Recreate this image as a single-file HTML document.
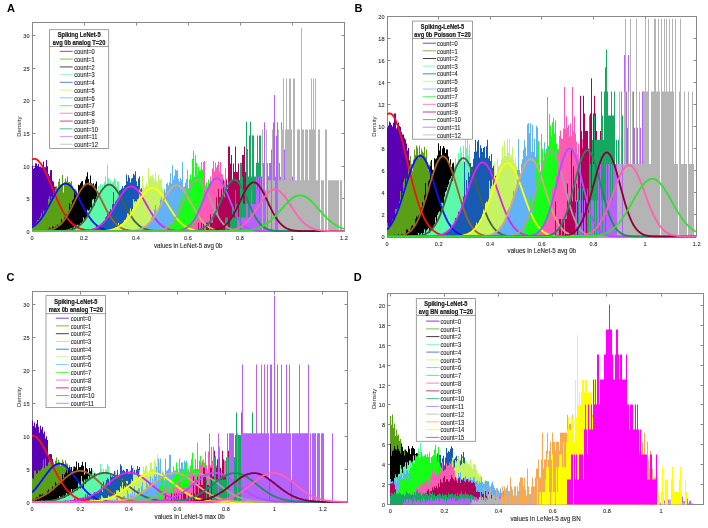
<!DOCTYPE html><html><head><meta charset="utf-8"><style>html,body{margin:0;padding:0;background:#fff;overflow:hidden}svg{display:block}text{font-family:"Liberation Sans",sans-serif}</style></head><body>
<svg width="708" height="528" viewBox="0 0 708 528">
<defs><filter id="bl" x="0" y="0" width="708" height="528" filterUnits="userSpaceOnUse"><feGaussianBlur stdDeviation="0.45"/></filter></defs>
<rect width="708" height="528" fill="#fff"/>
<g filter="url(#bl)">
<rect width="708" height="528" fill="#fff"/>
<rect x="32.5" y="22.5" width="312.0" height="209.0" fill="none" stroke="#888888" stroke-width="1"/>
<path d="M32.5 231.5h3.0M344.5 231.5h-3.0" stroke="#888888" stroke-width="1"/>
<text transform="translate(29.50 233.70) scale(1 1.100)" font-size="5.60" text-anchor="end" stroke="#333" stroke-width="0.10" fill="#333">0</text>
<path d="M32.5 198.5h3.0M344.5 198.5h-3.0" stroke="#888888" stroke-width="1"/>
<text transform="translate(29.50 201.10) scale(1 1.100)" font-size="5.60" text-anchor="end" stroke="#333" stroke-width="0.10" fill="#333">5</text>
<path d="M32.5 166.5h3.0M344.5 166.5h-3.0" stroke="#888888" stroke-width="1"/>
<text transform="translate(29.50 168.50) scale(1 1.100)" font-size="5.60" text-anchor="end" stroke="#333" stroke-width="0.10" fill="#333">10</text>
<path d="M32.5 133.5h3.0M344.5 133.5h-3.0" stroke="#888888" stroke-width="1"/>
<text transform="translate(29.50 135.90) scale(1 1.100)" font-size="5.60" text-anchor="end" stroke="#333" stroke-width="0.10" fill="#333">15</text>
<path d="M32.5 100.5h3.0M344.5 100.5h-3.0" stroke="#888888" stroke-width="1"/>
<text transform="translate(29.50 103.30) scale(1 1.100)" font-size="5.60" text-anchor="end" stroke="#333" stroke-width="0.10" fill="#333">20</text>
<path d="M32.5 68.5h3.0M344.5 68.5h-3.0" stroke="#888888" stroke-width="1"/>
<text transform="translate(29.50 70.70) scale(1 1.100)" font-size="5.60" text-anchor="end" stroke="#333" stroke-width="0.10" fill="#333">25</text>
<path d="M32.5 35.5h3.0M344.5 35.5h-3.0" stroke="#888888" stroke-width="1"/>
<text transform="translate(29.50 38.10) scale(1 1.100)" font-size="5.60" text-anchor="end" stroke="#333" stroke-width="0.10" fill="#333">30</text>
<path d="M32.5 231.5v-3.0M32.5 22.5v3.0" stroke="#888888" stroke-width="1"/>
<text transform="translate(32.00 240.20) scale(1 1.100)" font-size="5.60" text-anchor="middle" stroke="#333" stroke-width="0.10" fill="#333">0</text>
<path d="M84.5 231.5v-3.0M84.5 22.5v3.0" stroke="#888888" stroke-width="1"/>
<text transform="translate(84.00 240.20) scale(1 1.100)" font-size="5.60" text-anchor="middle" stroke="#333" stroke-width="0.10" fill="#333">0.2</text>
<path d="M136.5 231.5v-3.0M136.5 22.5v3.0" stroke="#888888" stroke-width="1"/>
<text transform="translate(136.00 240.20) scale(1 1.100)" font-size="5.60" text-anchor="middle" stroke="#333" stroke-width="0.10" fill="#333">0.4</text>
<path d="M188.5 231.5v-3.0M188.5 22.5v3.0" stroke="#888888" stroke-width="1"/>
<text transform="translate(188.00 240.20) scale(1 1.100)" font-size="5.60" text-anchor="middle" stroke="#333" stroke-width="0.10" fill="#333">0.6</text>
<path d="M240.5 231.5v-3.0M240.5 22.5v3.0" stroke="#888888" stroke-width="1"/>
<text transform="translate(240.00 240.20) scale(1 1.100)" font-size="5.60" text-anchor="middle" stroke="#333" stroke-width="0.10" fill="#333">0.8</text>
<path d="M292.5 231.5v-3.0M292.5 22.5v3.0" stroke="#888888" stroke-width="1"/>
<text transform="translate(292.00 240.20) scale(1 1.100)" font-size="5.60" text-anchor="middle" stroke="#333" stroke-width="0.10" fill="#333">1</text>
<path d="M344.5 231.5v-3.0M344.5 22.5v3.0" stroke="#888888" stroke-width="1"/>
<text transform="translate(344.00 240.20) scale(1 1.100)" font-size="5.60" text-anchor="middle" stroke="#333" stroke-width="0.10" fill="#333">1.2</text>
<text transform="translate(188.20 247.80) scale(1 1.050)" font-size="6.20" text-anchor="middle" stroke="#262626" stroke-width="0.10" fill="#262626">values in LeNet-5 avg 0b</text>
<text transform="translate(18.7 126.7) rotate(-90)" text-anchor="middle" font-size="6.1" fill="#262626" dy="2.1">Density</text>
<text transform="translate(7.00 11.80) scale(1 1.000)" font-size="11.00" font-weight="bold" fill="#000">A</text>
<rect x="387.5" y="16.5" width="309.0" height="220.0" fill="none" stroke="#888888" stroke-width="1"/>
<path d="M387.5 236.5h3.0M696.5 236.5h-3.0" stroke="#888888" stroke-width="1"/>
<text transform="translate(384.50 239.10) scale(1 1.100)" font-size="5.60" text-anchor="end" stroke="#333" stroke-width="0.10" fill="#333">0</text>
<path d="M387.5 214.5h3.0M696.5 214.5h-3.0" stroke="#888888" stroke-width="1"/>
<text transform="translate(384.50 217.10) scale(1 1.100)" font-size="5.60" text-anchor="end" stroke="#333" stroke-width="0.10" fill="#333">2</text>
<path d="M387.5 192.5h3.0M696.5 192.5h-3.0" stroke="#888888" stroke-width="1"/>
<text transform="translate(384.50 195.10) scale(1 1.100)" font-size="5.60" text-anchor="end" stroke="#333" stroke-width="0.10" fill="#333">4</text>
<path d="M387.5 170.5h3.0M696.5 170.5h-3.0" stroke="#888888" stroke-width="1"/>
<text transform="translate(384.50 173.10) scale(1 1.100)" font-size="5.60" text-anchor="end" stroke="#333" stroke-width="0.10" fill="#333">6</text>
<path d="M387.5 148.5h3.0M696.5 148.5h-3.0" stroke="#888888" stroke-width="1"/>
<text transform="translate(384.50 151.10) scale(1 1.100)" font-size="5.60" text-anchor="end" stroke="#333" stroke-width="0.10" fill="#333">8</text>
<path d="M387.5 126.5h3.0M696.5 126.5h-3.0" stroke="#888888" stroke-width="1"/>
<text transform="translate(384.50 129.10) scale(1 1.100)" font-size="5.60" text-anchor="end" stroke="#333" stroke-width="0.10" fill="#333">10</text>
<path d="M387.5 104.5h3.0M696.5 104.5h-3.0" stroke="#888888" stroke-width="1"/>
<text transform="translate(384.50 107.10) scale(1 1.100)" font-size="5.60" text-anchor="end" stroke="#333" stroke-width="0.10" fill="#333">12</text>
<path d="M387.5 82.5h3.0M696.5 82.5h-3.0" stroke="#888888" stroke-width="1"/>
<text transform="translate(384.50 85.10) scale(1 1.100)" font-size="5.60" text-anchor="end" stroke="#333" stroke-width="0.10" fill="#333">14</text>
<path d="M387.5 60.5h3.0M696.5 60.5h-3.0" stroke="#888888" stroke-width="1"/>
<text transform="translate(384.50 63.10) scale(1 1.100)" font-size="5.60" text-anchor="end" stroke="#333" stroke-width="0.10" fill="#333">16</text>
<path d="M387.5 38.5h3.0M696.5 38.5h-3.0" stroke="#888888" stroke-width="1"/>
<text transform="translate(384.50 41.10) scale(1 1.100)" font-size="5.60" text-anchor="end" stroke="#333" stroke-width="0.10" fill="#333">18</text>
<path d="M387.5 16.5h3.0M696.5 16.5h-3.0" stroke="#888888" stroke-width="1"/>
<text transform="translate(384.50 19.10) scale(1 1.100)" font-size="5.60" text-anchor="end" stroke="#333" stroke-width="0.10" fill="#333">20</text>
<path d="M387.5 236.5v-3.0M387.5 16.5v3.0" stroke="#888888" stroke-width="1"/>
<text transform="translate(387.00 245.60) scale(1 1.100)" font-size="5.60" text-anchor="middle" stroke="#333" stroke-width="0.10" fill="#333">0</text>
<path d="M438.5 236.5v-3.0M438.5 16.5v3.0" stroke="#888888" stroke-width="1"/>
<text transform="translate(438.60 245.60) scale(1 1.100)" font-size="5.60" text-anchor="middle" stroke="#333" stroke-width="0.10" fill="#333">0.2</text>
<path d="M490.5 236.5v-3.0M490.5 16.5v3.0" stroke="#888888" stroke-width="1"/>
<text transform="translate(490.20 245.60) scale(1 1.100)" font-size="5.60" text-anchor="middle" stroke="#333" stroke-width="0.10" fill="#333">0.4</text>
<path d="M541.5 236.5v-3.0M541.5 16.5v3.0" stroke="#888888" stroke-width="1"/>
<text transform="translate(541.80 245.60) scale(1 1.100)" font-size="5.60" text-anchor="middle" stroke="#333" stroke-width="0.10" fill="#333">0.6</text>
<path d="M593.5 236.5v-3.0M593.5 16.5v3.0" stroke="#888888" stroke-width="1"/>
<text transform="translate(593.40 245.60) scale(1 1.100)" font-size="5.60" text-anchor="middle" stroke="#333" stroke-width="0.10" fill="#333">0.8</text>
<path d="M645.5 236.5v-3.0M645.5 16.5v3.0" stroke="#888888" stroke-width="1"/>
<text transform="translate(645.00 245.60) scale(1 1.100)" font-size="5.60" text-anchor="middle" stroke="#333" stroke-width="0.10" fill="#333">1</text>
<path d="M696.5 236.5v-3.0M696.5 16.5v3.0" stroke="#888888" stroke-width="1"/>
<text transform="translate(696.60 245.60) scale(1 1.100)" font-size="5.60" text-anchor="middle" stroke="#333" stroke-width="0.10" fill="#333">1.2</text>
<text transform="translate(541.80 253.20) scale(1 1.050)" font-size="6.20" text-anchor="middle" stroke="#262626" stroke-width="0.10" fill="#262626">values in LeNet-5 avg 0b</text>
<text transform="translate(373.7 126.6) rotate(-90)" text-anchor="middle" font-size="6.1" fill="#262626" dy="2.1">Density</text>
<text transform="translate(354.40 11.90) scale(1 1.000)" font-size="11.00" font-weight="bold" fill="#000">B</text>
<rect x="32.5" y="291.5" width="315.0" height="211.0" fill="none" stroke="#888888" stroke-width="1"/>
<path d="M32.5 502.5h3.0M347.5 502.5h-3.0" stroke="#888888" stroke-width="1"/>
<text transform="translate(29.50 504.50) scale(1 1.100)" font-size="5.60" text-anchor="end" stroke="#333" stroke-width="0.10" fill="#333">0</text>
<path d="M32.5 469.5h3.0M347.5 469.5h-3.0" stroke="#888888" stroke-width="1"/>
<text transform="translate(29.50 471.62) scale(1 1.100)" font-size="5.60" text-anchor="end" stroke="#333" stroke-width="0.10" fill="#333">5</text>
<path d="M32.5 436.5h3.0M347.5 436.5h-3.0" stroke="#888888" stroke-width="1"/>
<text transform="translate(29.50 438.75) scale(1 1.100)" font-size="5.60" text-anchor="end" stroke="#333" stroke-width="0.10" fill="#333">10</text>
<path d="M32.5 403.5h3.0M347.5 403.5h-3.0" stroke="#888888" stroke-width="1"/>
<text transform="translate(29.50 405.88) scale(1 1.100)" font-size="5.60" text-anchor="end" stroke="#333" stroke-width="0.10" fill="#333">15</text>
<path d="M32.5 370.5h3.0M347.5 370.5h-3.0" stroke="#888888" stroke-width="1"/>
<text transform="translate(29.50 373.00) scale(1 1.100)" font-size="5.60" text-anchor="end" stroke="#333" stroke-width="0.10" fill="#333">20</text>
<path d="M32.5 337.5h3.0M347.5 337.5h-3.0" stroke="#888888" stroke-width="1"/>
<text transform="translate(29.50 340.12) scale(1 1.100)" font-size="5.60" text-anchor="end" stroke="#333" stroke-width="0.10" fill="#333">25</text>
<path d="M32.5 304.5h3.0M347.5 304.5h-3.0" stroke="#888888" stroke-width="1"/>
<text transform="translate(29.50 307.25) scale(1 1.100)" font-size="5.60" text-anchor="end" stroke="#333" stroke-width="0.10" fill="#333">30</text>
<path d="M32.5 502.5v-3.0M32.5 291.5v3.0" stroke="#888888" stroke-width="1"/>
<text transform="translate(32.00 511.00) scale(1 1.100)" font-size="5.60" text-anchor="middle" stroke="#333" stroke-width="0.10" fill="#333">0</text>
<path d="M80.5 502.5v-3.0M80.5 291.5v3.0" stroke="#888888" stroke-width="1"/>
<text transform="translate(80.48 511.00) scale(1 1.100)" font-size="5.60" text-anchor="middle" stroke="#333" stroke-width="0.10" fill="#333">0.2</text>
<path d="M128.5 502.5v-3.0M128.5 291.5v3.0" stroke="#888888" stroke-width="1"/>
<text transform="translate(128.96 511.00) scale(1 1.100)" font-size="5.60" text-anchor="middle" stroke="#333" stroke-width="0.10" fill="#333">0.4</text>
<path d="M177.5 502.5v-3.0M177.5 291.5v3.0" stroke="#888888" stroke-width="1"/>
<text transform="translate(177.44 511.00) scale(1 1.100)" font-size="5.60" text-anchor="middle" stroke="#333" stroke-width="0.10" fill="#333">0.6</text>
<path d="M225.5 502.5v-3.0M225.5 291.5v3.0" stroke="#888888" stroke-width="1"/>
<text transform="translate(225.92 511.00) scale(1 1.100)" font-size="5.60" text-anchor="middle" stroke="#333" stroke-width="0.10" fill="#333">0.8</text>
<path d="M274.5 502.5v-3.0M274.5 291.5v3.0" stroke="#888888" stroke-width="1"/>
<text transform="translate(274.40 511.00) scale(1 1.100)" font-size="5.60" text-anchor="middle" stroke="#333" stroke-width="0.10" fill="#333">1</text>
<path d="M322.5 502.5v-3.0M322.5 291.5v3.0" stroke="#888888" stroke-width="1"/>
<text transform="translate(322.88 511.00) scale(1 1.100)" font-size="5.60" text-anchor="middle" stroke="#333" stroke-width="0.10" fill="#333">1.2</text>
<text transform="translate(189.65 518.60) scale(1 1.050)" font-size="6.20" text-anchor="middle" stroke="#262626" stroke-width="0.10" fill="#262626">values in LeNet-5 max 0b</text>
<text transform="translate(18.7 396.8) rotate(-90)" text-anchor="middle" font-size="6.1" fill="#262626" dy="2.1">Density</text>
<text transform="translate(6.40 280.60) scale(1 1.000)" font-size="11.00" font-weight="bold" fill="#000">C</text>
<rect x="387.5" y="293.5" width="316.0" height="211.0" fill="none" stroke="#888888" stroke-width="1"/>
<path d="M387.5 504.5h3.0M703.5 504.5h-3.0" stroke="#888888" stroke-width="1"/>
<text transform="translate(385.00 506.90) scale(1 1.100)" font-size="5.60" text-anchor="end" stroke="#333" stroke-width="0.10" fill="#333">0</text>
<path d="M387.5 484.5h3.0M703.5 484.5h-3.0" stroke="#888888" stroke-width="1"/>
<text transform="translate(385.00 487.00) scale(1 1.100)" font-size="5.60" text-anchor="end" stroke="#333" stroke-width="0.10" fill="#333">2</text>
<path d="M387.5 464.5h3.0M703.5 464.5h-3.0" stroke="#888888" stroke-width="1"/>
<text transform="translate(385.00 467.10) scale(1 1.100)" font-size="5.60" text-anchor="end" stroke="#333" stroke-width="0.10" fill="#333">4</text>
<path d="M387.5 444.5h3.0M703.5 444.5h-3.0" stroke="#888888" stroke-width="1"/>
<text transform="translate(385.00 447.20) scale(1 1.100)" font-size="5.60" text-anchor="end" stroke="#333" stroke-width="0.10" fill="#333">6</text>
<path d="M387.5 424.5h3.0M703.5 424.5h-3.0" stroke="#888888" stroke-width="1"/>
<text transform="translate(385.00 427.30) scale(1 1.100)" font-size="5.60" text-anchor="end" stroke="#333" stroke-width="0.10" fill="#333">8</text>
<path d="M387.5 404.5h3.0M703.5 404.5h-3.0" stroke="#888888" stroke-width="1"/>
<text transform="translate(385.00 407.40) scale(1 1.100)" font-size="5.60" text-anchor="end" stroke="#333" stroke-width="0.10" fill="#333">10</text>
<path d="M387.5 385.5h3.0M703.5 385.5h-3.0" stroke="#888888" stroke-width="1"/>
<text transform="translate(385.00 387.50) scale(1 1.100)" font-size="5.60" text-anchor="end" stroke="#333" stroke-width="0.10" fill="#333">12</text>
<path d="M387.5 365.5h3.0M703.5 365.5h-3.0" stroke="#888888" stroke-width="1"/>
<text transform="translate(385.00 367.60) scale(1 1.100)" font-size="5.60" text-anchor="end" stroke="#333" stroke-width="0.10" fill="#333">14</text>
<path d="M387.5 345.5h3.0M703.5 345.5h-3.0" stroke="#888888" stroke-width="1"/>
<text transform="translate(385.00 347.70) scale(1 1.100)" font-size="5.60" text-anchor="end" stroke="#333" stroke-width="0.10" fill="#333">16</text>
<path d="M387.5 325.5h3.0M703.5 325.5h-3.0" stroke="#888888" stroke-width="1"/>
<text transform="translate(385.00 327.80) scale(1 1.100)" font-size="5.60" text-anchor="end" stroke="#333" stroke-width="0.10" fill="#333">18</text>
<path d="M387.5 305.5h3.0M703.5 305.5h-3.0" stroke="#888888" stroke-width="1"/>
<text transform="translate(385.00 307.90) scale(1 1.100)" font-size="5.60" text-anchor="end" stroke="#333" stroke-width="0.10" fill="#333">20</text>
<path d="M390.5 504.5v-3.0M390.5 293.5v3.0" stroke="#888888" stroke-width="1"/>
<text transform="translate(390.20 513.40) scale(1 1.100)" font-size="5.60" text-anchor="middle" stroke="#333" stroke-width="0.10" fill="#333">0</text>
<path d="M444.5 504.5v-3.0M444.5 293.5v3.0" stroke="#888888" stroke-width="1"/>
<text transform="translate(444.38 513.40) scale(1 1.100)" font-size="5.60" text-anchor="middle" stroke="#333" stroke-width="0.10" fill="#333">0.2</text>
<path d="M498.5 504.5v-3.0M498.5 293.5v3.0" stroke="#888888" stroke-width="1"/>
<text transform="translate(498.56 513.40) scale(1 1.100)" font-size="5.60" text-anchor="middle" stroke="#333" stroke-width="0.10" fill="#333">0.4</text>
<path d="M552.5 504.5v-3.0M552.5 293.5v3.0" stroke="#888888" stroke-width="1"/>
<text transform="translate(552.74 513.40) scale(1 1.100)" font-size="5.60" text-anchor="middle" stroke="#333" stroke-width="0.10" fill="#333">0.6</text>
<path d="M606.5 504.5v-3.0M606.5 293.5v3.0" stroke="#888888" stroke-width="1"/>
<text transform="translate(606.92 513.40) scale(1 1.100)" font-size="5.60" text-anchor="middle" stroke="#333" stroke-width="0.10" fill="#333">0.8</text>
<path d="M661.5 504.5v-3.0M661.5 293.5v3.0" stroke="#888888" stroke-width="1"/>
<text transform="translate(661.10 513.40) scale(1 1.100)" font-size="5.60" text-anchor="middle" stroke="#333" stroke-width="0.10" fill="#333">1</text>
<text transform="translate(545.55 521.00) scale(1 1.050)" font-size="6.20" text-anchor="middle" stroke="#262626" stroke-width="0.10" fill="#262626">values in LeNet-5 avg BN</text>
<text transform="translate(374.2 398.9) rotate(-90)" text-anchor="middle" font-size="6.1" fill="#262626" dy="2.1">Density</text>
<text transform="translate(353.80 280.80) scale(1 1.000)" font-size="11.00" font-weight="bold" fill="#000">D</text>
<clipPath id="cA"><rect x="32.0" y="21.2" width="312.4" height="211.0"/></clipPath>
<g clip-path="url(#cA)">
<path d="M32 231.2V165.5H33V168.7H34V167.7H35V163.2H36V163.6H37V165.7H38V163.8H39V166.7H40V166.4H41V167.4H42V166.4H43V161.6H44V167.3H45V167.3H46V160.1H47V166.3H48V173.9H49V176.1H50V170.3H51V170.1H52V180.7H53V181.7H54V186.4H55V186.8H56V188.4H57V195.3H58V199.0H59V201.0H60V204.6H61V208.7H62V211.2H63V214.4H64V217.1H65V216.4H66V221.6H67V223.0H68V224.9H69V226.7H70V227.8H71V228.8H72V229.5H73V230.0H74V230.4H75V230.7H76V230.9H77V231.0H78V231.1H79V231.2" fill="#5a00b4"/>
<path d="M32 231.2V226.5H33V224.9H34V225.7H35V223.4H36V222.2H37V219.9H38V219.9H39V217.9H40V216.3H41V212.8H42V215.9H43V210.5H44V211.6H45V210.1H46V208.5H47V206.6H48V198.7H49V196.0H50V200.3H51V196.4H52V197.6H53V194.0H54V195.2H55V188.2H56V186.2H57V187.8H58V181.5H59V178.4H60V184.6H61V183.9H62V174.9H63V192.5H64V182.3H65V178.4H66V181.5H67V176.4H68V182.3H69V181.9H70V182.7H71V181.1H72V185.8H73V189.0H74V189.3H75V189.3H76V190.5H77V192.5H78V196.0H79V197.9H80V194.8H81V197.9H82V197.2H83V203.8H84V209.3H85V207.3H86V208.1H87V212.8H88V213.6H89V217.5H90V216.3H91V219.9H92V219.5H93V219.1H94V221.8H95V223.4H96V223.4H97V224.2H98V226.5H99V225.3H100V227.3H101V226.9H102V227.7H103V226.5H104V228.9H105V228.1H106V230.0H107V228.9H108V229.6H109V230.0H110V230.0H111V230.4H112V230.0H113V230.0H114V230.8H115V230.8H116V230.8H117V230.8H118V231.2" fill="#5aa014"/>
<path d="M39 231.2V230.7H40V231.2M42 231.2V230.2H43V230.2H44V230.7H45V230.7H46V230.2H47V230.2H48V229.6H49V227.5H50V228.6H51V229.1H52V226.5H53V227.0H54V228.6H55V226.5H56V226.5H57V224.4H58V224.9H59V224.9H60V222.9H61V219.2H62V221.3H63V221.8H64V217.6H65V216.1H66V214.5H67V214.0H68V210.9H69V203.6H70V207.2H71V204.6H72V200.4H73V198.9H74V192.6H75V194.7H76V198.9H77V194.2H78V184.8H79V185.3H80V183.2H81V181.6H82V181.1H83V186.9H84V185.8H85V179.6H86V176.4H87V172.3H88V179.0H89V185.3H90V175.4H91V183.2H92V184.3H93V183.2H94V185.8H95V183.7H96V181.6H97V193.6H98V190.0H99V194.2H100V198.9H101V199.9H102V197.8H103V199.9H104V204.1H105V197.3H106V201.5H107V208.2H108V210.9H109V217.1H110V213.5H111V217.6H112V220.8H113V218.7H114V220.8H115V220.2H116V223.4H117V224.9H118V225.5H119V224.9H120V224.4H121V228.6H122V227.5H123V228.1H124V227.5H125V229.1H126V229.1H127V230.7H128V230.7H129V230.2H130V229.6H131V230.7H132V230.7H133V230.7H134V231.2M136 231.2V230.7H137V230.7H138V231.2" fill="#000000"/>
<path d="M59 231.2V230.5H60V230.5H61V231.2M62 231.2V230.5H63V230.5H64V230.5H65V231.2M66 231.2V229.8H67V229.8H68V229.0H69V229.0H70V228.3H71V228.3H72V229.0H73V227.6H74V226.2H75V228.3H76V225.5H77V224.7H78V225.5H79V225.5H80V223.3H81V224.0H82V221.9H83V217.6H84V219.7H85V218.3H86V217.6H87V209.7H88V210.4H89V209.7H90V207.5H91V208.2H92V199.6H93V198.9H94V205.4H95V198.9H96V196.8H97V191.0H98V186.0H99V193.9H100V183.9H101V190.3H102V184.6H103V188.9H104V181.7H105V176.7H106V183.9H107V164.5H108V178.1H109V183.1H110V180.3H111V186.0H112V182.4H113V181.0H114V178.1H115V179.6H116V186.0H117V181.0H118V181.7H119V193.2H120V193.9H121V187.5H122V200.4H123V204.7H124V197.5H125V201.1H126V208.2H127V206.1H128V202.5H129V208.2H130V216.1H131V215.4H132V216.9H133V214.7H134V221.2H135V220.4H136V220.4H137V223.3H138V224.0H139V224.7H140V226.2H141V226.9H142V227.6H143V226.9H144V227.6H145V226.9H146V226.9H147V227.6H148V229.0H149V230.5H150V229.8H151V231.2M152 231.2V230.5H153V229.8H154V230.5H155V231.2M156 231.2V230.5H157V230.5H158V231.2M159 231.2V229.8H160V231.2" fill="#5afaaa"/>
<path d="M79 231.2V231.0H80V231.0H81V231.0H82V230.9H83V230.9H84V230.7H85V230.7H86V230.4H87V230.4H88V230.1H89V230.1H90V229.8H91V229.5H92V229.1H93V228.5H94V228.4H95V228.1H96V225.8H97V226.5H98V226.4H99V225.2H100V224.5H101V223.6H102V222.5H103V221.0H104V220.5H105V217.5H106V216.2H107V214.3H108V214.7H109V211.4H110V209.0H111V210.1H112V204.3H113V191.9H114V204.0H115V201.5H116V200.2H117V198.6H118V196.7H119V190.6H120V189.7H121V188.9H122V186.2H123V188.3H124V185.9H125V185.1H126V174.4H127V181.2H128V175.2H129V178.0H130V182.4H131V178.6H132V178.0H133V173.7H134V175.2H135V171.2H136V181.2H137V185.9H138V178.6H139V176.4H140V189.2H141V188.2H142V187.5H143V191.7H144V198.3H145V192.8H146V200.0H147V203.5H148V201.9H149V203.2H150V209.7H151V211.0H152V213.0H153V213.5H154V213.7H155V218.1H156V215.6H157V214.6H158V221.5H159V222.8H160V221.4H161V224.4H162V225.2H163V224.3H164V225.9H165V227.6H166V228.1H167V228.4H168V228.4H169V229.3H170V229.5H171V229.8H172V230.0H173V230.0H174V230.4H175V230.6H176V230.7H177V230.8H178V230.8H179V230.8H180V231.0H181V231.0H182V231.0H183V231.1H184V231.2" fill="#145ab4"/>
<path d="M98 231.2V231.1H99V231.0H100V231.0H101V231.0H102V230.9H103V230.8H104V230.7H105V230.6H106V230.5H107V230.3H108V230.2H109V229.9H110V229.8H111V229.6H112V229.4H113V228.9H114V228.7H115V227.2H116V227.6H117V226.8H118V222.9H119V225.6H120V224.3H121V224.3H122V223.5H123V221.7H124V219.9H125V219.4H126V217.6H127V213.3H128V212.1H129V211.4H130V208.4H131V211.5H132V208.9H133V198.9H134V201.8H135V201.0H136V201.4H137V199.2H138V198.6H139V189.6H140V191.2H141V191.9H142V175.4H143V186.3H144V188.2H145V186.3H146V183.3H147V185.6H148V168.6H149V179.1H150V175.4H151V176.6H152V175.1H153V177.6H154V180.7H155V172.2H156V180.8H157V183.0H158V174.4H159V179.5H160V179.7H161V178.7H162V187.9H163V190.4H164V194.6H165V197.5H166V195.5H167V193.5H168V196.6H169V184.5H170V206.8H171V207.3H172V203.7H173V211.5H174V209.5H175V214.4H176V216.1H177V216.5H178V218.7H179V220.3H180V221.6H181V222.0H182V223.5H183V224.1H184V223.9H185V225.7H186V225.5H187V227.4H188V227.5H189V227.8H190V228.5H191V228.8H192V229.3H193V229.4H194V229.0H195V230.1H196V230.2H197V230.5H198V230.6H199V230.4H200V230.7H201V230.8H202V230.8H203V230.9H204V231.0H205V231.0H206V231.1H207V231.2" fill="#c4f464"/>
<path d="M127 231.2V231.1H128V231.0H129V230.9H130V230.9H131V230.8H132V230.5H133V230.5H134V230.5H135V230.3H136V230.1H137V230.0H138V229.4H139V229.4H140V227.9H141V228.3H142V226.5H143V227.7H144V226.9H145V226.1H146V225.5H147V223.8H148V223.4H149V222.8H150V221.5H151V217.6H152V215.5H153V216.8H154V209.3H155V205.0H156V211.0H157V210.5H158V208.4H159V205.5H160V199.8H161V197.0H162V200.6H163V197.2H164V189.1H165V192.4H166V184.0H167V182.7H168V185.4H169V182.6H170V173.1H171V183.6H172V165.3H173V179.4H174V175.5H175V169.3H176V170.8H177V170.1H178V179.1H179V182.1H180V177.9H181V179.9H182V162.1H183V186.9H184V186.5H185V182.7H186V179.1H187V169.9H188V193.8H189V193.5H190V197.3H191V198.3H192V204.0H193V199.7H194V208.4H195V208.1H196V209.8H197V214.0H198V215.0H199V215.4H200V214.4H201V217.9H202V220.9H203V221.0H204V223.2H205V222.8H206V224.1H207V225.5H208V226.8H209V225.7H210V228.2H211V227.9H212V229.0H213V229.1H214V228.9H215V229.0H216V230.1H217V230.3H218V230.4H219V230.5H220V230.7H221V230.8H222V230.9H223V230.9H224V231.0H225V231.1H226V231.0H227V231.2" fill="#62b2f8"/>
<path d="M153 231.2V231.1H154V231.0H155V231.0H156V230.8H157V230.8H158V230.7H159V230.6H160V230.3H161V230.0H162V229.9H163V228.9H164V229.0H165V228.4H166V225.3H167V227.7H168V227.3H169V225.6H170V224.6H171V223.0H172V221.9H173V221.6H174V214.3H175V216.0H176V217.0H177V207.7H178V207.8H179V203.8H180V201.4H181V204.7H182V192.9H183V200.2H184V197.4H185V194.2H186V188.3H187V190.2H188V188.9H189V179.3H190V174.6H191V179.7H192V158.8H193V151.0H194V176.9H195V155.1H196V163.0H197V174.6H198V166.8H199V170.7H200V170.2H201V162.1H202V169.5H203V161.9H204V181.7H205V185.2H206V182.4H207V186.4H208V179.4H209V194.8H210V192.6H211V199.1H212V185.8H213V188.2H214V207.6H215V189.2H216V211.6H217V207.4H218V215.4H219V215.1H220V210.7H221V221.0H222V221.8H223V219.6H224V222.8H225V221.4H226V226.3H227V227.4H228V228.0H229V228.3H230V228.6H231V229.5H232V229.8H233V230.0H234V230.0H235V230.4H236V230.6H237V230.6H238V230.7H239V230.9H240V231.0H241V231.0H242V231.1H243V231.2" fill="#14ff14"/>
<path d="M176 231.2V231.1H177V231.0H178V231.0H179V230.9H180V230.8H181V230.7H182V230.5H183V230.4H184V230.2H185V229.9H186V228.6H187V228.7H188V228.8H189V227.8H190V226.8H191V226.0H192V225.7H193V223.1H194V222.2H195V221.3H196V220.3H197V215.3H198V216.6H199V212.5H200V205.0H201V204.9H202V199.8H203V203.1H204V160.9H205V191.2H206V193.1H207V189.2H208V188.0H209V183.2H210V176.4H211V182.0H212V168.5H213V161.0H214V171.3H215V162.8H216V167.4H217V165.1H218V161.6H219V171.4H220V161.9H221V173.7H222V174.5H223V178.4H224V180.7H225V168.3H226V178.6H227V190.7H228V184.5H229V196.6H230V176.5H231V195.1H232V203.7H233V204.1H234V193.3H235V212.7H236V211.2H237V215.7H238V218.4H239V214.5H240V222.2H241V223.0H242V222.6H243V225.2H244V223.9H245V227.4H246V228.1H247V228.5H248V229.2H249V229.3H250V229.9H251V230.3H252V230.4H253V230.5H254V230.8H255V230.8H256V230.9H257V231.0H258V231.1H259V231.2" fill="#ff5ab4"/>
<path d="M198 231.2V222.7H199V231.2M201 231.2V222.7H202V231.2M203 231.2V222.7H204V231.2M206 231.2V222.7H207V222.7H208V222.7H209V231.2M210 231.2V214.2H211V222.7H212V222.7H213V214.2H214V214.2H215V214.2H216V197.3H217V214.2H218V188.8H219V197.3H220V197.3H221V188.8H222V197.3H223V180.3H224V197.3H225V188.8H226V180.3H227V188.8H228V146.4H229V146.4H230V163.4H231V154.9H232V180.3H233V163.4H234V171.9H235V146.4H236V171.9H237V171.9H238V163.4H239V180.3H240V163.4H241V171.9H242V154.9H243V154.9H244V146.4H245V171.9H246V154.9H247V197.3H248V188.8H249V171.9H250V197.3H251V205.8H252V197.3H253V197.3H254V205.8H255V205.8H256V188.8H257V197.3H258V214.2H259V214.2H260V231.2M261 231.2V214.2H262V214.2H263V222.7H264V222.7H265V231.2M267 231.2V222.7H268V231.2M271 231.2V222.7H272V231.2M273 231.2V222.7H274V231.2" fill="#b00058"/>
<path d="M225 231.2V217.5H226V217.5H227V217.5H228V231.2M230 231.2V217.5H231V217.5H232V203.8H233V217.5H234V217.5H235V190.1H236V203.8H237V203.8H238V217.5H239V203.8H240V162.7H241V162.7H242V176.4H243V203.8H244V203.8H245V190.1H246V121.7H247V149.0H248V176.4H249V135.4H250V121.7H251V176.4H252V135.4H253V135.4H254V176.4H255V176.4H256V162.7H257V135.4H258V162.7H259V135.4H260V135.4H261V176.4H262V149.0H263V190.1H264V149.0H265V203.8H266V176.4H267V203.8H268V176.4H269V190.1H270V203.8H271V203.8H272V203.8H273V217.5H274V217.5H275V190.1H276V190.1H277V231.2M281 231.2V217.5H282V217.5H283V203.8H284V217.5H285V217.5H286V231.2M287 231.2V217.5H288V231.2M292 231.2V217.5H293V217.5H294V231.2" fill="#14a864"/>
<path d="M237 231.2V217.6H238V217.6H239V217.6H240V231.2M241 231.2V217.6H242V217.6H243V217.6H244V217.6H245V217.6H246V203.9H247V203.9H248V217.6H249V217.6H250V203.9H251V190.3H252V203.9H253V203.9H254V203.9H255V203.9H256V176.7H257V190.3H258V176.7H259V203.9H260V176.7H261V190.3H262V190.3H263V163.1H264V122.3H265V190.3H266V163.1H267V163.1H268V176.7H269V163.1H270V163.1H271V149.4H272V163.1H273V122.3H274V94.9H275V176.7H276V135.8H277V122.3H278V176.7H279V163.1H280V176.7H281V122.3H282V190.3H283V149.4H284V149.4H285V163.1H286V176.7H287V135.8H288V163.1H289V163.1H290V163.1H291V176.7H292V176.7H293V176.7H294V163.1H295V190.3H296V190.3H297V203.9H298V190.3H299V176.7H300V217.6H301V203.9H302V176.7H303V176.7H304V203.9H305V217.6H306V203.9H307V231.2M308 231.2V203.9H309V231.2M312 231.2V217.6H313V203.9H314V217.6H315V217.6H316V231.2" fill="#b464ff"/>
<path d="M262 231.2V129.5H263V231.2M266 231.2V129.5H267V231.2M268 231.2V180.3H269V180.3H270V180.3H271V231.2M272 231.2V129.5H273V180.3H274V180.3H275V231.2M278 231.2V129.5H279V180.3H280V180.3H281V129.5H282V129.5H283V78.6H284V180.3H285V129.5H286V78.6H287V129.5H288V129.5H289V78.6H290V78.6H291V129.5H292V180.3H293V78.6H294V78.6H295V180.3H296V180.3H297V129.5H298V129.5H299V129.5H300V180.3H301V27.8H302V129.5H303V129.5H304V180.3H305V129.5H306V129.5H307V129.5H308V180.3H309V129.5H310V129.5H311V78.6H312V129.5H313V78.6H314V129.5H315V78.6H316V180.3H317V180.3H318V129.5H319V129.5H320V231.2M321 231.2V180.3H322V180.3H323V180.3H324V231.2M325 231.2V129.5H326V129.5H327V231.2M328 231.2V180.3H329V180.3H330V180.3H331V180.3H332V180.3H333V180.3H334V180.3H335V180.3H336V180.3H337V180.3H338V180.3H339V231.2M340 231.2V180.3H341V180.3H342V231.2M344 231.2V180.3H345V231.2" fill="#b4b4b4"/>
<path d="M32.0 159.3L33.0 159.0L34.0 158.8L35.0 158.9L36.0 159.2L37.0 159.8L38.0 160.5L39.0 161.5L40.0 162.7L41.0 164.0L42.0 165.5L43.0 167.2L44.0 169.1L45.0 171.1L46.0 173.2L47.0 175.4L48.0 177.6L49.0 180.0L50.0 182.4L51.0 184.8L52.0 187.3L53.0 189.7L54.0 192.1L55.0 194.5L56.0 196.9L57.0 199.2L58.0 201.4L59.0 203.6L60.0 205.7L61.0 207.7L62.0 209.6L63.0 211.5L64.0 213.2L65.0 214.8L66.0 216.3L67.0 217.8L68.0 219.1L69.0 220.3L70.0 221.4L71.0 222.5L72.0 223.4L73.0 224.3L74.0 225.1L75.0 225.8L76.0 226.5L77.0 227.1L78.0 227.6L79.0 228.1L80.0 228.5L81.0 228.8L82.0 229.2L83.0 229.4L84.0 229.7L85.0 229.9L86.0 230.1L87.0 230.3L88.0 230.4L89.0 230.5L90.0 230.6L91.0 230.7L92.0 230.8L93.0 230.9L94.0 230.9L95.0 231.0L96.0 231.0L97.0 231.0L98.0 231.1L99.0 231.1L100.0 231.1L101.0 231.1L102.0 231.1L103.0 231.2L104.0 231.2L105.0 231.2L106.0 231.2L107.0 231.2L108.0 231.2L109.0 231.2L110.0 231.2L111.0 231.2L112.0 231.2L113.0 231.2L114.0 231.2L115.0 231.2L116.0 231.2L117.0 231.2L118.0 231.2L119.0 231.2L120.0 231.2L121.0 231.2L122.0 231.2L123.0 231.2L124.0 231.2L125.0 231.2L126.0 231.2L127.0 231.2L128.0 231.2L129.0 231.2L130.0 231.2L131.0 231.2L132.0 231.2L133.0 231.2L134.0 231.2L135.0 231.2L136.0 231.2L137.0 231.2L138.0 231.2L139.0 231.2L140.0 231.2L141.0 231.2L142.0 231.2L143.0 231.2L144.0 231.2L145.0 231.2L146.0 231.2L147.0 231.2L148.0 231.2L149.0 231.2L150.0 231.2L151.0 231.2L152.0 231.2L153.0 231.2L154.0 231.2L155.0 231.2L156.0 231.2L157.0 231.2L158.0 231.2L159.0 231.2L160.0 231.2L161.0 231.2L162.0 231.2L163.0 231.2L164.0 231.2L165.0 231.2L166.0 231.2L167.0 231.2L168.0 231.2L169.0 231.2L170.0 231.2L171.0 231.2L172.0 231.2L173.0 231.2L174.0 231.2L175.0 231.2L176.0 231.2L177.0 231.2L178.0 231.2L179.0 231.2L180.0 231.2L181.0 231.2L182.0 231.2L183.0 231.2L184.0 231.2L185.0 231.2L186.0 231.2L187.0 231.2L188.0 231.2L189.0 231.2L190.0 231.2L191.0 231.2L192.0 231.2L193.0 231.2L194.0 231.2L195.0 231.2L196.0 231.2L197.0 231.2L198.0 231.2L199.0 231.2L200.0 231.2L201.0 231.2L202.0 231.2L203.0 231.2L204.0 231.2L205.0 231.2L206.0 231.2L207.0 231.2L208.0 231.2L209.0 231.2L210.0 231.2L211.0 231.2L212.0 231.2L213.0 231.2L214.0 231.2L215.0 231.2L216.0 231.2L217.0 231.2L218.0 231.2L219.0 231.2L220.0 231.2L221.0 231.2L222.0 231.2L223.0 231.2L224.0 231.2L225.0 231.2L226.0 231.2L227.0 231.2L228.0 231.2L229.0 231.2L230.0 231.2L231.0 231.2L232.0 231.2L233.0 231.2L234.0 231.2L235.0 231.2L236.0 231.2L237.0 231.2L238.0 231.2L239.0 231.2L240.0 231.2L241.0 231.2L242.0 231.2L243.0 231.2L244.0 231.2L245.0 231.2L246.0 231.2L247.0 231.2L248.0 231.2L249.0 231.2L250.0 231.2L251.0 231.2L252.0 231.2L253.0 231.2L254.0 231.2L255.0 231.2L256.0 231.2L257.0 231.2L258.0 231.2L259.0 231.2L260.0 231.2L261.0 231.2L262.0 231.2L263.0 231.2L264.0 231.2L265.0 231.2L266.0 231.2L267.0 231.2L268.0 231.2L269.0 231.2L270.0 231.2L271.0 231.2L272.0 231.2L273.0 231.2L274.0 231.2L275.0 231.2L276.0 231.2L277.0 231.2L278.0 231.2L279.0 231.2L280.0 231.2L281.0 231.2L282.0 231.2L283.0 231.2L284.0 231.2L285.0 231.2L286.0 231.2L287.0 231.2L288.0 231.2L289.0 231.2L290.0 231.2L291.0 231.2L292.0 231.2L293.0 231.2L294.0 231.2L295.0 231.2L296.0 231.2L297.0 231.2L298.0 231.2L299.0 231.2L300.0 231.2L301.0 231.2L302.0 231.2L303.0 231.2L304.0 231.2L305.0 231.2L306.0 231.2L307.0 231.2L308.0 231.2L309.0 231.2L310.0 231.2L311.0 231.2L312.0 231.2L313.0 231.2L314.0 231.2L315.0 231.2L316.0 231.2L317.0 231.2L318.0 231.2L319.0 231.2L320.0 231.2L321.0 231.2L322.0 231.2L323.0 231.2L324.0 231.2L325.0 231.2L326.0 231.2L327.0 231.2L328.0 231.2L329.0 231.2L330.0 231.2L331.0 231.2L332.0 231.2L333.0 231.2L334.0 231.2L335.0 231.2L336.0 231.2L337.0 231.2L338.0 231.2L339.0 231.2L340.0 231.2L341.0 231.2L342.0 231.2L343.0 231.2L344.0 231.2" fill="none" stroke="#ff1010" stroke-width="1.8"/>
<path d="M32.0 227.3L33.0 226.7L34.0 226.0L35.0 225.3L36.0 224.4L37.0 223.5L38.0 222.5L39.0 221.4L40.0 220.2L41.0 218.9L42.0 217.5L43.0 216.0L44.0 214.5L45.0 212.8L46.0 211.1L47.0 209.3L48.0 207.5L49.0 205.6L50.0 203.7L51.0 201.8L52.0 199.9L53.0 198.0L54.0 196.2L55.0 194.4L56.0 192.7L57.0 191.1L58.0 189.6L59.0 188.2L60.0 187.0L61.0 186.0L62.0 185.1L63.0 184.4L64.0 183.9L65.0 183.7L66.0 183.6L67.0 183.8L68.0 184.1L69.0 184.7L70.0 185.4L71.0 186.4L72.0 187.5L73.0 188.7L74.0 190.1L75.0 191.7L76.0 193.3L77.0 195.1L78.0 196.9L79.0 198.8L80.0 200.6L81.0 202.6L82.0 204.5L83.0 206.4L84.0 208.2L85.0 210.0L86.0 211.8L87.0 213.5L88.0 215.1L89.0 216.6L90.0 218.1L91.0 219.4L92.0 220.7L93.0 221.8L94.0 222.9L95.0 223.9L96.0 224.8L97.0 225.6L98.0 226.3L99.0 227.0L100.0 227.6L101.0 228.1L102.0 228.5L103.0 228.9L104.0 229.3L105.0 229.6L106.0 229.8L107.0 230.1L108.0 230.3L109.0 230.4L110.0 230.6L111.0 230.7L112.0 230.8L113.0 230.8L114.0 230.9L115.0 231.0L116.0 231.0L117.0 231.1L118.0 231.1L119.0 231.1L120.0 231.1L121.0 231.1L122.0 231.2L123.0 231.2L124.0 231.2L125.0 231.2L126.0 231.2L127.0 231.2L128.0 231.2L129.0 231.2L130.0 231.2L131.0 231.2L132.0 231.2L133.0 231.2L134.0 231.2L135.0 231.2L136.0 231.2L137.0 231.2L138.0 231.2L139.0 231.2L140.0 231.2L141.0 231.2L142.0 231.2L143.0 231.2L144.0 231.2L145.0 231.2L146.0 231.2L147.0 231.2L148.0 231.2L149.0 231.2L150.0 231.2L151.0 231.2L152.0 231.2L153.0 231.2L154.0 231.2L155.0 231.2L156.0 231.2L157.0 231.2L158.0 231.2L159.0 231.2L160.0 231.2L161.0 231.2L162.0 231.2L163.0 231.2L164.0 231.2L165.0 231.2L166.0 231.2L167.0 231.2L168.0 231.2L169.0 231.2L170.0 231.2L171.0 231.2L172.0 231.2L173.0 231.2L174.0 231.2L175.0 231.2L176.0 231.2L177.0 231.2L178.0 231.2L179.0 231.2L180.0 231.2L181.0 231.2L182.0 231.2L183.0 231.2L184.0 231.2L185.0 231.2L186.0 231.2L187.0 231.2L188.0 231.2L189.0 231.2L190.0 231.2L191.0 231.2L192.0 231.2L193.0 231.2L194.0 231.2L195.0 231.2L196.0 231.2L197.0 231.2L198.0 231.2L199.0 231.2L200.0 231.2L201.0 231.2L202.0 231.2L203.0 231.2L204.0 231.2L205.0 231.2L206.0 231.2L207.0 231.2L208.0 231.2L209.0 231.2L210.0 231.2L211.0 231.2L212.0 231.2L213.0 231.2L214.0 231.2L215.0 231.2L216.0 231.2L217.0 231.2L218.0 231.2L219.0 231.2L220.0 231.2L221.0 231.2L222.0 231.2L223.0 231.2L224.0 231.2L225.0 231.2L226.0 231.2L227.0 231.2L228.0 231.2L229.0 231.2L230.0 231.2L231.0 231.2L232.0 231.2L233.0 231.2L234.0 231.2L235.0 231.2L236.0 231.2L237.0 231.2L238.0 231.2L239.0 231.2L240.0 231.2L241.0 231.2L242.0 231.2L243.0 231.2L244.0 231.2L245.0 231.2L246.0 231.2L247.0 231.2L248.0 231.2L249.0 231.2L250.0 231.2L251.0 231.2L252.0 231.2L253.0 231.2L254.0 231.2L255.0 231.2L256.0 231.2L257.0 231.2L258.0 231.2L259.0 231.2L260.0 231.2L261.0 231.2L262.0 231.2L263.0 231.2L264.0 231.2L265.0 231.2L266.0 231.2L267.0 231.2L268.0 231.2L269.0 231.2L270.0 231.2L271.0 231.2L272.0 231.2L273.0 231.2L274.0 231.2L275.0 231.2L276.0 231.2L277.0 231.2L278.0 231.2L279.0 231.2L280.0 231.2L281.0 231.2L282.0 231.2L283.0 231.2L284.0 231.2L285.0 231.2L286.0 231.2L287.0 231.2L288.0 231.2L289.0 231.2L290.0 231.2L291.0 231.2L292.0 231.2L293.0 231.2L294.0 231.2L295.0 231.2L296.0 231.2L297.0 231.2L298.0 231.2L299.0 231.2L300.0 231.2L301.0 231.2L302.0 231.2L303.0 231.2L304.0 231.2L305.0 231.2L306.0 231.2L307.0 231.2L308.0 231.2L309.0 231.2L310.0 231.2L311.0 231.2L312.0 231.2L313.0 231.2L314.0 231.2L315.0 231.2L316.0 231.2L317.0 231.2L318.0 231.2L319.0 231.2L320.0 231.2L321.0 231.2L322.0 231.2L323.0 231.2L324.0 231.2L325.0 231.2L326.0 231.2L327.0 231.2L328.0 231.2L329.0 231.2L330.0 231.2L331.0 231.2L332.0 231.2L333.0 231.2L334.0 231.2L335.0 231.2L336.0 231.2L337.0 231.2L338.0 231.2L339.0 231.2L340.0 231.2L341.0 231.2L342.0 231.2L343.0 231.2L344.0 231.2" fill="none" stroke="#1010ff" stroke-width="1.8"/>
<path d="M32.0 231.2L33.0 231.2L34.0 231.2L35.0 231.2L36.0 231.1L37.0 231.1L38.0 231.1L39.0 231.1L40.0 231.1L41.0 231.0L42.0 231.0L43.0 230.9L44.0 230.8L45.0 230.8L46.0 230.7L47.0 230.5L48.0 230.4L49.0 230.2L50.0 230.0L51.0 229.7L52.0 229.4L53.0 229.1L54.0 228.7L55.0 228.2L56.0 227.7L57.0 227.1L58.0 226.4L59.0 225.6L60.0 224.8L61.0 223.8L62.0 222.8L63.0 221.6L64.0 220.4L65.0 219.0L66.0 217.5L67.0 216.0L68.0 214.3L69.0 212.5L70.0 210.7L71.0 208.8L72.0 206.8L73.0 204.8L74.0 202.8L75.0 200.8L76.0 198.7L77.0 196.8L78.0 194.8L79.0 193.0L80.0 191.3L81.0 189.7L82.0 188.2L83.0 186.9L84.0 185.9L85.0 185.0L86.0 184.3L87.0 183.8L88.0 183.6L89.0 183.6L90.0 183.9L91.0 184.4L92.0 185.1L93.0 186.0L94.0 187.1L95.0 188.5L96.0 189.9L97.0 191.5L98.0 193.3L99.0 195.1L100.0 197.1L101.0 199.1L102.0 201.1L103.0 203.1L104.0 205.1L105.0 207.1L106.0 209.1L107.0 211.0L108.0 212.8L109.0 214.6L110.0 216.2L111.0 217.8L112.0 219.2L113.0 220.6L114.0 221.8L115.0 223.0L116.0 224.0L117.0 224.9L118.0 225.8L119.0 226.5L120.0 227.2L121.0 227.8L122.0 228.3L123.0 228.8L124.0 229.1L125.0 229.5L126.0 229.8L127.0 230.0L128.0 230.2L129.0 230.4L130.0 230.5L131.0 230.7L132.0 230.8L133.0 230.9L134.0 230.9L135.0 231.0L136.0 231.0L137.0 231.1L138.0 231.1L139.0 231.1L140.0 231.1L141.0 231.2L142.0 231.2L143.0 231.2L144.0 231.2L145.0 231.2L146.0 231.2L147.0 231.2L148.0 231.2L149.0 231.2L150.0 231.2L151.0 231.2L152.0 231.2L153.0 231.2L154.0 231.2L155.0 231.2L156.0 231.2L157.0 231.2L158.0 231.2L159.0 231.2L160.0 231.2L161.0 231.2L162.0 231.2L163.0 231.2L164.0 231.2L165.0 231.2L166.0 231.2L167.0 231.2L168.0 231.2L169.0 231.2L170.0 231.2L171.0 231.2L172.0 231.2L173.0 231.2L174.0 231.2L175.0 231.2L176.0 231.2L177.0 231.2L178.0 231.2L179.0 231.2L180.0 231.2L181.0 231.2L182.0 231.2L183.0 231.2L184.0 231.2L185.0 231.2L186.0 231.2L187.0 231.2L188.0 231.2L189.0 231.2L190.0 231.2L191.0 231.2L192.0 231.2L193.0 231.2L194.0 231.2L195.0 231.2L196.0 231.2L197.0 231.2L198.0 231.2L199.0 231.2L200.0 231.2L201.0 231.2L202.0 231.2L203.0 231.2L204.0 231.2L205.0 231.2L206.0 231.2L207.0 231.2L208.0 231.2L209.0 231.2L210.0 231.2L211.0 231.2L212.0 231.2L213.0 231.2L214.0 231.2L215.0 231.2L216.0 231.2L217.0 231.2L218.0 231.2L219.0 231.2L220.0 231.2L221.0 231.2L222.0 231.2L223.0 231.2L224.0 231.2L225.0 231.2L226.0 231.2L227.0 231.2L228.0 231.2L229.0 231.2L230.0 231.2L231.0 231.2L232.0 231.2L233.0 231.2L234.0 231.2L235.0 231.2L236.0 231.2L237.0 231.2L238.0 231.2L239.0 231.2L240.0 231.2L241.0 231.2L242.0 231.2L243.0 231.2L244.0 231.2L245.0 231.2L246.0 231.2L247.0 231.2L248.0 231.2L249.0 231.2L250.0 231.2L251.0 231.2L252.0 231.2L253.0 231.2L254.0 231.2L255.0 231.2L256.0 231.2L257.0 231.2L258.0 231.2L259.0 231.2L260.0 231.2L261.0 231.2L262.0 231.2L263.0 231.2L264.0 231.2L265.0 231.2L266.0 231.2L267.0 231.2L268.0 231.2L269.0 231.2L270.0 231.2L271.0 231.2L272.0 231.2L273.0 231.2L274.0 231.2L275.0 231.2L276.0 231.2L277.0 231.2L278.0 231.2L279.0 231.2L280.0 231.2L281.0 231.2L282.0 231.2L283.0 231.2L284.0 231.2L285.0 231.2L286.0 231.2L287.0 231.2L288.0 231.2L289.0 231.2L290.0 231.2L291.0 231.2L292.0 231.2L293.0 231.2L294.0 231.2L295.0 231.2L296.0 231.2L297.0 231.2L298.0 231.2L299.0 231.2L300.0 231.2L301.0 231.2L302.0 231.2L303.0 231.2L304.0 231.2L305.0 231.2L306.0 231.2L307.0 231.2L308.0 231.2L309.0 231.2L310.0 231.2L311.0 231.2L312.0 231.2L313.0 231.2L314.0 231.2L315.0 231.2L316.0 231.2L317.0 231.2L318.0 231.2L319.0 231.2L320.0 231.2L321.0 231.2L322.0 231.2L323.0 231.2L324.0 231.2L325.0 231.2L326.0 231.2L327.0 231.2L328.0 231.2L329.0 231.2L330.0 231.2L331.0 231.2L332.0 231.2L333.0 231.2L334.0 231.2L335.0 231.2L336.0 231.2L337.0 231.2L338.0 231.2L339.0 231.2L340.0 231.2L341.0 231.2L342.0 231.2L343.0 231.2L344.0 231.2" fill="none" stroke="#a8601e" stroke-width="1.8"/>
<path d="M32.0 231.2L33.0 231.2L34.0 231.2L35.0 231.2L36.0 231.2L37.0 231.2L38.0 231.2L39.0 231.2L40.0 231.2L41.0 231.2L42.0 231.2L43.0 231.2L44.0 231.2L45.0 231.2L46.0 231.2L47.0 231.2L48.0 231.2L49.0 231.2L50.0 231.2L51.0 231.2L52.0 231.2L53.0 231.2L54.0 231.2L55.0 231.2L56.0 231.1L57.0 231.1L58.0 231.1L59.0 231.1L60.0 231.1L61.0 231.0L62.0 231.0L63.0 230.9L64.0 230.8L65.0 230.8L66.0 230.6L67.0 230.5L68.0 230.4L69.0 230.2L70.0 230.0L71.0 229.7L72.0 229.5L73.0 229.1L74.0 228.8L75.0 228.3L76.0 227.8L77.0 227.2L78.0 226.6L79.0 225.9L80.0 225.1L81.0 224.2L82.0 223.2L83.0 222.1L84.0 220.9L85.0 219.6L86.0 218.2L87.0 216.8L88.0 215.2L89.0 213.5L90.0 211.8L91.0 210.0L92.0 208.2L93.0 206.2L94.0 204.3L95.0 202.4L96.0 200.4L97.0 198.5L98.0 196.6L99.0 194.8L100.0 193.1L101.0 191.5L102.0 190.0L103.0 188.7L104.0 187.5L105.0 186.5L106.0 185.7L107.0 185.1L108.0 184.7L109.0 184.6L110.0 184.6L111.0 184.9L112.0 185.4L113.0 186.1L114.0 187.0L115.0 188.1L116.0 189.4L117.0 190.8L118.0 192.4L119.0 194.1L120.0 195.8L121.0 197.7L122.0 199.6L123.0 201.5L124.0 203.5L125.0 205.4L126.0 207.3L127.0 209.2L128.0 211.0L129.0 212.8L130.0 214.5L131.0 216.1L132.0 217.6L133.0 219.0L134.0 220.4L135.0 221.6L136.0 222.7L137.0 223.7L138.0 224.7L139.0 225.5L140.0 226.3L141.0 227.0L142.0 227.6L143.0 228.1L144.0 228.6L145.0 229.0L146.0 229.3L147.0 229.6L148.0 229.9L149.0 230.1L150.0 230.3L151.0 230.5L152.0 230.6L153.0 230.7L154.0 230.8L155.0 230.9L156.0 230.9L157.0 231.0L158.0 231.0L159.0 231.1L160.0 231.1L161.0 231.1L162.0 231.1L163.0 231.2L164.0 231.2L165.0 231.2L166.0 231.2L167.0 231.2L168.0 231.2L169.0 231.2L170.0 231.2L171.0 231.2L172.0 231.2L173.0 231.2L174.0 231.2L175.0 231.2L176.0 231.2L177.0 231.2L178.0 231.2L179.0 231.2L180.0 231.2L181.0 231.2L182.0 231.2L183.0 231.2L184.0 231.2L185.0 231.2L186.0 231.2L187.0 231.2L188.0 231.2L189.0 231.2L190.0 231.2L191.0 231.2L192.0 231.2L193.0 231.2L194.0 231.2L195.0 231.2L196.0 231.2L197.0 231.2L198.0 231.2L199.0 231.2L200.0 231.2L201.0 231.2L202.0 231.2L203.0 231.2L204.0 231.2L205.0 231.2L206.0 231.2L207.0 231.2L208.0 231.2L209.0 231.2L210.0 231.2L211.0 231.2L212.0 231.2L213.0 231.2L214.0 231.2L215.0 231.2L216.0 231.2L217.0 231.2L218.0 231.2L219.0 231.2L220.0 231.2L221.0 231.2L222.0 231.2L223.0 231.2L224.0 231.2L225.0 231.2L226.0 231.2L227.0 231.2L228.0 231.2L229.0 231.2L230.0 231.2L231.0 231.2L232.0 231.2L233.0 231.2L234.0 231.2L235.0 231.2L236.0 231.2L237.0 231.2L238.0 231.2L239.0 231.2L240.0 231.2L241.0 231.2L242.0 231.2L243.0 231.2L244.0 231.2L245.0 231.2L246.0 231.2L247.0 231.2L248.0 231.2L249.0 231.2L250.0 231.2L251.0 231.2L252.0 231.2L253.0 231.2L254.0 231.2L255.0 231.2L256.0 231.2L257.0 231.2L258.0 231.2L259.0 231.2L260.0 231.2L261.0 231.2L262.0 231.2L263.0 231.2L264.0 231.2L265.0 231.2L266.0 231.2L267.0 231.2L268.0 231.2L269.0 231.2L270.0 231.2L271.0 231.2L272.0 231.2L273.0 231.2L274.0 231.2L275.0 231.2L276.0 231.2L277.0 231.2L278.0 231.2L279.0 231.2L280.0 231.2L281.0 231.2L282.0 231.2L283.0 231.2L284.0 231.2L285.0 231.2L286.0 231.2L287.0 231.2L288.0 231.2L289.0 231.2L290.0 231.2L291.0 231.2L292.0 231.2L293.0 231.2L294.0 231.2L295.0 231.2L296.0 231.2L297.0 231.2L298.0 231.2L299.0 231.2L300.0 231.2L301.0 231.2L302.0 231.2L303.0 231.2L304.0 231.2L305.0 231.2L306.0 231.2L307.0 231.2L308.0 231.2L309.0 231.2L310.0 231.2L311.0 231.2L312.0 231.2L313.0 231.2L314.0 231.2L315.0 231.2L316.0 231.2L317.0 231.2L318.0 231.2L319.0 231.2L320.0 231.2L321.0 231.2L322.0 231.2L323.0 231.2L324.0 231.2L325.0 231.2L326.0 231.2L327.0 231.2L328.0 231.2L329.0 231.2L330.0 231.2L331.0 231.2L332.0 231.2L333.0 231.2L334.0 231.2L335.0 231.2L336.0 231.2L337.0 231.2L338.0 231.2L339.0 231.2L340.0 231.2L341.0 231.2L342.0 231.2L343.0 231.2L344.0 231.2" fill="none" stroke="#4a6040" stroke-width="1.8"/>
<path d="M32.0 231.2L33.0 231.2L34.0 231.2L35.0 231.2L36.0 231.2L37.0 231.2L38.0 231.2L39.0 231.2L40.0 231.2L41.0 231.2L42.0 231.2L43.0 231.2L44.0 231.2L45.0 231.2L46.0 231.2L47.0 231.2L48.0 231.2L49.0 231.2L50.0 231.2L51.0 231.2L52.0 231.2L53.0 231.2L54.0 231.2L55.0 231.2L56.0 231.2L57.0 231.2L58.0 231.2L59.0 231.2L60.0 231.2L61.0 231.2L62.0 231.2L63.0 231.2L64.0 231.2L65.0 231.2L66.0 231.2L67.0 231.2L68.0 231.2L69.0 231.2L70.0 231.2L71.0 231.2L72.0 231.2L73.0 231.2L74.0 231.2L75.0 231.2L76.0 231.1L77.0 231.1L78.0 231.1L79.0 231.1L80.0 231.0L81.0 231.0L82.0 231.0L83.0 230.9L84.0 230.8L85.0 230.8L86.0 230.7L87.0 230.6L88.0 230.4L89.0 230.3L90.0 230.1L91.0 229.9L92.0 229.6L93.0 229.3L94.0 229.0L95.0 228.6L96.0 228.1L97.0 227.6L98.0 227.1L99.0 226.5L100.0 225.8L101.0 225.0L102.0 224.1L103.0 223.2L104.0 222.2L105.0 221.0L106.0 219.8L107.0 218.6L108.0 217.2L109.0 215.7L110.0 214.2L111.0 212.6L112.0 211.0L113.0 209.3L114.0 207.5L115.0 205.7L116.0 203.9L117.0 202.2L118.0 200.4L119.0 198.6L120.0 197.0L121.0 195.3L122.0 193.8L123.0 192.4L124.0 191.1L125.0 189.9L126.0 188.9L127.0 188.1L128.0 187.4L129.0 186.9L130.0 186.6L131.0 186.5L132.0 186.6L133.0 186.8L134.0 187.3L135.0 188.0L136.0 188.8L137.0 189.8L138.0 190.9L139.0 192.2L140.0 193.6L141.0 195.2L142.0 196.8L143.0 198.4L144.0 200.2L145.0 201.9L146.0 203.7L147.0 205.5L148.0 207.3L149.0 209.1L150.0 210.8L151.0 212.4L152.0 214.0L153.0 215.6L154.0 217.0L155.0 218.4L156.0 219.7L157.0 220.9L158.0 222.0L159.0 223.1L160.0 224.0L161.0 224.9L162.0 225.7L163.0 226.4L164.0 227.0L165.0 227.6L166.0 228.1L167.0 228.5L168.0 228.9L169.0 229.3L170.0 229.6L171.0 229.8L172.0 230.0L173.0 230.2L174.0 230.4L175.0 230.5L176.0 230.7L177.0 230.8L178.0 230.8L179.0 230.9L180.0 231.0L181.0 231.0L182.0 231.0L183.0 231.1L184.0 231.1L185.0 231.1L186.0 231.1L187.0 231.2L188.0 231.2L189.0 231.2L190.0 231.2L191.0 231.2L192.0 231.2L193.0 231.2L194.0 231.2L195.0 231.2L196.0 231.2L197.0 231.2L198.0 231.2L199.0 231.2L200.0 231.2L201.0 231.2L202.0 231.2L203.0 231.2L204.0 231.2L205.0 231.2L206.0 231.2L207.0 231.2L208.0 231.2L209.0 231.2L210.0 231.2L211.0 231.2L212.0 231.2L213.0 231.2L214.0 231.2L215.0 231.2L216.0 231.2L217.0 231.2L218.0 231.2L219.0 231.2L220.0 231.2L221.0 231.2L222.0 231.2L223.0 231.2L224.0 231.2L225.0 231.2L226.0 231.2L227.0 231.2L228.0 231.2L229.0 231.2L230.0 231.2L231.0 231.2L232.0 231.2L233.0 231.2L234.0 231.2L235.0 231.2L236.0 231.2L237.0 231.2L238.0 231.2L239.0 231.2L240.0 231.2L241.0 231.2L242.0 231.2L243.0 231.2L244.0 231.2L245.0 231.2L246.0 231.2L247.0 231.2L248.0 231.2L249.0 231.2L250.0 231.2L251.0 231.2L252.0 231.2L253.0 231.2L254.0 231.2L255.0 231.2L256.0 231.2L257.0 231.2L258.0 231.2L259.0 231.2L260.0 231.2L261.0 231.2L262.0 231.2L263.0 231.2L264.0 231.2L265.0 231.2L266.0 231.2L267.0 231.2L268.0 231.2L269.0 231.2L270.0 231.2L271.0 231.2L272.0 231.2L273.0 231.2L274.0 231.2L275.0 231.2L276.0 231.2L277.0 231.2L278.0 231.2L279.0 231.2L280.0 231.2L281.0 231.2L282.0 231.2L283.0 231.2L284.0 231.2L285.0 231.2L286.0 231.2L287.0 231.2L288.0 231.2L289.0 231.2L290.0 231.2L291.0 231.2L292.0 231.2L293.0 231.2L294.0 231.2L295.0 231.2L296.0 231.2L297.0 231.2L298.0 231.2L299.0 231.2L300.0 231.2L301.0 231.2L302.0 231.2L303.0 231.2L304.0 231.2L305.0 231.2L306.0 231.2L307.0 231.2L308.0 231.2L309.0 231.2L310.0 231.2L311.0 231.2L312.0 231.2L313.0 231.2L314.0 231.2L315.0 231.2L316.0 231.2L317.0 231.2L318.0 231.2L319.0 231.2L320.0 231.2L321.0 231.2L322.0 231.2L323.0 231.2L324.0 231.2L325.0 231.2L326.0 231.2L327.0 231.2L328.0 231.2L329.0 231.2L330.0 231.2L331.0 231.2L332.0 231.2L333.0 231.2L334.0 231.2L335.0 231.2L336.0 231.2L337.0 231.2L338.0 231.2L339.0 231.2L340.0 231.2L341.0 231.2L342.0 231.2L343.0 231.2L344.0 231.2" fill="none" stroke="#e020f0" stroke-width="1.8"/>
<path d="M32.0 231.2L33.0 231.2L34.0 231.2L35.0 231.2L36.0 231.2L37.0 231.2L38.0 231.2L39.0 231.2L40.0 231.2L41.0 231.2L42.0 231.2L43.0 231.2L44.0 231.2L45.0 231.2L46.0 231.2L47.0 231.2L48.0 231.2L49.0 231.2L50.0 231.2L51.0 231.2L52.0 231.2L53.0 231.2L54.0 231.2L55.0 231.2L56.0 231.2L57.0 231.2L58.0 231.2L59.0 231.2L60.0 231.2L61.0 231.2L62.0 231.2L63.0 231.2L64.0 231.2L65.0 231.2L66.0 231.2L67.0 231.2L68.0 231.2L69.0 231.2L70.0 231.2L71.0 231.2L72.0 231.2L73.0 231.2L74.0 231.2L75.0 231.2L76.0 231.2L77.0 231.2L78.0 231.2L79.0 231.2L80.0 231.2L81.0 231.2L82.0 231.2L83.0 231.2L84.0 231.2L85.0 231.2L86.0 231.2L87.0 231.2L88.0 231.2L89.0 231.2L90.0 231.2L91.0 231.2L92.0 231.2L93.0 231.2L94.0 231.2L95.0 231.1L96.0 231.1L97.0 231.1L98.0 231.1L99.0 231.1L100.0 231.0L101.0 231.0L102.0 231.0L103.0 230.9L104.0 230.8L105.0 230.8L106.0 230.7L107.0 230.6L108.0 230.4L109.0 230.3L110.0 230.1L111.0 229.9L112.0 229.7L113.0 229.4L114.0 229.1L115.0 228.7L116.0 228.3L117.0 227.9L118.0 227.4L119.0 226.8L120.0 226.2L121.0 225.5L122.0 224.7L123.0 223.8L124.0 222.9L125.0 221.9L126.0 220.8L127.0 219.7L128.0 218.4L129.0 217.1L130.0 215.7L131.0 214.2L132.0 212.7L133.0 211.2L134.0 209.5L135.0 207.9L136.0 206.2L137.0 204.5L138.0 202.8L139.0 201.2L140.0 199.6L141.0 198.0L142.0 196.5L143.0 195.0L144.0 193.7L145.0 192.4L146.0 191.3L147.0 190.3L148.0 189.5L149.0 188.8L150.0 188.3L151.0 188.0L152.0 187.9L153.0 187.9L154.0 188.1L155.0 188.4L156.0 189.0L157.0 189.7L158.0 190.6L159.0 191.6L160.0 192.7L161.0 194.0L162.0 195.3L163.0 196.8L164.0 198.3L165.0 199.9L166.0 201.6L167.0 203.3L168.0 204.9L169.0 206.6L170.0 208.3L171.0 209.9L172.0 211.5L173.0 213.1L174.0 214.6L175.0 216.0L176.0 217.4L177.0 218.7L178.0 219.9L179.0 221.1L180.0 222.2L181.0 223.1L182.0 224.1L183.0 224.9L184.0 225.6L185.0 226.3L186.0 226.9L187.0 227.5L188.0 228.0L189.0 228.4L190.0 228.8L191.0 229.2L192.0 229.5L193.0 229.7L194.0 230.0L195.0 230.2L196.0 230.3L197.0 230.5L198.0 230.6L199.0 230.7L200.0 230.8L201.0 230.9L202.0 230.9L203.0 231.0L204.0 231.0L205.0 231.1L206.0 231.1L207.0 231.1L208.0 231.1L209.0 231.1L210.0 231.2L211.0 231.2L212.0 231.2L213.0 231.2L214.0 231.2L215.0 231.2L216.0 231.2L217.0 231.2L218.0 231.2L219.0 231.2L220.0 231.2L221.0 231.2L222.0 231.2L223.0 231.2L224.0 231.2L225.0 231.2L226.0 231.2L227.0 231.2L228.0 231.2L229.0 231.2L230.0 231.2L231.0 231.2L232.0 231.2L233.0 231.2L234.0 231.2L235.0 231.2L236.0 231.2L237.0 231.2L238.0 231.2L239.0 231.2L240.0 231.2L241.0 231.2L242.0 231.2L243.0 231.2L244.0 231.2L245.0 231.2L246.0 231.2L247.0 231.2L248.0 231.2L249.0 231.2L250.0 231.2L251.0 231.2L252.0 231.2L253.0 231.2L254.0 231.2L255.0 231.2L256.0 231.2L257.0 231.2L258.0 231.2L259.0 231.2L260.0 231.2L261.0 231.2L262.0 231.2L263.0 231.2L264.0 231.2L265.0 231.2L266.0 231.2L267.0 231.2L268.0 231.2L269.0 231.2L270.0 231.2L271.0 231.2L272.0 231.2L273.0 231.2L274.0 231.2L275.0 231.2L276.0 231.2L277.0 231.2L278.0 231.2L279.0 231.2L280.0 231.2L281.0 231.2L282.0 231.2L283.0 231.2L284.0 231.2L285.0 231.2L286.0 231.2L287.0 231.2L288.0 231.2L289.0 231.2L290.0 231.2L291.0 231.2L292.0 231.2L293.0 231.2L294.0 231.2L295.0 231.2L296.0 231.2L297.0 231.2L298.0 231.2L299.0 231.2L300.0 231.2L301.0 231.2L302.0 231.2L303.0 231.2L304.0 231.2L305.0 231.2L306.0 231.2L307.0 231.2L308.0 231.2L309.0 231.2L310.0 231.2L311.0 231.2L312.0 231.2L313.0 231.2L314.0 231.2L315.0 231.2L316.0 231.2L317.0 231.2L318.0 231.2L319.0 231.2L320.0 231.2L321.0 231.2L322.0 231.2L323.0 231.2L324.0 231.2L325.0 231.2L326.0 231.2L327.0 231.2L328.0 231.2L329.0 231.2L330.0 231.2L331.0 231.2L332.0 231.2L333.0 231.2L334.0 231.2L335.0 231.2L336.0 231.2L337.0 231.2L338.0 231.2L339.0 231.2L340.0 231.2L341.0 231.2L342.0 231.2L343.0 231.2L344.0 231.2" fill="none" stroke="#ffff10" stroke-width="1.8"/>
<path d="M32.0 231.2L33.0 231.2L34.0 231.2L35.0 231.2L36.0 231.2L37.0 231.2L38.0 231.2L39.0 231.2L40.0 231.2L41.0 231.2L42.0 231.2L43.0 231.2L44.0 231.2L45.0 231.2L46.0 231.2L47.0 231.2L48.0 231.2L49.0 231.2L50.0 231.2L51.0 231.2L52.0 231.2L53.0 231.2L54.0 231.2L55.0 231.2L56.0 231.2L57.0 231.2L58.0 231.2L59.0 231.2L60.0 231.2L61.0 231.2L62.0 231.2L63.0 231.2L64.0 231.2L65.0 231.2L66.0 231.2L67.0 231.2L68.0 231.2L69.0 231.2L70.0 231.2L71.0 231.2L72.0 231.2L73.0 231.2L74.0 231.2L75.0 231.2L76.0 231.2L77.0 231.2L78.0 231.2L79.0 231.2L80.0 231.2L81.0 231.2L82.0 231.2L83.0 231.2L84.0 231.2L85.0 231.2L86.0 231.2L87.0 231.2L88.0 231.2L89.0 231.2L90.0 231.2L91.0 231.2L92.0 231.2L93.0 231.2L94.0 231.2L95.0 231.2L96.0 231.2L97.0 231.2L98.0 231.2L99.0 231.2L100.0 231.2L101.0 231.2L102.0 231.2L103.0 231.2L104.0 231.2L105.0 231.2L106.0 231.2L107.0 231.2L108.0 231.2L109.0 231.2L110.0 231.2L111.0 231.2L112.0 231.2L113.0 231.2L114.0 231.2L115.0 231.2L116.0 231.2L117.0 231.2L118.0 231.2L119.0 231.2L120.0 231.2L121.0 231.2L122.0 231.2L123.0 231.1L124.0 231.1L125.0 231.1L126.0 231.1L127.0 231.0L128.0 231.0L129.0 231.0L130.0 230.9L131.0 230.8L132.0 230.7L133.0 230.6L134.0 230.5L135.0 230.3L136.0 230.2L137.0 230.0L138.0 229.7L139.0 229.4L140.0 229.1L141.0 228.7L142.0 228.3L143.0 227.8L144.0 227.2L145.0 226.6L146.0 225.9L147.0 225.1L148.0 224.2L149.0 223.2L150.0 222.2L151.0 221.0L152.0 219.8L153.0 218.4L154.0 217.0L155.0 215.5L156.0 213.9L157.0 212.2L158.0 210.4L159.0 208.6L160.0 206.8L161.0 204.9L162.0 203.0L163.0 201.1L164.0 199.3L165.0 197.4L166.0 195.7L167.0 194.0L168.0 192.4L169.0 190.9L170.0 189.6L171.0 188.4L172.0 187.4L173.0 186.6L174.0 185.9L175.0 185.5L176.0 185.3L177.0 185.3L178.0 185.5L179.0 185.9L180.0 186.5L181.0 187.3L182.0 188.3L183.0 189.4L184.0 190.7L185.0 192.2L186.0 193.8L187.0 195.5L188.0 197.2L189.0 199.0L190.0 200.9L191.0 202.8L192.0 204.7L193.0 206.6L194.0 208.4L195.0 210.2L196.0 212.0L197.0 213.7L198.0 215.3L199.0 216.8L200.0 218.3L201.0 219.6L202.0 220.9L203.0 222.0L204.0 223.1L205.0 224.1L206.0 225.0L207.0 225.8L208.0 226.5L209.0 227.2L210.0 227.7L211.0 228.2L212.0 228.7L213.0 229.1L214.0 229.4L215.0 229.7L216.0 229.9L217.0 230.1L218.0 230.3L219.0 230.5L220.0 230.6L221.0 230.7L222.0 230.8L223.0 230.9L224.0 230.9L225.0 231.0L226.0 231.0L227.0 231.1L228.0 231.1L229.0 231.1L230.0 231.1L231.0 231.2L232.0 231.2L233.0 231.2L234.0 231.2L235.0 231.2L236.0 231.2L237.0 231.2L238.0 231.2L239.0 231.2L240.0 231.2L241.0 231.2L242.0 231.2L243.0 231.2L244.0 231.2L245.0 231.2L246.0 231.2L247.0 231.2L248.0 231.2L249.0 231.2L250.0 231.2L251.0 231.2L252.0 231.2L253.0 231.2L254.0 231.2L255.0 231.2L256.0 231.2L257.0 231.2L258.0 231.2L259.0 231.2L260.0 231.2L261.0 231.2L262.0 231.2L263.0 231.2L264.0 231.2L265.0 231.2L266.0 231.2L267.0 231.2L268.0 231.2L269.0 231.2L270.0 231.2L271.0 231.2L272.0 231.2L273.0 231.2L274.0 231.2L275.0 231.2L276.0 231.2L277.0 231.2L278.0 231.2L279.0 231.2L280.0 231.2L281.0 231.2L282.0 231.2L283.0 231.2L284.0 231.2L285.0 231.2L286.0 231.2L287.0 231.2L288.0 231.2L289.0 231.2L290.0 231.2L291.0 231.2L292.0 231.2L293.0 231.2L294.0 231.2L295.0 231.2L296.0 231.2L297.0 231.2L298.0 231.2L299.0 231.2L300.0 231.2L301.0 231.2L302.0 231.2L303.0 231.2L304.0 231.2L305.0 231.2L306.0 231.2L307.0 231.2L308.0 231.2L309.0 231.2L310.0 231.2L311.0 231.2L312.0 231.2L313.0 231.2L314.0 231.2L315.0 231.2L316.0 231.2L317.0 231.2L318.0 231.2L319.0 231.2L320.0 231.2L321.0 231.2L322.0 231.2L323.0 231.2L324.0 231.2L325.0 231.2L326.0 231.2L327.0 231.2L328.0 231.2L329.0 231.2L330.0 231.2L331.0 231.2L332.0 231.2L333.0 231.2L334.0 231.2L335.0 231.2L336.0 231.2L337.0 231.2L338.0 231.2L339.0 231.2L340.0 231.2L341.0 231.2L342.0 231.2L343.0 231.2L344.0 231.2" fill="none" stroke="#d8a878" stroke-width="1.8"/>
<path d="M32.0 231.2L33.0 231.2L34.0 231.2L35.0 231.2L36.0 231.2L37.0 231.2L38.0 231.2L39.0 231.2L40.0 231.2L41.0 231.2L42.0 231.2L43.0 231.2L44.0 231.2L45.0 231.2L46.0 231.2L47.0 231.2L48.0 231.2L49.0 231.2L50.0 231.2L51.0 231.2L52.0 231.2L53.0 231.2L54.0 231.2L55.0 231.2L56.0 231.2L57.0 231.2L58.0 231.2L59.0 231.2L60.0 231.2L61.0 231.2L62.0 231.2L63.0 231.2L64.0 231.2L65.0 231.2L66.0 231.2L67.0 231.2L68.0 231.2L69.0 231.2L70.0 231.2L71.0 231.2L72.0 231.2L73.0 231.2L74.0 231.2L75.0 231.2L76.0 231.2L77.0 231.2L78.0 231.2L79.0 231.2L80.0 231.2L81.0 231.2L82.0 231.2L83.0 231.2L84.0 231.2L85.0 231.2L86.0 231.2L87.0 231.2L88.0 231.2L89.0 231.2L90.0 231.2L91.0 231.2L92.0 231.2L93.0 231.2L94.0 231.2L95.0 231.2L96.0 231.2L97.0 231.2L98.0 231.2L99.0 231.2L100.0 231.2L101.0 231.2L102.0 231.2L103.0 231.2L104.0 231.2L105.0 231.2L106.0 231.2L107.0 231.2L108.0 231.2L109.0 231.2L110.0 231.2L111.0 231.2L112.0 231.2L113.0 231.2L114.0 231.2L115.0 231.2L116.0 231.2L117.0 231.2L118.0 231.2L119.0 231.2L120.0 231.2L121.0 231.2L122.0 231.2L123.0 231.2L124.0 231.2L125.0 231.2L126.0 231.2L127.0 231.2L128.0 231.2L129.0 231.2L130.0 231.2L131.0 231.2L132.0 231.2L133.0 231.2L134.0 231.2L135.0 231.2L136.0 231.2L137.0 231.2L138.0 231.2L139.0 231.2L140.0 231.2L141.0 231.2L142.0 231.2L143.0 231.2L144.0 231.2L145.0 231.2L146.0 231.2L147.0 231.2L148.0 231.2L149.0 231.1L150.0 231.1L151.0 231.1L152.0 231.1L153.0 231.0L154.0 231.0L155.0 230.9L156.0 230.8L157.0 230.7L158.0 230.6L159.0 230.5L160.0 230.3L161.0 230.1L162.0 229.8L163.0 229.5L164.0 229.1L165.0 228.7L166.0 228.2L167.0 227.6L168.0 226.9L169.0 226.1L170.0 225.2L171.0 224.3L172.0 223.1L173.0 221.9L174.0 220.5L175.0 219.0L176.0 217.4L177.0 215.6L178.0 213.7L179.0 211.7L180.0 209.6L181.0 207.4L182.0 205.2L183.0 202.9L184.0 200.5L185.0 198.1L186.0 195.8L187.0 193.5L188.0 191.3L189.0 189.2L190.0 187.3L191.0 185.5L192.0 184.0L193.0 182.6L194.0 181.5L195.0 180.7L196.0 180.2L197.0 179.9L198.0 179.9L199.0 180.3L200.0 180.9L201.0 181.8L202.0 183.0L203.0 184.4L204.0 186.0L205.0 187.8L206.0 189.8L207.0 191.9L208.0 194.2L209.0 196.5L210.0 198.8L211.0 201.2L212.0 203.5L213.0 205.8L214.0 208.1L215.0 210.2L216.0 212.3L217.0 214.3L218.0 216.1L219.0 217.9L220.0 219.5L221.0 220.9L222.0 222.3L223.0 223.5L224.0 224.5L225.0 225.5L226.0 226.4L227.0 227.1L228.0 227.8L229.0 228.3L230.0 228.8L231.0 229.2L232.0 229.6L233.0 229.9L234.0 230.1L235.0 230.3L236.0 230.5L237.0 230.6L238.0 230.8L239.0 230.9L240.0 230.9L241.0 231.0L242.0 231.0L243.0 231.1L244.0 231.1L245.0 231.1L246.0 231.1L247.0 231.2L248.0 231.2L249.0 231.2L250.0 231.2L251.0 231.2L252.0 231.2L253.0 231.2L254.0 231.2L255.0 231.2L256.0 231.2L257.0 231.2L258.0 231.2L259.0 231.2L260.0 231.2L261.0 231.2L262.0 231.2L263.0 231.2L264.0 231.2L265.0 231.2L266.0 231.2L267.0 231.2L268.0 231.2L269.0 231.2L270.0 231.2L271.0 231.2L272.0 231.2L273.0 231.2L274.0 231.2L275.0 231.2L276.0 231.2L277.0 231.2L278.0 231.2L279.0 231.2L280.0 231.2L281.0 231.2L282.0 231.2L283.0 231.2L284.0 231.2L285.0 231.2L286.0 231.2L287.0 231.2L288.0 231.2L289.0 231.2L290.0 231.2L291.0 231.2L292.0 231.2L293.0 231.2L294.0 231.2L295.0 231.2L296.0 231.2L297.0 231.2L298.0 231.2L299.0 231.2L300.0 231.2L301.0 231.2L302.0 231.2L303.0 231.2L304.0 231.2L305.0 231.2L306.0 231.2L307.0 231.2L308.0 231.2L309.0 231.2L310.0 231.2L311.0 231.2L312.0 231.2L313.0 231.2L314.0 231.2L315.0 231.2L316.0 231.2L317.0 231.2L318.0 231.2L319.0 231.2L320.0 231.2L321.0 231.2L322.0 231.2L323.0 231.2L324.0 231.2L325.0 231.2L326.0 231.2L327.0 231.2L328.0 231.2L329.0 231.2L330.0 231.2L331.0 231.2L332.0 231.2L333.0 231.2L334.0 231.2L335.0 231.2L336.0 231.2L337.0 231.2L338.0 231.2L339.0 231.2L340.0 231.2L341.0 231.2L342.0 231.2L343.0 231.2L344.0 231.2" fill="none" stroke="#a8a0a0" stroke-width="1.8"/>
<path d="M32.0 231.2L33.0 231.2L34.0 231.2L35.0 231.2L36.0 231.2L37.0 231.2L38.0 231.2L39.0 231.2L40.0 231.2L41.0 231.2L42.0 231.2L43.0 231.2L44.0 231.2L45.0 231.2L46.0 231.2L47.0 231.2L48.0 231.2L49.0 231.2L50.0 231.2L51.0 231.2L52.0 231.2L53.0 231.2L54.0 231.2L55.0 231.2L56.0 231.2L57.0 231.2L58.0 231.2L59.0 231.2L60.0 231.2L61.0 231.2L62.0 231.2L63.0 231.2L64.0 231.2L65.0 231.2L66.0 231.2L67.0 231.2L68.0 231.2L69.0 231.2L70.0 231.2L71.0 231.2L72.0 231.2L73.0 231.2L74.0 231.2L75.0 231.2L76.0 231.2L77.0 231.2L78.0 231.2L79.0 231.2L80.0 231.2L81.0 231.2L82.0 231.2L83.0 231.2L84.0 231.2L85.0 231.2L86.0 231.2L87.0 231.2L88.0 231.2L89.0 231.2L90.0 231.2L91.0 231.2L92.0 231.2L93.0 231.2L94.0 231.2L95.0 231.2L96.0 231.2L97.0 231.2L98.0 231.2L99.0 231.2L100.0 231.2L101.0 231.2L102.0 231.2L103.0 231.2L104.0 231.2L105.0 231.2L106.0 231.2L107.0 231.2L108.0 231.2L109.0 231.2L110.0 231.2L111.0 231.2L112.0 231.2L113.0 231.2L114.0 231.2L115.0 231.2L116.0 231.2L117.0 231.2L118.0 231.2L119.0 231.2L120.0 231.2L121.0 231.2L122.0 231.2L123.0 231.2L124.0 231.2L125.0 231.2L126.0 231.2L127.0 231.2L128.0 231.2L129.0 231.2L130.0 231.2L131.0 231.2L132.0 231.2L133.0 231.2L134.0 231.2L135.0 231.2L136.0 231.2L137.0 231.2L138.0 231.2L139.0 231.2L140.0 231.2L141.0 231.2L142.0 231.2L143.0 231.2L144.0 231.2L145.0 231.2L146.0 231.2L147.0 231.2L148.0 231.2L149.0 231.2L150.0 231.2L151.0 231.2L152.0 231.2L153.0 231.2L154.0 231.2L155.0 231.2L156.0 231.2L157.0 231.2L158.0 231.2L159.0 231.2L160.0 231.2L161.0 231.2L162.0 231.2L163.0 231.2L164.0 231.2L165.0 231.2L166.0 231.2L167.0 231.2L168.0 231.2L169.0 231.1L170.0 231.1L171.0 231.1L172.0 231.1L173.0 231.0L174.0 231.0L175.0 230.9L176.0 230.8L177.0 230.8L178.0 230.6L179.0 230.5L180.0 230.3L181.0 230.1L182.0 229.8L183.0 229.5L184.0 229.1L185.0 228.7L186.0 228.1L187.0 227.5L188.0 226.8L189.0 226.0L190.0 225.1L191.0 224.0L192.0 222.8L193.0 221.5L194.0 220.0L195.0 218.4L196.0 216.7L197.0 214.8L198.0 212.8L199.0 210.6L200.0 208.4L201.0 206.0L202.0 203.6L203.0 201.1L204.0 198.6L205.0 196.1L206.0 193.7L207.0 191.3L208.0 189.0L209.0 186.9L210.0 184.9L211.0 183.2L212.0 181.7L213.0 180.4L214.0 179.5L215.0 178.8L216.0 178.4L217.0 178.4L218.0 178.7L219.0 179.3L220.0 180.2L221.0 181.4L222.0 182.9L223.0 184.6L224.0 186.5L225.0 188.6L226.0 190.8L227.0 193.2L228.0 195.6L229.0 198.1L230.0 200.6L231.0 203.1L232.0 205.5L233.0 207.9L234.0 210.2L235.0 212.4L236.0 214.4L237.0 216.3L238.0 218.1L239.0 219.7L240.0 221.2L241.0 222.6L242.0 223.8L243.0 224.9L244.0 225.8L245.0 226.7L246.0 227.4L247.0 228.0L248.0 228.6L249.0 229.0L250.0 229.4L251.0 229.8L252.0 230.0L253.0 230.3L254.0 230.5L255.0 230.6L256.0 230.7L257.0 230.8L258.0 230.9L259.0 231.0L260.0 231.0L261.0 231.1L262.0 231.1L263.0 231.1L264.0 231.1L265.0 231.2L266.0 231.2L267.0 231.2L268.0 231.2L269.0 231.2L270.0 231.2L271.0 231.2L272.0 231.2L273.0 231.2L274.0 231.2L275.0 231.2L276.0 231.2L277.0 231.2L278.0 231.2L279.0 231.2L280.0 231.2L281.0 231.2L282.0 231.2L283.0 231.2L284.0 231.2L285.0 231.2L286.0 231.2L287.0 231.2L288.0 231.2L289.0 231.2L290.0 231.2L291.0 231.2L292.0 231.2L293.0 231.2L294.0 231.2L295.0 231.2L296.0 231.2L297.0 231.2L298.0 231.2L299.0 231.2L300.0 231.2L301.0 231.2L302.0 231.2L303.0 231.2L304.0 231.2L305.0 231.2L306.0 231.2L307.0 231.2L308.0 231.2L309.0 231.2L310.0 231.2L311.0 231.2L312.0 231.2L313.0 231.2L314.0 231.2L315.0 231.2L316.0 231.2L317.0 231.2L318.0 231.2L319.0 231.2L320.0 231.2L321.0 231.2L322.0 231.2L323.0 231.2L324.0 231.2L325.0 231.2L326.0 231.2L327.0 231.2L328.0 231.2L329.0 231.2L330.0 231.2L331.0 231.2L332.0 231.2L333.0 231.2L334.0 231.2L335.0 231.2L336.0 231.2L337.0 231.2L338.0 231.2L339.0 231.2L340.0 231.2L341.0 231.2L342.0 231.2L343.0 231.2L344.0 231.2" fill="none" stroke="#b050ff" stroke-width="1.8"/>
<path d="M32.0 231.2L33.0 231.2L34.0 231.2L35.0 231.2L36.0 231.2L37.0 231.2L38.0 231.2L39.0 231.2L40.0 231.2L41.0 231.2L42.0 231.2L43.0 231.2L44.0 231.2L45.0 231.2L46.0 231.2L47.0 231.2L48.0 231.2L49.0 231.2L50.0 231.2L51.0 231.2L52.0 231.2L53.0 231.2L54.0 231.2L55.0 231.2L56.0 231.2L57.0 231.2L58.0 231.2L59.0 231.2L60.0 231.2L61.0 231.2L62.0 231.2L63.0 231.2L64.0 231.2L65.0 231.2L66.0 231.2L67.0 231.2L68.0 231.2L69.0 231.2L70.0 231.2L71.0 231.2L72.0 231.2L73.0 231.2L74.0 231.2L75.0 231.2L76.0 231.2L77.0 231.2L78.0 231.2L79.0 231.2L80.0 231.2L81.0 231.2L82.0 231.2L83.0 231.2L84.0 231.2L85.0 231.2L86.0 231.2L87.0 231.2L88.0 231.2L89.0 231.2L90.0 231.2L91.0 231.2L92.0 231.2L93.0 231.2L94.0 231.2L95.0 231.2L96.0 231.2L97.0 231.2L98.0 231.2L99.0 231.2L100.0 231.2L101.0 231.2L102.0 231.2L103.0 231.2L104.0 231.2L105.0 231.2L106.0 231.2L107.0 231.2L108.0 231.2L109.0 231.2L110.0 231.2L111.0 231.2L112.0 231.2L113.0 231.2L114.0 231.2L115.0 231.2L116.0 231.2L117.0 231.2L118.0 231.2L119.0 231.2L120.0 231.2L121.0 231.2L122.0 231.2L123.0 231.2L124.0 231.2L125.0 231.2L126.0 231.2L127.0 231.2L128.0 231.2L129.0 231.2L130.0 231.2L131.0 231.2L132.0 231.2L133.0 231.2L134.0 231.2L135.0 231.2L136.0 231.2L137.0 231.2L138.0 231.2L139.0 231.2L140.0 231.2L141.0 231.2L142.0 231.2L143.0 231.2L144.0 231.2L145.0 231.2L146.0 231.2L147.0 231.2L148.0 231.2L149.0 231.2L150.0 231.2L151.0 231.2L152.0 231.2L153.0 231.2L154.0 231.2L155.0 231.2L156.0 231.2L157.0 231.2L158.0 231.2L159.0 231.2L160.0 231.2L161.0 231.2L162.0 231.2L163.0 231.2L164.0 231.2L165.0 231.2L166.0 231.2L167.0 231.2L168.0 231.2L169.0 231.2L170.0 231.2L171.0 231.2L172.0 231.2L173.0 231.2L174.0 231.2L175.0 231.2L176.0 231.2L177.0 231.2L178.0 231.2L179.0 231.2L180.0 231.2L181.0 231.2L182.0 231.2L183.0 231.2L184.0 231.2L185.0 231.2L186.0 231.1L187.0 231.1L188.0 231.1L189.0 231.1L190.0 231.0L191.0 231.0L192.0 230.9L193.0 230.8L194.0 230.7L195.0 230.6L196.0 230.5L197.0 230.3L198.0 230.1L199.0 229.8L200.0 229.5L201.0 229.1L202.0 228.7L203.0 228.2L204.0 227.6L205.0 226.9L206.0 226.1L207.0 225.3L208.0 224.3L209.0 223.1L210.0 221.9L211.0 220.5L212.0 219.0L213.0 217.3L214.0 215.6L215.0 213.7L216.0 211.7L217.0 209.5L218.0 207.3L219.0 205.0L220.0 202.7L221.0 200.3L222.0 197.9L223.0 195.6L224.0 193.3L225.0 191.1L226.0 189.0L227.0 187.0L228.0 185.3L229.0 183.7L230.0 182.4L231.0 181.3L232.0 180.5L233.0 179.9L234.0 179.7L235.0 179.8L236.0 180.1L237.0 180.8L238.0 181.7L239.0 182.9L240.0 184.4L241.0 186.0L242.0 187.9L243.0 189.9L244.0 192.0L245.0 194.3L246.0 196.6L247.0 199.0L248.0 201.4L249.0 203.7L250.0 206.0L251.0 208.3L252.0 210.5L253.0 212.6L254.0 214.5L255.0 216.4L256.0 218.1L257.0 219.7L258.0 221.1L259.0 222.4L260.0 223.6L261.0 224.7L262.0 225.7L263.0 226.5L264.0 227.2L265.0 227.9L266.0 228.4L267.0 228.9L268.0 229.3L269.0 229.6L270.0 229.9L271.0 230.2L272.0 230.4L273.0 230.5L274.0 230.7L275.0 230.8L276.0 230.9L277.0 230.9L278.0 231.0L279.0 231.0L280.0 231.1L281.0 231.1L282.0 231.1L283.0 231.1L284.0 231.2L285.0 231.2L286.0 231.2L287.0 231.2L288.0 231.2L289.0 231.2L290.0 231.2L291.0 231.2L292.0 231.2L293.0 231.2L294.0 231.2L295.0 231.2L296.0 231.2L297.0 231.2L298.0 231.2L299.0 231.2L300.0 231.2L301.0 231.2L302.0 231.2L303.0 231.2L304.0 231.2L305.0 231.2L306.0 231.2L307.0 231.2L308.0 231.2L309.0 231.2L310.0 231.2L311.0 231.2L312.0 231.2L313.0 231.2L314.0 231.2L315.0 231.2L316.0 231.2L317.0 231.2L318.0 231.2L319.0 231.2L320.0 231.2L321.0 231.2L322.0 231.2L323.0 231.2L324.0 231.2L325.0 231.2L326.0 231.2L327.0 231.2L328.0 231.2L329.0 231.2L330.0 231.2L331.0 231.2L332.0 231.2L333.0 231.2L334.0 231.2L335.0 231.2L336.0 231.2L337.0 231.2L338.0 231.2L339.0 231.2L340.0 231.2L341.0 231.2L342.0 231.2L343.0 231.2L344.0 231.2" fill="none" stroke="#208858" stroke-width="1.8"/>
<path d="M32.0 231.2L33.0 231.2L34.0 231.2L35.0 231.2L36.0 231.2L37.0 231.2L38.0 231.2L39.0 231.2L40.0 231.2L41.0 231.2L42.0 231.2L43.0 231.2L44.0 231.2L45.0 231.2L46.0 231.2L47.0 231.2L48.0 231.2L49.0 231.2L50.0 231.2L51.0 231.2L52.0 231.2L53.0 231.2L54.0 231.2L55.0 231.2L56.0 231.2L57.0 231.2L58.0 231.2L59.0 231.2L60.0 231.2L61.0 231.2L62.0 231.2L63.0 231.2L64.0 231.2L65.0 231.2L66.0 231.2L67.0 231.2L68.0 231.2L69.0 231.2L70.0 231.2L71.0 231.2L72.0 231.2L73.0 231.2L74.0 231.2L75.0 231.2L76.0 231.2L77.0 231.2L78.0 231.2L79.0 231.2L80.0 231.2L81.0 231.2L82.0 231.2L83.0 231.2L84.0 231.2L85.0 231.2L86.0 231.2L87.0 231.2L88.0 231.2L89.0 231.2L90.0 231.2L91.0 231.2L92.0 231.2L93.0 231.2L94.0 231.2L95.0 231.2L96.0 231.2L97.0 231.2L98.0 231.2L99.0 231.2L100.0 231.2L101.0 231.2L102.0 231.2L103.0 231.2L104.0 231.2L105.0 231.2L106.0 231.2L107.0 231.2L108.0 231.2L109.0 231.2L110.0 231.2L111.0 231.2L112.0 231.2L113.0 231.2L114.0 231.2L115.0 231.2L116.0 231.2L117.0 231.2L118.0 231.2L119.0 231.2L120.0 231.2L121.0 231.2L122.0 231.2L123.0 231.2L124.0 231.2L125.0 231.2L126.0 231.2L127.0 231.2L128.0 231.2L129.0 231.2L130.0 231.2L131.0 231.2L132.0 231.2L133.0 231.2L134.0 231.2L135.0 231.2L136.0 231.2L137.0 231.2L138.0 231.2L139.0 231.2L140.0 231.2L141.0 231.2L142.0 231.2L143.0 231.2L144.0 231.2L145.0 231.2L146.0 231.2L147.0 231.2L148.0 231.2L149.0 231.2L150.0 231.2L151.0 231.2L152.0 231.2L153.0 231.2L154.0 231.2L155.0 231.2L156.0 231.2L157.0 231.2L158.0 231.2L159.0 231.2L160.0 231.2L161.0 231.2L162.0 231.2L163.0 231.2L164.0 231.2L165.0 231.2L166.0 231.2L167.0 231.2L168.0 231.2L169.0 231.2L170.0 231.2L171.0 231.2L172.0 231.2L173.0 231.2L174.0 231.2L175.0 231.2L176.0 231.2L177.0 231.2L178.0 231.2L179.0 231.2L180.0 231.2L181.0 231.2L182.0 231.2L183.0 231.2L184.0 231.2L185.0 231.2L186.0 231.2L187.0 231.2L188.0 231.2L189.0 231.2L190.0 231.2L191.0 231.2L192.0 231.2L193.0 231.2L194.0 231.2L195.0 231.2L196.0 231.2L197.0 231.2L198.0 231.2L199.0 231.2L200.0 231.2L201.0 231.2L202.0 231.2L203.0 231.1L204.0 231.1L205.0 231.1L206.0 231.1L207.0 231.0L208.0 231.0L209.0 230.9L210.0 230.9L211.0 230.8L212.0 230.7L213.0 230.6L214.0 230.4L215.0 230.2L216.0 230.0L217.0 229.8L218.0 229.5L219.0 229.1L220.0 228.7L221.0 228.3L222.0 227.7L223.0 227.1L224.0 226.4L225.0 225.6L226.0 224.7L227.0 223.7L228.0 222.6L229.0 221.4L230.0 220.0L231.0 218.6L232.0 217.0L233.0 215.4L234.0 213.6L235.0 211.7L236.0 209.8L237.0 207.8L238.0 205.7L239.0 203.6L240.0 201.4L241.0 199.3L242.0 197.2L243.0 195.1L244.0 193.1L245.0 191.2L246.0 189.5L247.0 187.8L248.0 186.4L249.0 185.1L250.0 184.1L251.0 183.3L252.0 182.7L253.0 182.4L254.0 182.3L255.0 182.5L256.0 182.9L257.0 183.6L258.0 184.5L259.0 185.7L260.0 187.0L261.0 188.5L262.0 190.2L263.0 192.0L264.0 194.0L265.0 196.0L266.0 198.1L267.0 200.2L268.0 202.4L269.0 204.5L270.0 206.6L271.0 208.7L272.0 210.7L273.0 212.6L274.0 214.4L275.0 216.1L276.0 217.7L277.0 219.2L278.0 220.6L279.0 221.9L280.0 223.1L281.0 224.1L282.0 225.1L283.0 225.9L284.0 226.7L285.0 227.4L286.0 228.0L287.0 228.5L288.0 228.9L289.0 229.3L290.0 229.6L291.0 229.9L292.0 230.1L293.0 230.3L294.0 230.5L295.0 230.6L296.0 230.7L297.0 230.8L298.0 230.9L299.0 231.0L300.0 231.0L301.0 231.1L302.0 231.1L303.0 231.1L304.0 231.1L305.0 231.1L306.0 231.2L307.0 231.2L308.0 231.2L309.0 231.2L310.0 231.2L311.0 231.2L312.0 231.2L313.0 231.2L314.0 231.2L315.0 231.2L316.0 231.2L317.0 231.2L318.0 231.2L319.0 231.2L320.0 231.2L321.0 231.2L322.0 231.2L323.0 231.2L324.0 231.2L325.0 231.2L326.0 231.2L327.0 231.2L328.0 231.2L329.0 231.2L330.0 231.2L331.0 231.2L332.0 231.2L333.0 231.2L334.0 231.2L335.0 231.2L336.0 231.2L337.0 231.2L338.0 231.2L339.0 231.2L340.0 231.2L341.0 231.2L342.0 231.2L343.0 231.2L344.0 231.2" fill="none" stroke="#880038" stroke-width="1.8"/>
<path d="M32.0 231.2L33.0 231.2L34.0 231.2L35.0 231.2L36.0 231.2L37.0 231.2L38.0 231.2L39.0 231.2L40.0 231.2L41.0 231.2L42.0 231.2L43.0 231.2L44.0 231.2L45.0 231.2L46.0 231.2L47.0 231.2L48.0 231.2L49.0 231.2L50.0 231.2L51.0 231.2L52.0 231.2L53.0 231.2L54.0 231.2L55.0 231.2L56.0 231.2L57.0 231.2L58.0 231.2L59.0 231.2L60.0 231.2L61.0 231.2L62.0 231.2L63.0 231.2L64.0 231.2L65.0 231.2L66.0 231.2L67.0 231.2L68.0 231.2L69.0 231.2L70.0 231.2L71.0 231.2L72.0 231.2L73.0 231.2L74.0 231.2L75.0 231.2L76.0 231.2L77.0 231.2L78.0 231.2L79.0 231.2L80.0 231.2L81.0 231.2L82.0 231.2L83.0 231.2L84.0 231.2L85.0 231.2L86.0 231.2L87.0 231.2L88.0 231.2L89.0 231.2L90.0 231.2L91.0 231.2L92.0 231.2L93.0 231.2L94.0 231.2L95.0 231.2L96.0 231.2L97.0 231.2L98.0 231.2L99.0 231.2L100.0 231.2L101.0 231.2L102.0 231.2L103.0 231.2L104.0 231.2L105.0 231.2L106.0 231.2L107.0 231.2L108.0 231.2L109.0 231.2L110.0 231.2L111.0 231.2L112.0 231.2L113.0 231.2L114.0 231.2L115.0 231.2L116.0 231.2L117.0 231.2L118.0 231.2L119.0 231.2L120.0 231.2L121.0 231.2L122.0 231.2L123.0 231.2L124.0 231.2L125.0 231.2L126.0 231.2L127.0 231.2L128.0 231.2L129.0 231.2L130.0 231.2L131.0 231.2L132.0 231.2L133.0 231.2L134.0 231.2L135.0 231.2L136.0 231.2L137.0 231.2L138.0 231.2L139.0 231.2L140.0 231.2L141.0 231.2L142.0 231.2L143.0 231.2L144.0 231.2L145.0 231.2L146.0 231.2L147.0 231.2L148.0 231.2L149.0 231.2L150.0 231.2L151.0 231.2L152.0 231.2L153.0 231.2L154.0 231.2L155.0 231.2L156.0 231.2L157.0 231.2L158.0 231.2L159.0 231.2L160.0 231.2L161.0 231.2L162.0 231.2L163.0 231.2L164.0 231.2L165.0 231.2L166.0 231.2L167.0 231.2L168.0 231.2L169.0 231.2L170.0 231.2L171.0 231.2L172.0 231.2L173.0 231.2L174.0 231.2L175.0 231.2L176.0 231.2L177.0 231.2L178.0 231.2L179.0 231.2L180.0 231.2L181.0 231.2L182.0 231.2L183.0 231.2L184.0 231.2L185.0 231.2L186.0 231.2L187.0 231.2L188.0 231.2L189.0 231.2L190.0 231.2L191.0 231.2L192.0 231.2L193.0 231.2L194.0 231.2L195.0 231.2L196.0 231.2L197.0 231.2L198.0 231.2L199.0 231.2L200.0 231.2L201.0 231.2L202.0 231.2L203.0 231.2L204.0 231.2L205.0 231.2L206.0 231.2L207.0 231.2L208.0 231.2L209.0 231.2L210.0 231.2L211.0 231.2L212.0 231.2L213.0 231.2L214.0 231.2L215.0 231.2L216.0 231.1L217.0 231.1L218.0 231.1L219.0 231.1L220.0 231.1L221.0 231.0L222.0 231.0L223.0 231.0L224.0 230.9L225.0 230.8L226.0 230.8L227.0 230.7L228.0 230.6L229.0 230.4L230.0 230.3L231.0 230.1L232.0 229.9L233.0 229.7L234.0 229.5L235.0 229.2L236.0 228.8L237.0 228.5L238.0 228.1L239.0 227.6L240.0 227.1L241.0 226.5L242.0 225.9L243.0 225.2L244.0 224.4L245.0 223.6L246.0 222.6L247.0 221.7L248.0 220.6L249.0 219.5L250.0 218.3L251.0 217.1L252.0 215.8L253.0 214.4L254.0 213.0L255.0 211.5L256.0 210.0L257.0 208.4L258.0 206.9L259.0 205.3L260.0 203.8L261.0 202.2L262.0 200.7L263.0 199.3L264.0 197.8L265.0 196.5L266.0 195.2L267.0 194.1L268.0 193.0L269.0 192.1L270.0 191.3L271.0 190.6L272.0 190.1L273.0 189.7L274.0 189.5L275.0 189.5L276.0 189.6L277.0 189.8L278.0 190.3L279.0 190.8L280.0 191.5L281.0 192.4L282.0 193.4L283.0 194.4L284.0 195.6L285.0 196.9L286.0 198.3L287.0 199.7L288.0 201.2L289.0 202.7L290.0 204.3L291.0 205.8L292.0 207.4L293.0 208.9L294.0 210.5L295.0 212.0L296.0 213.4L297.0 214.8L298.0 216.2L299.0 217.5L300.0 218.7L301.0 219.9L302.0 221.0L303.0 222.0L304.0 222.9L305.0 223.8L306.0 224.6L307.0 225.4L308.0 226.1L309.0 226.7L310.0 227.2L311.0 227.7L312.0 228.2L313.0 228.6L314.0 229.0L315.0 229.3L316.0 229.5L317.0 229.8L318.0 230.0L319.0 230.2L320.0 230.3L321.0 230.5L322.0 230.6L323.0 230.7L324.0 230.8L325.0 230.9L326.0 230.9L327.0 231.0L328.0 231.0L329.0 231.0L330.0 231.1L331.0 231.1L332.0 231.1L333.0 231.1L334.0 231.1L335.0 231.2L336.0 231.2L337.0 231.2L338.0 231.2L339.0 231.2L340.0 231.2L341.0 231.2L342.0 231.2L343.0 231.2L344.0 231.2" fill="none" stroke="#ff60b0" stroke-width="1.8"/>
<path d="M32.0 231.2L33.0 231.2L34.0 231.2L35.0 231.2L36.0 231.2L37.0 231.2L38.0 231.2L39.0 231.2L40.0 231.2L41.0 231.2L42.0 231.2L43.0 231.2L44.0 231.2L45.0 231.2L46.0 231.2L47.0 231.2L48.0 231.2L49.0 231.2L50.0 231.2L51.0 231.2L52.0 231.2L53.0 231.2L54.0 231.2L55.0 231.2L56.0 231.2L57.0 231.2L58.0 231.2L59.0 231.2L60.0 231.2L61.0 231.2L62.0 231.2L63.0 231.2L64.0 231.2L65.0 231.2L66.0 231.2L67.0 231.2L68.0 231.2L69.0 231.2L70.0 231.2L71.0 231.2L72.0 231.2L73.0 231.2L74.0 231.2L75.0 231.2L76.0 231.2L77.0 231.2L78.0 231.2L79.0 231.2L80.0 231.2L81.0 231.2L82.0 231.2L83.0 231.2L84.0 231.2L85.0 231.2L86.0 231.2L87.0 231.2L88.0 231.2L89.0 231.2L90.0 231.2L91.0 231.2L92.0 231.2L93.0 231.2L94.0 231.2L95.0 231.2L96.0 231.2L97.0 231.2L98.0 231.2L99.0 231.2L100.0 231.2L101.0 231.2L102.0 231.2L103.0 231.2L104.0 231.2L105.0 231.2L106.0 231.2L107.0 231.2L108.0 231.2L109.0 231.2L110.0 231.2L111.0 231.2L112.0 231.2L113.0 231.2L114.0 231.2L115.0 231.2L116.0 231.2L117.0 231.2L118.0 231.2L119.0 231.2L120.0 231.2L121.0 231.2L122.0 231.2L123.0 231.2L124.0 231.2L125.0 231.2L126.0 231.2L127.0 231.2L128.0 231.2L129.0 231.2L130.0 231.2L131.0 231.2L132.0 231.2L133.0 231.2L134.0 231.2L135.0 231.2L136.0 231.2L137.0 231.2L138.0 231.2L139.0 231.2L140.0 231.2L141.0 231.2L142.0 231.2L143.0 231.2L144.0 231.2L145.0 231.2L146.0 231.2L147.0 231.2L148.0 231.2L149.0 231.2L150.0 231.2L151.0 231.2L152.0 231.2L153.0 231.2L154.0 231.2L155.0 231.2L156.0 231.2L157.0 231.2L158.0 231.2L159.0 231.2L160.0 231.2L161.0 231.2L162.0 231.2L163.0 231.2L164.0 231.2L165.0 231.2L166.0 231.2L167.0 231.2L168.0 231.2L169.0 231.2L170.0 231.2L171.0 231.2L172.0 231.2L173.0 231.2L174.0 231.2L175.0 231.2L176.0 231.2L177.0 231.2L178.0 231.2L179.0 231.2L180.0 231.2L181.0 231.2L182.0 231.2L183.0 231.2L184.0 231.2L185.0 231.2L186.0 231.2L187.0 231.2L188.0 231.2L189.0 231.2L190.0 231.2L191.0 231.2L192.0 231.2L193.0 231.2L194.0 231.2L195.0 231.2L196.0 231.2L197.0 231.2L198.0 231.2L199.0 231.2L200.0 231.2L201.0 231.2L202.0 231.2L203.0 231.2L204.0 231.2L205.0 231.2L206.0 231.2L207.0 231.2L208.0 231.2L209.0 231.2L210.0 231.2L211.0 231.2L212.0 231.2L213.0 231.2L214.0 231.2L215.0 231.2L216.0 231.2L217.0 231.2L218.0 231.2L219.0 231.2L220.0 231.2L221.0 231.2L222.0 231.2L223.0 231.2L224.0 231.2L225.0 231.2L226.0 231.2L227.0 231.2L228.0 231.2L229.0 231.2L230.0 231.2L231.0 231.2L232.0 231.1L233.0 231.1L234.0 231.1L235.0 231.1L236.0 231.1L237.0 231.1L238.0 231.0L239.0 231.0L240.0 231.0L241.0 230.9L242.0 230.9L243.0 230.8L244.0 230.8L245.0 230.7L246.0 230.6L247.0 230.5L248.0 230.4L249.0 230.3L250.0 230.1L251.0 230.0L252.0 229.8L253.0 229.6L254.0 229.4L255.0 229.1L256.0 228.9L257.0 228.6L258.0 228.2L259.0 227.9L260.0 227.5L261.0 227.0L262.0 226.5L263.0 226.0L264.0 225.4L265.0 224.8L266.0 224.2L267.0 223.5L268.0 222.8L269.0 222.0L270.0 221.1L271.0 220.3L272.0 219.4L273.0 218.4L274.0 217.4L275.0 216.4L276.0 215.3L277.0 214.2L278.0 213.1L279.0 212.0L280.0 210.8L281.0 209.7L282.0 208.5L283.0 207.4L284.0 206.3L285.0 205.1L286.0 204.0L287.0 203.0L288.0 202.0L289.0 201.0L290.0 200.1L291.0 199.3L292.0 198.5L293.0 197.8L294.0 197.1L295.0 196.6L296.0 196.2L297.0 195.8L298.0 195.6L299.0 195.4L300.0 195.3L301.0 195.4L302.0 195.5L303.0 195.8L304.0 196.1L305.0 196.6L306.0 197.1L307.0 197.7L308.0 198.4L309.0 199.2L310.0 200.0L311.0 200.9L312.0 201.9L313.0 202.9L314.0 203.9L315.0 205.0L316.0 206.1L317.0 207.3L318.0 208.4L319.0 209.6L320.0 210.7L321.0 211.9L322.0 213.0L323.0 214.1L324.0 215.2L325.0 216.3L326.0 217.3L327.0 218.3L328.0 219.2L329.0 220.2L330.0 221.0L331.0 221.9L332.0 222.7L333.0 223.4L334.0 224.1L335.0 224.8L336.0 225.4L337.0 225.9L338.0 226.5L339.0 227.0L340.0 227.4L341.0 227.8L342.0 228.2L343.0 228.5L344.0 228.8" fill="none" stroke="#30e030" stroke-width="1.8"/>
</g>
<clipPath id="cB"><rect x="387.0" y="15.6" width="309.6" height="222.0"/></clipPath>
<g clip-path="url(#cB)">
<path d="M387 236.6V127.5H388V125.4H389V121.6H390V122.7H391V125.1H392V126.4H393V122.7H394V113.4H395V113.6H396V128.6H397V126.7H398V122.6H399V126.0H400V127.1H401V132.1H402V134.6H403V134.6H404V138.0H405V139.5H406V143.6H407V150.5H408V147.9H409V160.2H410V164.7H411V170.6H412V174.1H413V174.5H414V183.1H415V189.8H416V197.8H417V203.8H418V205.0H419V213.0H420V216.4H421V220.9H422V221.4H423V227.1H424V228.8H425V230.8H426V232.9H427V233.8H428V234.8H429V235.4H430V235.7H431V236.1H432V236.3H433V236.4H434V236.6" fill="#5a00b4"/>
<path d="M387 236.6V222.7H388V226.0H389V226.0H390V224.7H391V222.1H392V219.4H393V219.4H394V218.1H395V208.9H396V208.9H397V207.6H398V209.5H399V201.0H400V191.1H401V200.3H402V193.0H403V181.8H404V178.5H405V185.8H406V178.5H407V181.2H408V168.6H409V166.6H410V156.1H411V164.0H412V170.6H413V159.4H414V149.5H415V154.8H416V145.5H417V147.5H418V158.1H419V145.5H420V154.1H421V148.8H422V151.5H423V152.8H424V146.8H425V156.7H426V149.5H427V162.0H428V170.6H429V164.7H430V161.4H431V168.0H432V170.6H433V173.2H434V178.5H435V183.1H436V185.1H437V187.8H438V187.8H439V198.3H440V195.0H441V202.9H442V195.7H443V210.2H444V216.1H445V215.5H446V214.2H447V218.8H448V219.4H449V218.1H450V220.8H451V225.4H452V227.4H453V226.0H454V225.4H455V230.0H456V232.0H457V231.3H458V234.0H459V234.0H460V232.6H461V235.3H462V234.0H463V234.6H464V235.9H465V235.3H466V233.3H467V235.3H468V235.9H469V235.3H470V235.9H471V236.6" fill="#5aa014"/>
<path d="M394 236.6V234.8H395V235.7H396V236.6M397 236.6V235.7H398V234.0H399V235.7H400V235.7H401V234.0H402V234.0H403V234.0H404V234.8H405V233.1H406V229.6H407V229.6H408V231.3H409V231.3H410V228.7H411V226.0H412V225.2H413V226.9H414V226.9H415V219.0H416V216.4H417V217.2H418V215.5H419V214.6H420V209.3H421V207.6H422V202.3H423V204.0H424V195.2H425V182.9H426V198.8H427V191.7H428V181.2H429V179.4H430V166.2H431V160.0H432V169.7H433V173.2H434V158.3H435V159.2H436V158.3H437V155.6H438V143.3H439V150.4H440V146.0H441V155.6H442V148.6H443V146.0H444V147.7H445V153.0H446V149.5H447V149.5H448V156.5H449V163.6H450V159.2H451V167.1H452V163.6H453V162.7H454V178.5H455V183.8H456V180.3H457V178.5H458V184.7H459V185.6H460V192.6H461V194.4H462V205.8H463V204.0H464V202.3H465V204.0H466V217.2H467V216.4H468V217.2H469V219.9H470V221.6H471V226.0H472V225.2H473V227.8H474V226.9H475V231.3H476V230.4H477V231.3H478V231.3H479V233.1H480V234.0H481V234.8H482V234.8H483V234.8H484V236.6M485 236.6V232.2H486V234.8H487V234.8H488V236.6M490 236.6V235.7H491V236.6" fill="#000000"/>
<path d="M414 236.6V235.4H415V236.6M417 236.6V235.4H418V233.0H419V236.6M420 236.6V234.2H421V233.0H422V235.4H423V233.0H424V229.3H425V234.2H426V230.5H427V229.3H428V228.1H429V233.0H430V230.5H431V230.5H432V229.3H433V225.7H434V224.5H435V217.2H436V222.1H437V214.8H438V212.4H439V211.2H440V212.4H441V202.7H442V202.7H443V206.3H444V196.7H445V191.8H446V190.6H447V187.0H448V184.6H449V179.7H450V178.5H451V176.1H452V180.9H453V176.1H454V166.4H455V157.9H456V168.8H457V166.4H458V153.1H459V159.2H460V147.1H461V153.1H462V161.6H463V145.8H464V161.6H465V130.1H466V148.3H467V138.6H468V155.5H469V144.6H470V168.8H471V172.5H472V176.1H473V157.9H474V161.6H475V171.3H476V178.5H477V183.4H478V189.4H479V191.8H480V193.0H481V191.8H482V190.6H483V202.7H484V197.9H485V210.0H486V207.6H487V210.0H488V220.9H489V216.0H490V220.9H491V216.0H492V225.7H493V222.1H494V224.5H495V228.1H496V225.7H497V229.3H498V229.3H499V230.5H500V233.0H501V231.8H502V231.8H503V234.2H504V233.0H505V236.6M506 236.6V235.4H507V234.2H508V235.4H509V235.4H510V236.6M511 236.6V234.2H512V235.4H513V236.6" fill="#5afaaa"/>
<path d="M432 236.6V236.3H433V236.3H434V236.2H435V236.1H436V235.9H437V235.8H438V235.5H439V235.4H440V235.2H441V235.0H442V234.2H443V234.2H444V233.3H445V233.0H446V232.4H447V232.0H448V231.0H449V230.2H450V228.8H451V227.9H452V225.7H453V224.7H454V221.4H455V218.0H456V219.3H457V217.3H458V211.8H459V213.0H460V210.7H461V206.8H462V202.2H463V196.5H464V161.8H465V196.1H466V179.9H467V188.6H468V172.4H469V176.4H470V163.1H471V167.1H472V166.5H473V159.3H474V152.1H475V139.8H476V151.5H477V141.5H478V139.8H479V157.5H480V145.2H481V148.3H482V151.9H483V147.9H484V146.7H485V157.8H486V146.3H487V139.8H488V158.2H489V156.0H490V160.9H491V154.1H492V167.7H493V165.8H494V165.5H495V175.8H496V174.2H497V185.1H498V181.6H499V192.6H500V195.8H501V198.5H502V199.2H503V205.5H504V203.1H505V211.9H506V212.7H507V214.8H508V219.1H509V219.6H510V220.1H511V223.0H512V226.3H513V227.1H514V228.8H515V229.9H516V230.5H517V230.9H518V232.2H519V233.0H520V233.2H521V233.9H522V233.7H523V234.8H524V234.9H525V235.3H526V235.6H527V235.7H528V235.9H529V236.0H530V235.9H531V236.1H532V236.3H533V236.3H534V236.6" fill="#145ab4"/>
<path d="M455 236.6V236.4H456V236.3H457V236.3H458V236.2H459V236.1H460V235.7H461V235.7H462V235.7H463V235.3H464V235.0H465V235.0H466V234.3H467V233.9H468V233.9H469V233.0H470V232.5H471V231.6H472V229.7H473V230.5H474V229.4H475V225.4H476V222.5H477V225.8H478V223.8H479V220.6H480V219.8H481V218.8H482V214.1H483V208.1H484V210.5H485V203.2H486V201.5H487V202.2H488V200.9H489V180.7H490V188.5H491V186.0H492V179.3H493V184.7H494V162.3H495V177.2H496V174.1H497V158.4H498V166.9H499V165.2H500V164.2H501V159.6H502V145.9H503V157.6H504V141.0H505V155.6H506V156.1H507V138.7H508V152.7H509V138.7H510V157.0H511V154.7H512V147.1H513V160.0H514V162.9H515V157.9H516V166.2H517V170.4H518V173.9H519V170.9H520V174.8H521V180.0H522V176.5H523V188.0H524V194.0H525V187.9H526V199.2H527V202.6H528V197.1H529V203.2H530V210.0H531V213.4H532V216.4H533V218.4H534V220.5H535V220.5H536V222.3H537V225.3H538V226.8H539V228.1H540V228.2H541V229.7H542V231.0H543V231.6H544V232.8H545V233.3H546V233.9H547V234.3H548V234.6H549V235.0H550V235.3H551V235.5H552V235.4H553V235.9H554V236.0H555V236.1H556V236.2H557V236.3H558V236.3H559V236.4H560V236.6" fill="#c4f464"/>
<path d="M481 236.6V236.4H482V235.9H483V236.2H484V236.1H485V236.0H486V235.9H487V235.5H488V235.4H489V235.4H490V234.7H491V234.8H492V234.2H493V233.5H494V232.3H495V231.5H496V232.1H497V230.6H498V230.0H499V229.1H500V227.9H501V225.0H502V225.1H503V223.4H504V219.5H505V217.3H506V213.6H507V210.6H508V209.1H509V207.8H510V204.4H511V201.6H512V201.0H513V190.4H514V192.7H515V189.5H516V185.4H517V169.6H518V138.9H519V170.0H520V174.2H521V163.4H522V159.3H523V149.7H524V140.2H525V147.3H526V156.1H527V124.2H528V123.3H529V133.6H530V123.3H531V152.0H532V125.1H533V152.1H534V138.5H535V156.7H536V125.7H537V127.7H538V155.5H539V164.7H540V172.2H541V133.9H542V179.8H543V171.0H544V142.2H545V184.8H546V189.6H547V192.0H548V198.3H549V194.6H550V205.4H551V207.9H552V194.8H553V213.8H554V214.9H555V217.4H556V199.3H557V221.4H558V224.7H559V224.1H560V227.5H561V228.5H562V227.3H563V230.8H564V230.2H565V232.5H566V233.0H567V233.1H568V234.2H569V234.3H570V234.8H571V235.1H572V235.0H573V235.7H574V235.9H575V236.0H576V236.1H577V236.2H578V236.3H579V236.4H580V236.6" fill="#62b2f8"/>
<path d="M510 236.6V236.4H511V236.3H512V236.2H513V236.0H514V235.6H515V235.6H516V235.4H517V235.2H518V234.7H519V234.1H520V232.5H521V233.2H522V232.4H523V230.8H524V229.0H525V226.7H526V223.5H527V225.4H528V220.7H529V219.3H530V196.7H531V211.5H532V211.2H533V204.9H534V200.6H535V192.2H536V159.3H537V183.2H538V141.0H539V170.4H540V173.6H541V170.2H542V148.8H543V160.2H544V152.8H545V153.6H546V148.7H547V97.1H548V146.1H549V113.9H550V125.6H551V135.4H552V122.3H553V117.7H554V133.3H555V120.5H556V143.4H557V149.8H558V149.1H559V135.9H560V148.8H561V166.9H562V172.0H563V175.8H564V177.5H565V182.6H566V186.1H567V170.4H568V194.1H569V202.6H570V198.6H571V207.2H572V211.0H573V216.4H574V220.7H575V222.9H576V223.4H577V225.9H578V227.7H579V227.8H580V231.2H581V231.4H582V232.5H583V233.5H584V233.0H585V234.5H586V234.6H587V235.5H588V235.6H589V235.9H590V235.9H591V236.1H592V236.1H593V236.3H594V236.6" fill="#14ff14"/>
<path d="M529 236.6V236.3H530V236.3H531V236.0H532V236.0H533V235.7H534V235.6H535V235.4H536V235.0H537V233.7H538V234.0H539V233.2H540V232.7H541V227.0H542V229.5H543V227.0H544V221.7H545V223.2H546V222.7H547V220.7H548V219.5H549V216.5H550V213.3H551V204.9H552V187.5H553V197.0H554V190.4H555V183.6H556V176.0H557V181.4H558V152.3H559V171.8H560V130.5H561V138.2H562V138.8H563V128.4H564V87.0H565V129.0H566V116.5H567V128.0H568V125.1H569V136.3H570V123.5H571V136.1H572V87.0H573V131.4H574V116.5H575V133.5H576V141.5H577V154.0H578V143.6H579V158.3H580V129.5H581V162.8H582V139.0H583V180.8H584V171.0H585V190.1H586V192.0H587V177.5H588V187.1H589V198.5H590V209.9H591V211.2H592V212.2H593V220.0H594V222.6H595V221.3H596V225.9H597V228.3H598V228.6H599V230.3H600V230.6H601V230.9H602V232.9H603V233.9H604V234.6H605V235.1H606V235.2H607V235.7H608V235.7H609V235.9H610V236.1H611V236.2H612V236.4H613V236.6" fill="#ff5ab4"/>
<path d="M555 236.6V201.4H556V236.6M559 236.6V219.0H560V219.0H561V236.6M562 236.6V219.0H563V219.0H564V236.6M565 236.6V219.0H566V219.0H567V183.8H568V201.4H569V201.4H570V201.4H571V148.6H572V201.4H573V166.2H574V183.8H575V201.4H576V183.8H577V201.4H578V166.2H579V166.2H580V95.8H581V131.0H582V148.6H583V95.8H584V113.4H585V131.0H586V131.0H587V131.0H588V148.6H589V166.2H590V113.4H591V78.2H592V148.6H593V113.4H594V95.8H595V113.4H596V131.0H597V166.2H598V166.2H599V166.2H600V131.0H601V131.0H602V201.4H603V201.4H604V148.6H605V201.4H606V183.8H607V183.8H608V219.0H609V183.8H610V201.4H611V219.0H612V201.4H613V219.0H614V219.0H615V183.8H616V236.6M617 236.6V219.0H618V236.6M619 236.6V219.0H620V236.6" fill="#b00058"/>
<path d="M575 236.6V212.4H576V236.6M578 236.6V188.2H579V236.6M580 236.6V212.4H581V212.4H582V188.2H583V236.6M584 236.6V212.4H585V212.4H586V236.6M587 236.6V188.2H588V212.4H589V115.6H590V164.0H591V188.2H592V139.8H593V164.0H594V115.6H595V139.8H596V139.8H597V139.8H598V139.8H599V139.8H600V139.8H601V91.4H602V115.6H603V139.8H604V91.4H605V67.2H606V49.6H607V91.4H608V115.6H609V115.6H610V115.6H611V91.4H612V115.6H613V115.6H614V91.4H615V164.0H616V139.8H617V164.0H618V139.8H619V115.6H620V164.0H621V164.0H622V115.6H623V164.0H624V139.8H625V188.2H626V188.2H627V164.0H628V164.0H629V188.2H630V212.4H631V188.2H632V212.4H633V188.2H634V188.2H635V212.4H636V212.4H637V212.4H638V236.6M639 236.6V212.4H640V212.4H641V212.4H642V236.6M646 236.6V212.4H647V236.6" fill="#14a864"/>
<path d="M576 236.6V200.3H577V236.6M579 236.6V200.3H580V164.0H581V236.6M582 236.6V200.3H583V236.6M584 236.6V200.3H585V236.6M589 236.6V200.3H590V236.6M591 236.6V200.3H592V200.3H593V200.3H594V236.6M595 236.6V200.3H596V236.6M597 236.6V200.3H598V164.0H599V236.6M600 236.6V164.0H601V200.3H602V236.6M603 236.6V200.3H604V200.3H605V236.6M606 236.6V164.0H607V200.3H608V164.0H609V164.0H610V200.3H611V164.0H612V200.3H613V164.0H614V164.0H615V164.0H616V164.0H617V200.3H618V200.3H619V127.7H620V164.0H621V91.4H622V164.0H623V164.0H624V55.1H625V164.0H626V91.4H627V127.7H628V55.1H629V200.3H630V164.0H631V164.0H632V164.0H633V91.4H634V127.7H635V200.3H636V127.7H637V127.7H638V164.0H639V164.0H640V127.7H641V164.0H642V91.4H643V91.4H644V127.7H645V236.6M646 236.6V164.0H647V200.3H648V200.3H649V200.3H650V164.0H651V200.3H652V200.3H653V164.0H654V200.3H655V200.3H656V200.3H657V236.6M658 236.6V200.3H659V200.3H660V236.6M662 236.6V200.3H663V236.6" fill="#b464ff"/>
<path d="M617 236.6V164.0H618V164.0H619V91.4H620V164.0H621V164.0H622V236.6M623 236.6V164.0H624V91.4H625V18.8H626V164.0H627V164.0H628V91.4H629V164.0H630V18.8H631V164.0H632V91.4H633V164.0H634V164.0H635V164.0H636V18.8H637V164.0H638V164.0H639V91.4H640V164.0H641V164.0H642V164.0H643V91.4H644V91.4H645V18.8H646V91.4H647V91.4H648V18.8H649V164.0H650V164.0H651V91.4H652V91.4H653V91.4H654V18.8H655V18.8H656V91.4H657V91.4H658V18.8H659V91.4H660V236.6M661 236.6V18.8H662V91.4H663V91.4H664V18.8H665V91.4H666V18.8H667V91.4H668V91.4H669V18.8H670V91.4H671V91.4H672V18.8H673V91.4H674V164.0H675V18.8H676V164.0H677V164.0H678V236.6M679 236.6V91.4H680V18.8H681V164.0H682V164.0H683V164.0H684V91.4H685V164.0H686V164.0H687V236.6M688 236.6V91.4H689V164.0H690V164.0H691V164.0H692V91.4H693V164.0H694V236.6" fill="#b4b4b4"/>
<path d="M387.0 114.7L388.0 113.9L389.0 113.5L390.0 113.4L391.0 113.8L392.0 114.5L393.0 115.7L394.0 117.1L395.0 119.0L396.0 121.2L397.0 123.7L398.0 126.4L399.0 129.5L400.0 132.8L401.0 136.3L402.0 140.0L403.0 143.9L404.0 147.9L405.0 151.9L406.0 156.1L407.0 160.3L408.0 164.5L409.0 168.6L410.0 172.8L411.0 176.9L412.0 180.9L413.0 184.7L414.0 188.5L415.0 192.2L416.0 195.6L417.0 199.0L418.0 202.2L419.0 205.2L420.0 208.0L421.0 210.6L422.0 213.1L423.0 215.4L424.0 217.6L425.0 219.6L426.0 221.4L427.0 223.1L428.0 224.6L429.0 226.0L430.0 227.2L431.0 228.4L432.0 229.4L433.0 230.3L434.0 231.1L435.0 231.8L436.0 232.5L437.0 233.1L438.0 233.6L439.0 234.0L440.0 234.4L441.0 234.7L442.0 235.0L443.0 235.2L444.0 235.4L445.0 235.6L446.0 235.8L447.0 235.9L448.0 236.0L449.0 236.1L450.0 236.2L451.0 236.3L452.0 236.3L453.0 236.4L454.0 236.4L455.0 236.5L456.0 236.5L457.0 236.5L458.0 236.5L459.0 236.5L460.0 236.6L461.0 236.6L462.0 236.6L463.0 236.6L464.0 236.6L465.0 236.6L466.0 236.6L467.0 236.6L468.0 236.6L469.0 236.6L470.0 236.6L471.0 236.6L472.0 236.6L473.0 236.6L474.0 236.6L475.0 236.6L476.0 236.6L477.0 236.6L478.0 236.6L479.0 236.6L480.0 236.6L481.0 236.6L482.0 236.6L483.0 236.6L484.0 236.6L485.0 236.6L486.0 236.6L487.0 236.6L488.0 236.6L489.0 236.6L490.0 236.6L491.0 236.6L492.0 236.6L493.0 236.6L494.0 236.6L495.0 236.6L496.0 236.6L497.0 236.6L498.0 236.6L499.0 236.6L500.0 236.6L501.0 236.6L502.0 236.6L503.0 236.6L504.0 236.6L505.0 236.6L506.0 236.6L507.0 236.6L508.0 236.6L509.0 236.6L510.0 236.6L511.0 236.6L512.0 236.6L513.0 236.6L514.0 236.6L515.0 236.6L516.0 236.6L517.0 236.6L518.0 236.6L519.0 236.6L520.0 236.6L521.0 236.6L522.0 236.6L523.0 236.6L524.0 236.6L525.0 236.6L526.0 236.6L527.0 236.6L528.0 236.6L529.0 236.6L530.0 236.6L531.0 236.6L532.0 236.6L533.0 236.6L534.0 236.6L535.0 236.6L536.0 236.6L537.0 236.6L538.0 236.6L539.0 236.6L540.0 236.6L541.0 236.6L542.0 236.6L543.0 236.6L544.0 236.6L545.0 236.6L546.0 236.6L547.0 236.6L548.0 236.6L549.0 236.6L550.0 236.6L551.0 236.6L552.0 236.6L553.0 236.6L554.0 236.6L555.0 236.6L556.0 236.6L557.0 236.6L558.0 236.6L559.0 236.6L560.0 236.6L561.0 236.6L562.0 236.6L563.0 236.6L564.0 236.6L565.0 236.6L566.0 236.6L567.0 236.6L568.0 236.6L569.0 236.6L570.0 236.6L571.0 236.6L572.0 236.6L573.0 236.6L574.0 236.6L575.0 236.6L576.0 236.6L577.0 236.6L578.0 236.6L579.0 236.6L580.0 236.6L581.0 236.6L582.0 236.6L583.0 236.6L584.0 236.6L585.0 236.6L586.0 236.6L587.0 236.6L588.0 236.6L589.0 236.6L590.0 236.6L591.0 236.6L592.0 236.6L593.0 236.6L594.0 236.6L595.0 236.6L596.0 236.6L597.0 236.6L598.0 236.6L599.0 236.6L600.0 236.6L601.0 236.6L602.0 236.6L603.0 236.6L604.0 236.6L605.0 236.6L606.0 236.6L607.0 236.6L608.0 236.6L609.0 236.6L610.0 236.6L611.0 236.6L612.0 236.6L613.0 236.6L614.0 236.6L615.0 236.6L616.0 236.6L617.0 236.6L618.0 236.6L619.0 236.6L620.0 236.6L621.0 236.6L622.0 236.6L623.0 236.6L624.0 236.6L625.0 236.6L626.0 236.6L627.0 236.6L628.0 236.6L629.0 236.6L630.0 236.6L631.0 236.6L632.0 236.6L633.0 236.6L634.0 236.6L635.0 236.6L636.0 236.6L637.0 236.6L638.0 236.6L639.0 236.6L640.0 236.6L641.0 236.6L642.0 236.6L643.0 236.6L644.0 236.6L645.0 236.6L646.0 236.6L647.0 236.6L648.0 236.6L649.0 236.6L650.0 236.6L651.0 236.6L652.0 236.6L653.0 236.6L654.0 236.6L655.0 236.6L656.0 236.6L657.0 236.6L658.0 236.6L659.0 236.6L660.0 236.6L661.0 236.6L662.0 236.6L663.0 236.6L664.0 236.6L665.0 236.6L666.0 236.6L667.0 236.6L668.0 236.6L669.0 236.6L670.0 236.6L671.0 236.6L672.0 236.6L673.0 236.6L674.0 236.6L675.0 236.6L676.0 236.6L677.0 236.6L678.0 236.6L679.0 236.6L680.0 236.6L681.0 236.6L682.0 236.6L683.0 236.6L684.0 236.6L685.0 236.6L686.0 236.6L687.0 236.6L688.0 236.6L689.0 236.6L690.0 236.6L691.0 236.6L692.0 236.6L693.0 236.6L694.0 236.6L695.0 236.6L696.0 236.6" fill="none" stroke="#ff1010" stroke-width="1.8"/>
<path d="M387.0 229.8L388.0 228.7L389.0 227.5L390.0 226.2L391.0 224.7L392.0 223.0L393.0 221.3L394.0 219.3L395.0 217.2L396.0 214.9L397.0 212.5L398.0 209.9L399.0 207.2L400.0 204.3L401.0 201.4L402.0 198.3L403.0 195.1L404.0 191.9L405.0 188.6L406.0 185.3L407.0 182.1L408.0 178.9L409.0 175.8L410.0 172.8L411.0 169.9L412.0 167.2L413.0 164.8L414.0 162.6L415.0 160.6L416.0 159.0L417.0 157.7L418.0 156.7L419.0 156.0L420.0 155.8L421.0 155.8L422.0 156.3L423.0 157.1L424.0 158.2L425.0 159.7L426.0 161.4L427.0 163.5L428.0 165.8L429.0 168.4L430.0 171.1L431.0 174.0L432.0 177.1L433.0 180.3L434.0 183.5L435.0 186.8L436.0 190.0L437.0 193.3L438.0 196.5L439.0 199.6L440.0 202.7L441.0 205.6L442.0 208.4L443.0 211.1L444.0 213.6L445.0 215.9L446.0 218.1L447.0 220.2L448.0 222.1L449.0 223.8L450.0 225.3L451.0 226.8L452.0 228.0L453.0 229.2L454.0 230.2L455.0 231.1L456.0 231.9L457.0 232.6L458.0 233.2L459.0 233.8L460.0 234.2L461.0 234.6L462.0 234.9L463.0 235.2L464.0 235.5L465.0 235.7L466.0 235.8L467.0 236.0L468.0 236.1L469.0 236.2L470.0 236.3L471.0 236.3L472.0 236.4L473.0 236.4L474.0 236.5L475.0 236.5L476.0 236.5L477.0 236.5L478.0 236.6L479.0 236.6L480.0 236.6L481.0 236.6L482.0 236.6L483.0 236.6L484.0 236.6L485.0 236.6L486.0 236.6L487.0 236.6L488.0 236.6L489.0 236.6L490.0 236.6L491.0 236.6L492.0 236.6L493.0 236.6L494.0 236.6L495.0 236.6L496.0 236.6L497.0 236.6L498.0 236.6L499.0 236.6L500.0 236.6L501.0 236.6L502.0 236.6L503.0 236.6L504.0 236.6L505.0 236.6L506.0 236.6L507.0 236.6L508.0 236.6L509.0 236.6L510.0 236.6L511.0 236.6L512.0 236.6L513.0 236.6L514.0 236.6L515.0 236.6L516.0 236.6L517.0 236.6L518.0 236.6L519.0 236.6L520.0 236.6L521.0 236.6L522.0 236.6L523.0 236.6L524.0 236.6L525.0 236.6L526.0 236.6L527.0 236.6L528.0 236.6L529.0 236.6L530.0 236.6L531.0 236.6L532.0 236.6L533.0 236.6L534.0 236.6L535.0 236.6L536.0 236.6L537.0 236.6L538.0 236.6L539.0 236.6L540.0 236.6L541.0 236.6L542.0 236.6L543.0 236.6L544.0 236.6L545.0 236.6L546.0 236.6L547.0 236.6L548.0 236.6L549.0 236.6L550.0 236.6L551.0 236.6L552.0 236.6L553.0 236.6L554.0 236.6L555.0 236.6L556.0 236.6L557.0 236.6L558.0 236.6L559.0 236.6L560.0 236.6L561.0 236.6L562.0 236.6L563.0 236.6L564.0 236.6L565.0 236.6L566.0 236.6L567.0 236.6L568.0 236.6L569.0 236.6L570.0 236.6L571.0 236.6L572.0 236.6L573.0 236.6L574.0 236.6L575.0 236.6L576.0 236.6L577.0 236.6L578.0 236.6L579.0 236.6L580.0 236.6L581.0 236.6L582.0 236.6L583.0 236.6L584.0 236.6L585.0 236.6L586.0 236.6L587.0 236.6L588.0 236.6L589.0 236.6L590.0 236.6L591.0 236.6L592.0 236.6L593.0 236.6L594.0 236.6L595.0 236.6L596.0 236.6L597.0 236.6L598.0 236.6L599.0 236.6L600.0 236.6L601.0 236.6L602.0 236.6L603.0 236.6L604.0 236.6L605.0 236.6L606.0 236.6L607.0 236.6L608.0 236.6L609.0 236.6L610.0 236.6L611.0 236.6L612.0 236.6L613.0 236.6L614.0 236.6L615.0 236.6L616.0 236.6L617.0 236.6L618.0 236.6L619.0 236.6L620.0 236.6L621.0 236.6L622.0 236.6L623.0 236.6L624.0 236.6L625.0 236.6L626.0 236.6L627.0 236.6L628.0 236.6L629.0 236.6L630.0 236.6L631.0 236.6L632.0 236.6L633.0 236.6L634.0 236.6L635.0 236.6L636.0 236.6L637.0 236.6L638.0 236.6L639.0 236.6L640.0 236.6L641.0 236.6L642.0 236.6L643.0 236.6L644.0 236.6L645.0 236.6L646.0 236.6L647.0 236.6L648.0 236.6L649.0 236.6L650.0 236.6L651.0 236.6L652.0 236.6L653.0 236.6L654.0 236.6L655.0 236.6L656.0 236.6L657.0 236.6L658.0 236.6L659.0 236.6L660.0 236.6L661.0 236.6L662.0 236.6L663.0 236.6L664.0 236.6L665.0 236.6L666.0 236.6L667.0 236.6L668.0 236.6L669.0 236.6L670.0 236.6L671.0 236.6L672.0 236.6L673.0 236.6L674.0 236.6L675.0 236.6L676.0 236.6L677.0 236.6L678.0 236.6L679.0 236.6L680.0 236.6L681.0 236.6L682.0 236.6L683.0 236.6L684.0 236.6L685.0 236.6L686.0 236.6L687.0 236.6L688.0 236.6L689.0 236.6L690.0 236.6L691.0 236.6L692.0 236.6L693.0 236.6L694.0 236.6L695.0 236.6L696.0 236.6" fill="none" stroke="#1010ff" stroke-width="1.8"/>
<path d="M387.0 236.6L388.0 236.6L389.0 236.5L390.0 236.5L391.0 236.5L392.0 236.5L393.0 236.4L394.0 236.4L395.0 236.4L396.0 236.3L397.0 236.2L398.0 236.1L399.0 236.0L400.0 235.8L401.0 235.6L402.0 235.4L403.0 235.2L404.0 234.8L405.0 234.5L406.0 234.0L407.0 233.5L408.0 232.9L409.0 232.2L410.0 231.4L411.0 230.5L412.0 229.4L413.0 228.2L414.0 226.9L415.0 225.4L416.0 223.7L417.0 221.9L418.0 219.9L419.0 217.7L420.0 215.3L421.0 212.8L422.0 210.1L423.0 207.2L424.0 204.2L425.0 201.0L426.0 197.7L427.0 194.4L428.0 191.0L429.0 187.5L430.0 184.1L431.0 180.7L432.0 177.4L433.0 174.2L434.0 171.1L435.0 168.3L436.0 165.7L437.0 163.3L438.0 161.3L439.0 159.5L440.0 158.2L441.0 157.2L442.0 156.6L443.0 156.4L444.0 156.6L445.0 157.2L446.0 158.2L447.0 159.6L448.0 161.3L449.0 163.4L450.0 165.7L451.0 168.4L452.0 171.2L453.0 174.3L454.0 177.5L455.0 180.8L456.0 184.2L457.0 187.6L458.0 191.1L459.0 194.5L460.0 197.8L461.0 201.1L462.0 204.2L463.0 207.3L464.0 210.1L465.0 212.8L466.0 215.4L467.0 217.7L468.0 219.9L469.0 221.9L470.0 223.8L471.0 225.4L472.0 226.9L473.0 228.2L474.0 229.4L475.0 230.5L476.0 231.4L477.0 232.2L478.0 232.9L479.0 233.5L480.0 234.0L481.0 234.5L482.0 234.8L483.0 235.2L484.0 235.4L485.0 235.6L486.0 235.8L487.0 236.0L488.0 236.1L489.0 236.2L490.0 236.3L491.0 236.4L492.0 236.4L493.0 236.4L494.0 236.5L495.0 236.5L496.0 236.5L497.0 236.5L498.0 236.6L499.0 236.6L500.0 236.6L501.0 236.6L502.0 236.6L503.0 236.6L504.0 236.6L505.0 236.6L506.0 236.6L507.0 236.6L508.0 236.6L509.0 236.6L510.0 236.6L511.0 236.6L512.0 236.6L513.0 236.6L514.0 236.6L515.0 236.6L516.0 236.6L517.0 236.6L518.0 236.6L519.0 236.6L520.0 236.6L521.0 236.6L522.0 236.6L523.0 236.6L524.0 236.6L525.0 236.6L526.0 236.6L527.0 236.6L528.0 236.6L529.0 236.6L530.0 236.6L531.0 236.6L532.0 236.6L533.0 236.6L534.0 236.6L535.0 236.6L536.0 236.6L537.0 236.6L538.0 236.6L539.0 236.6L540.0 236.6L541.0 236.6L542.0 236.6L543.0 236.6L544.0 236.6L545.0 236.6L546.0 236.6L547.0 236.6L548.0 236.6L549.0 236.6L550.0 236.6L551.0 236.6L552.0 236.6L553.0 236.6L554.0 236.6L555.0 236.6L556.0 236.6L557.0 236.6L558.0 236.6L559.0 236.6L560.0 236.6L561.0 236.6L562.0 236.6L563.0 236.6L564.0 236.6L565.0 236.6L566.0 236.6L567.0 236.6L568.0 236.6L569.0 236.6L570.0 236.6L571.0 236.6L572.0 236.6L573.0 236.6L574.0 236.6L575.0 236.6L576.0 236.6L577.0 236.6L578.0 236.6L579.0 236.6L580.0 236.6L581.0 236.6L582.0 236.6L583.0 236.6L584.0 236.6L585.0 236.6L586.0 236.6L587.0 236.6L588.0 236.6L589.0 236.6L590.0 236.6L591.0 236.6L592.0 236.6L593.0 236.6L594.0 236.6L595.0 236.6L596.0 236.6L597.0 236.6L598.0 236.6L599.0 236.6L600.0 236.6L601.0 236.6L602.0 236.6L603.0 236.6L604.0 236.6L605.0 236.6L606.0 236.6L607.0 236.6L608.0 236.6L609.0 236.6L610.0 236.6L611.0 236.6L612.0 236.6L613.0 236.6L614.0 236.6L615.0 236.6L616.0 236.6L617.0 236.6L618.0 236.6L619.0 236.6L620.0 236.6L621.0 236.6L622.0 236.6L623.0 236.6L624.0 236.6L625.0 236.6L626.0 236.6L627.0 236.6L628.0 236.6L629.0 236.6L630.0 236.6L631.0 236.6L632.0 236.6L633.0 236.6L634.0 236.6L635.0 236.6L636.0 236.6L637.0 236.6L638.0 236.6L639.0 236.6L640.0 236.6L641.0 236.6L642.0 236.6L643.0 236.6L644.0 236.6L645.0 236.6L646.0 236.6L647.0 236.6L648.0 236.6L649.0 236.6L650.0 236.6L651.0 236.6L652.0 236.6L653.0 236.6L654.0 236.6L655.0 236.6L656.0 236.6L657.0 236.6L658.0 236.6L659.0 236.6L660.0 236.6L661.0 236.6L662.0 236.6L663.0 236.6L664.0 236.6L665.0 236.6L666.0 236.6L667.0 236.6L668.0 236.6L669.0 236.6L670.0 236.6L671.0 236.6L672.0 236.6L673.0 236.6L674.0 236.6L675.0 236.6L676.0 236.6L677.0 236.6L678.0 236.6L679.0 236.6L680.0 236.6L681.0 236.6L682.0 236.6L683.0 236.6L684.0 236.6L685.0 236.6L686.0 236.6L687.0 236.6L688.0 236.6L689.0 236.6L690.0 236.6L691.0 236.6L692.0 236.6L693.0 236.6L694.0 236.6L695.0 236.6L696.0 236.6" fill="none" stroke="#a8601e" stroke-width="1.8"/>
<path d="M387.0 236.6L388.0 236.6L389.0 236.6L390.0 236.6L391.0 236.6L392.0 236.6L393.0 236.6L394.0 236.6L395.0 236.6L396.0 236.6L397.0 236.6L398.0 236.6L399.0 236.6L400.0 236.6L401.0 236.6L402.0 236.6L403.0 236.6L404.0 236.6L405.0 236.6L406.0 236.6L407.0 236.6L408.0 236.5L409.0 236.5L410.0 236.5L411.0 236.5L412.0 236.5L413.0 236.4L414.0 236.4L415.0 236.3L416.0 236.2L417.0 236.1L418.0 236.0L419.0 235.9L420.0 235.7L421.0 235.5L422.0 235.3L423.0 235.0L424.0 234.7L425.0 234.3L426.0 233.8L427.0 233.3L428.0 232.7L429.0 232.0L430.0 231.2L431.0 230.2L432.0 229.2L433.0 228.0L434.0 226.7L435.0 225.2L436.0 223.6L437.0 221.8L438.0 219.8L439.0 217.7L440.0 215.4L441.0 212.9L442.0 210.3L443.0 207.6L444.0 204.7L445.0 201.6L446.0 198.5L447.0 195.3L448.0 192.1L449.0 188.8L450.0 185.5L451.0 182.2L452.0 179.0L453.0 176.0L454.0 173.0L455.0 170.3L456.0 167.7L457.0 165.4L458.0 163.4L459.0 161.7L460.0 160.3L461.0 159.2L462.0 158.5L463.0 158.2L464.0 158.2L465.0 158.7L466.0 159.5L467.0 160.6L468.0 162.1L469.0 163.9L470.0 166.0L471.0 168.4L472.0 171.0L473.0 173.8L474.0 176.8L475.0 179.9L476.0 183.1L477.0 186.3L478.0 189.6L479.0 192.9L480.0 196.2L481.0 199.4L482.0 202.5L483.0 205.4L484.0 208.3L485.0 211.0L486.0 213.6L487.0 216.0L488.0 218.3L489.0 220.3L490.0 222.3L491.0 224.0L492.0 225.6L493.0 227.0L494.0 228.3L495.0 229.5L496.0 230.5L497.0 231.4L498.0 232.2L499.0 232.9L500.0 233.4L501.0 234.0L502.0 234.4L503.0 234.8L504.0 235.1L505.0 235.4L506.0 235.6L507.0 235.8L508.0 235.9L509.0 236.1L510.0 236.2L511.0 236.3L512.0 236.3L513.0 236.4L514.0 236.4L515.0 236.5L516.0 236.5L517.0 236.5L518.0 236.5L519.0 236.6L520.0 236.6L521.0 236.6L522.0 236.6L523.0 236.6L524.0 236.6L525.0 236.6L526.0 236.6L527.0 236.6L528.0 236.6L529.0 236.6L530.0 236.6L531.0 236.6L532.0 236.6L533.0 236.6L534.0 236.6L535.0 236.6L536.0 236.6L537.0 236.6L538.0 236.6L539.0 236.6L540.0 236.6L541.0 236.6L542.0 236.6L543.0 236.6L544.0 236.6L545.0 236.6L546.0 236.6L547.0 236.6L548.0 236.6L549.0 236.6L550.0 236.6L551.0 236.6L552.0 236.6L553.0 236.6L554.0 236.6L555.0 236.6L556.0 236.6L557.0 236.6L558.0 236.6L559.0 236.6L560.0 236.6L561.0 236.6L562.0 236.6L563.0 236.6L564.0 236.6L565.0 236.6L566.0 236.6L567.0 236.6L568.0 236.6L569.0 236.6L570.0 236.6L571.0 236.6L572.0 236.6L573.0 236.6L574.0 236.6L575.0 236.6L576.0 236.6L577.0 236.6L578.0 236.6L579.0 236.6L580.0 236.6L581.0 236.6L582.0 236.6L583.0 236.6L584.0 236.6L585.0 236.6L586.0 236.6L587.0 236.6L588.0 236.6L589.0 236.6L590.0 236.6L591.0 236.6L592.0 236.6L593.0 236.6L594.0 236.6L595.0 236.6L596.0 236.6L597.0 236.6L598.0 236.6L599.0 236.6L600.0 236.6L601.0 236.6L602.0 236.6L603.0 236.6L604.0 236.6L605.0 236.6L606.0 236.6L607.0 236.6L608.0 236.6L609.0 236.6L610.0 236.6L611.0 236.6L612.0 236.6L613.0 236.6L614.0 236.6L615.0 236.6L616.0 236.6L617.0 236.6L618.0 236.6L619.0 236.6L620.0 236.6L621.0 236.6L622.0 236.6L623.0 236.6L624.0 236.6L625.0 236.6L626.0 236.6L627.0 236.6L628.0 236.6L629.0 236.6L630.0 236.6L631.0 236.6L632.0 236.6L633.0 236.6L634.0 236.6L635.0 236.6L636.0 236.6L637.0 236.6L638.0 236.6L639.0 236.6L640.0 236.6L641.0 236.6L642.0 236.6L643.0 236.6L644.0 236.6L645.0 236.6L646.0 236.6L647.0 236.6L648.0 236.6L649.0 236.6L650.0 236.6L651.0 236.6L652.0 236.6L653.0 236.6L654.0 236.6L655.0 236.6L656.0 236.6L657.0 236.6L658.0 236.6L659.0 236.6L660.0 236.6L661.0 236.6L662.0 236.6L663.0 236.6L664.0 236.6L665.0 236.6L666.0 236.6L667.0 236.6L668.0 236.6L669.0 236.6L670.0 236.6L671.0 236.6L672.0 236.6L673.0 236.6L674.0 236.6L675.0 236.6L676.0 236.6L677.0 236.6L678.0 236.6L679.0 236.6L680.0 236.6L681.0 236.6L682.0 236.6L683.0 236.6L684.0 236.6L685.0 236.6L686.0 236.6L687.0 236.6L688.0 236.6L689.0 236.6L690.0 236.6L691.0 236.6L692.0 236.6L693.0 236.6L694.0 236.6L695.0 236.6L696.0 236.6" fill="none" stroke="#4a6040" stroke-width="1.8"/>
<path d="M387.0 236.6L388.0 236.6L389.0 236.6L390.0 236.6L391.0 236.6L392.0 236.6L393.0 236.6L394.0 236.6L395.0 236.6L396.0 236.6L397.0 236.6L398.0 236.6L399.0 236.6L400.0 236.6L401.0 236.6L402.0 236.6L403.0 236.6L404.0 236.6L405.0 236.6L406.0 236.6L407.0 236.6L408.0 236.6L409.0 236.6L410.0 236.6L411.0 236.6L412.0 236.6L413.0 236.6L414.0 236.6L415.0 236.6L416.0 236.6L417.0 236.6L418.0 236.6L419.0 236.6L420.0 236.6L421.0 236.6L422.0 236.6L423.0 236.6L424.0 236.6L425.0 236.5L426.0 236.5L427.0 236.5L428.0 236.5L429.0 236.4L430.0 236.4L431.0 236.4L432.0 236.3L433.0 236.2L434.0 236.1L435.0 236.0L436.0 235.9L437.0 235.8L438.0 235.6L439.0 235.4L440.0 235.1L441.0 234.8L442.0 234.5L443.0 234.1L444.0 233.6L445.0 233.1L446.0 232.5L447.0 231.8L448.0 231.0L449.0 230.1L450.0 229.1L451.0 228.0L452.0 226.8L453.0 225.4L454.0 223.9L455.0 222.3L456.0 220.5L457.0 218.6L458.0 216.6L459.0 214.4L460.0 212.1L461.0 209.6L462.0 207.1L463.0 204.4L464.0 201.6L465.0 198.8L466.0 195.9L467.0 192.9L468.0 190.0L469.0 187.1L470.0 184.2L471.0 181.4L472.0 178.6L473.0 176.0L474.0 173.6L475.0 171.3L476.0 169.3L477.0 167.5L478.0 165.9L479.0 164.6L480.0 163.6L481.0 162.9L482.0 162.5L483.0 162.5L484.0 162.7L485.0 163.3L486.0 164.2L487.0 165.3L488.0 166.8L489.0 168.5L490.0 170.4L491.0 172.6L492.0 175.0L493.0 177.5L494.0 180.2L495.0 182.9L496.0 185.8L497.0 188.7L498.0 191.7L499.0 194.6L500.0 197.5L501.0 200.4L502.0 203.2L503.0 205.9L504.0 208.5L505.0 211.0L506.0 213.4L507.0 215.6L508.0 217.8L509.0 219.7L510.0 221.6L511.0 223.2L512.0 224.8L513.0 226.2L514.0 227.5L515.0 228.7L516.0 229.7L517.0 230.6L518.0 231.5L519.0 232.2L520.0 232.8L521.0 233.4L522.0 233.9L523.0 234.3L524.0 234.7L525.0 235.0L526.0 235.3L527.0 235.5L528.0 235.7L529.0 235.8L530.0 236.0L531.0 236.1L532.0 236.2L533.0 236.3L534.0 236.3L535.0 236.4L536.0 236.4L537.0 236.5L538.0 236.5L539.0 236.5L540.0 236.5L541.0 236.5L542.0 236.6L543.0 236.6L544.0 236.6L545.0 236.6L546.0 236.6L547.0 236.6L548.0 236.6L549.0 236.6L550.0 236.6L551.0 236.6L552.0 236.6L553.0 236.6L554.0 236.6L555.0 236.6L556.0 236.6L557.0 236.6L558.0 236.6L559.0 236.6L560.0 236.6L561.0 236.6L562.0 236.6L563.0 236.6L564.0 236.6L565.0 236.6L566.0 236.6L567.0 236.6L568.0 236.6L569.0 236.6L570.0 236.6L571.0 236.6L572.0 236.6L573.0 236.6L574.0 236.6L575.0 236.6L576.0 236.6L577.0 236.6L578.0 236.6L579.0 236.6L580.0 236.6L581.0 236.6L582.0 236.6L583.0 236.6L584.0 236.6L585.0 236.6L586.0 236.6L587.0 236.6L588.0 236.6L589.0 236.6L590.0 236.6L591.0 236.6L592.0 236.6L593.0 236.6L594.0 236.6L595.0 236.6L596.0 236.6L597.0 236.6L598.0 236.6L599.0 236.6L600.0 236.6L601.0 236.6L602.0 236.6L603.0 236.6L604.0 236.6L605.0 236.6L606.0 236.6L607.0 236.6L608.0 236.6L609.0 236.6L610.0 236.6L611.0 236.6L612.0 236.6L613.0 236.6L614.0 236.6L615.0 236.6L616.0 236.6L617.0 236.6L618.0 236.6L619.0 236.6L620.0 236.6L621.0 236.6L622.0 236.6L623.0 236.6L624.0 236.6L625.0 236.6L626.0 236.6L627.0 236.6L628.0 236.6L629.0 236.6L630.0 236.6L631.0 236.6L632.0 236.6L633.0 236.6L634.0 236.6L635.0 236.6L636.0 236.6L637.0 236.6L638.0 236.6L639.0 236.6L640.0 236.6L641.0 236.6L642.0 236.6L643.0 236.6L644.0 236.6L645.0 236.6L646.0 236.6L647.0 236.6L648.0 236.6L649.0 236.6L650.0 236.6L651.0 236.6L652.0 236.6L653.0 236.6L654.0 236.6L655.0 236.6L656.0 236.6L657.0 236.6L658.0 236.6L659.0 236.6L660.0 236.6L661.0 236.6L662.0 236.6L663.0 236.6L664.0 236.6L665.0 236.6L666.0 236.6L667.0 236.6L668.0 236.6L669.0 236.6L670.0 236.6L671.0 236.6L672.0 236.6L673.0 236.6L674.0 236.6L675.0 236.6L676.0 236.6L677.0 236.6L678.0 236.6L679.0 236.6L680.0 236.6L681.0 236.6L682.0 236.6L683.0 236.6L684.0 236.6L685.0 236.6L686.0 236.6L687.0 236.6L688.0 236.6L689.0 236.6L690.0 236.6L691.0 236.6L692.0 236.6L693.0 236.6L694.0 236.6L695.0 236.6L696.0 236.6" fill="none" stroke="#e020f0" stroke-width="1.8"/>
<path d="M387.0 236.6L388.0 236.6L389.0 236.6L390.0 236.6L391.0 236.6L392.0 236.6L393.0 236.6L394.0 236.6L395.0 236.6L396.0 236.6L397.0 236.6L398.0 236.6L399.0 236.6L400.0 236.6L401.0 236.6L402.0 236.6L403.0 236.6L404.0 236.6L405.0 236.6L406.0 236.6L407.0 236.6L408.0 236.6L409.0 236.6L410.0 236.6L411.0 236.6L412.0 236.6L413.0 236.6L414.0 236.6L415.0 236.6L416.0 236.6L417.0 236.6L418.0 236.6L419.0 236.6L420.0 236.6L421.0 236.6L422.0 236.6L423.0 236.6L424.0 236.6L425.0 236.6L426.0 236.6L427.0 236.6L428.0 236.6L429.0 236.6L430.0 236.6L431.0 236.6L432.0 236.6L433.0 236.6L434.0 236.6L435.0 236.6L436.0 236.6L437.0 236.6L438.0 236.6L439.0 236.6L440.0 236.6L441.0 236.6L442.0 236.6L443.0 236.6L444.0 236.6L445.0 236.6L446.0 236.6L447.0 236.6L448.0 236.6L449.0 236.5L450.0 236.5L451.0 236.5L452.0 236.5L453.0 236.5L454.0 236.4L455.0 236.4L456.0 236.3L457.0 236.3L458.0 236.2L459.0 236.1L460.0 236.0L461.0 235.8L462.0 235.7L463.0 235.5L464.0 235.2L465.0 235.0L466.0 234.6L467.0 234.3L468.0 233.9L469.0 233.4L470.0 232.8L471.0 232.2L472.0 231.4L473.0 230.6L474.0 229.7L475.0 228.7L476.0 227.5L477.0 226.2L478.0 224.8L479.0 223.3L480.0 221.6L481.0 219.8L482.0 217.9L483.0 215.8L484.0 213.6L485.0 211.3L486.0 208.8L487.0 206.3L488.0 203.6L489.0 200.8L490.0 198.0L491.0 195.2L492.0 192.3L493.0 189.4L494.0 186.5L495.0 183.7L496.0 181.0L497.0 178.3L498.0 175.8L499.0 173.5L500.0 171.3L501.0 169.4L502.0 167.6L503.0 166.2L504.0 165.0L505.0 164.1L506.0 163.5L507.0 163.2L508.0 163.2L509.0 163.5L510.0 164.1L511.0 165.0L512.0 166.2L513.0 167.7L514.0 169.4L515.0 171.4L516.0 173.5L517.0 175.9L518.0 178.4L519.0 181.0L520.0 183.8L521.0 186.6L522.0 189.5L523.0 192.4L524.0 195.2L525.0 198.1L526.0 200.9L527.0 203.7L528.0 206.3L529.0 208.9L530.0 211.4L531.0 213.7L532.0 215.9L533.0 218.0L534.0 219.9L535.0 221.7L536.0 223.4L537.0 224.9L538.0 226.3L539.0 227.5L540.0 228.7L541.0 229.7L542.0 230.6L543.0 231.5L544.0 232.2L545.0 232.8L546.0 233.4L547.0 233.9L548.0 234.3L549.0 234.7L550.0 235.0L551.0 235.2L552.0 235.5L553.0 235.7L554.0 235.8L555.0 236.0L556.0 236.1L557.0 236.2L558.0 236.3L559.0 236.3L560.0 236.4L561.0 236.4L562.0 236.5L563.0 236.5L564.0 236.5L565.0 236.5L566.0 236.5L567.0 236.6L568.0 236.6L569.0 236.6L570.0 236.6L571.0 236.6L572.0 236.6L573.0 236.6L574.0 236.6L575.0 236.6L576.0 236.6L577.0 236.6L578.0 236.6L579.0 236.6L580.0 236.6L581.0 236.6L582.0 236.6L583.0 236.6L584.0 236.6L585.0 236.6L586.0 236.6L587.0 236.6L588.0 236.6L589.0 236.6L590.0 236.6L591.0 236.6L592.0 236.6L593.0 236.6L594.0 236.6L595.0 236.6L596.0 236.6L597.0 236.6L598.0 236.6L599.0 236.6L600.0 236.6L601.0 236.6L602.0 236.6L603.0 236.6L604.0 236.6L605.0 236.6L606.0 236.6L607.0 236.6L608.0 236.6L609.0 236.6L610.0 236.6L611.0 236.6L612.0 236.6L613.0 236.6L614.0 236.6L615.0 236.6L616.0 236.6L617.0 236.6L618.0 236.6L619.0 236.6L620.0 236.6L621.0 236.6L622.0 236.6L623.0 236.6L624.0 236.6L625.0 236.6L626.0 236.6L627.0 236.6L628.0 236.6L629.0 236.6L630.0 236.6L631.0 236.6L632.0 236.6L633.0 236.6L634.0 236.6L635.0 236.6L636.0 236.6L637.0 236.6L638.0 236.6L639.0 236.6L640.0 236.6L641.0 236.6L642.0 236.6L643.0 236.6L644.0 236.6L645.0 236.6L646.0 236.6L647.0 236.6L648.0 236.6L649.0 236.6L650.0 236.6L651.0 236.6L652.0 236.6L653.0 236.6L654.0 236.6L655.0 236.6L656.0 236.6L657.0 236.6L658.0 236.6L659.0 236.6L660.0 236.6L661.0 236.6L662.0 236.6L663.0 236.6L664.0 236.6L665.0 236.6L666.0 236.6L667.0 236.6L668.0 236.6L669.0 236.6L670.0 236.6L671.0 236.6L672.0 236.6L673.0 236.6L674.0 236.6L675.0 236.6L676.0 236.6L677.0 236.6L678.0 236.6L679.0 236.6L680.0 236.6L681.0 236.6L682.0 236.6L683.0 236.6L684.0 236.6L685.0 236.6L686.0 236.6L687.0 236.6L688.0 236.6L689.0 236.6L690.0 236.6L691.0 236.6L692.0 236.6L693.0 236.6L694.0 236.6L695.0 236.6L696.0 236.6" fill="none" stroke="#ffff10" stroke-width="1.8"/>
<path d="M387.0 236.6L388.0 236.6L389.0 236.6L390.0 236.6L391.0 236.6L392.0 236.6L393.0 236.6L394.0 236.6L395.0 236.6L396.0 236.6L397.0 236.6L398.0 236.6L399.0 236.6L400.0 236.6L401.0 236.6L402.0 236.6L403.0 236.6L404.0 236.6L405.0 236.6L406.0 236.6L407.0 236.6L408.0 236.6L409.0 236.6L410.0 236.6L411.0 236.6L412.0 236.6L413.0 236.6L414.0 236.6L415.0 236.6L416.0 236.6L417.0 236.6L418.0 236.6L419.0 236.6L420.0 236.6L421.0 236.6L422.0 236.6L423.0 236.6L424.0 236.6L425.0 236.6L426.0 236.6L427.0 236.6L428.0 236.6L429.0 236.6L430.0 236.6L431.0 236.6L432.0 236.6L433.0 236.6L434.0 236.6L435.0 236.6L436.0 236.6L437.0 236.6L438.0 236.6L439.0 236.6L440.0 236.6L441.0 236.6L442.0 236.6L443.0 236.6L444.0 236.6L445.0 236.6L446.0 236.6L447.0 236.6L448.0 236.6L449.0 236.6L450.0 236.6L451.0 236.6L452.0 236.6L453.0 236.6L454.0 236.6L455.0 236.6L456.0 236.6L457.0 236.6L458.0 236.6L459.0 236.6L460.0 236.6L461.0 236.6L462.0 236.6L463.0 236.6L464.0 236.6L465.0 236.6L466.0 236.6L467.0 236.6L468.0 236.6L469.0 236.6L470.0 236.6L471.0 236.6L472.0 236.6L473.0 236.6L474.0 236.6L475.0 236.5L476.0 236.5L477.0 236.5L478.0 236.5L479.0 236.5L480.0 236.4L481.0 236.4L482.0 236.3L483.0 236.2L484.0 236.1L485.0 236.0L486.0 235.9L487.0 235.7L488.0 235.5L489.0 235.3L490.0 235.0L491.0 234.7L492.0 234.3L493.0 233.8L494.0 233.3L495.0 232.7L496.0 232.0L497.0 231.2L498.0 230.3L499.0 229.3L500.0 228.1L501.0 226.8L502.0 225.4L503.0 223.8L504.0 222.0L505.0 220.1L506.0 218.1L507.0 215.8L508.0 213.4L509.0 210.9L510.0 208.2L511.0 205.4L512.0 202.5L513.0 199.4L514.0 196.3L515.0 193.1L516.0 189.9L517.0 186.7L518.0 183.5L519.0 180.4L520.0 177.3L521.0 174.4L522.0 171.7L523.0 169.1L524.0 166.8L525.0 164.7L526.0 163.0L527.0 161.5L528.0 160.4L529.0 159.6L530.0 159.1L531.0 159.1L532.0 159.4L533.0 160.0L534.0 161.0L535.0 162.3L536.0 164.0L537.0 165.9L538.0 168.1L539.0 170.6L540.0 173.3L541.0 176.1L542.0 179.1L543.0 182.2L544.0 185.4L545.0 188.6L546.0 191.8L547.0 195.0L548.0 198.1L549.0 201.2L550.0 204.2L551.0 207.1L552.0 209.8L553.0 212.4L554.0 214.9L555.0 217.2L556.0 219.3L557.0 221.3L558.0 223.1L559.0 224.7L560.0 226.2L561.0 227.6L562.0 228.8L563.0 229.9L564.0 230.8L565.0 231.7L566.0 232.4L567.0 233.1L568.0 233.6L569.0 234.1L570.0 234.5L571.0 234.9L572.0 235.2L573.0 235.4L574.0 235.6L575.0 235.8L576.0 236.0L577.0 236.1L578.0 236.2L579.0 236.3L580.0 236.3L581.0 236.4L582.0 236.4L583.0 236.5L584.0 236.5L585.0 236.5L586.0 236.5L587.0 236.6L588.0 236.6L589.0 236.6L590.0 236.6L591.0 236.6L592.0 236.6L593.0 236.6L594.0 236.6L595.0 236.6L596.0 236.6L597.0 236.6L598.0 236.6L599.0 236.6L600.0 236.6L601.0 236.6L602.0 236.6L603.0 236.6L604.0 236.6L605.0 236.6L606.0 236.6L607.0 236.6L608.0 236.6L609.0 236.6L610.0 236.6L611.0 236.6L612.0 236.6L613.0 236.6L614.0 236.6L615.0 236.6L616.0 236.6L617.0 236.6L618.0 236.6L619.0 236.6L620.0 236.6L621.0 236.6L622.0 236.6L623.0 236.6L624.0 236.6L625.0 236.6L626.0 236.6L627.0 236.6L628.0 236.6L629.0 236.6L630.0 236.6L631.0 236.6L632.0 236.6L633.0 236.6L634.0 236.6L635.0 236.6L636.0 236.6L637.0 236.6L638.0 236.6L639.0 236.6L640.0 236.6L641.0 236.6L642.0 236.6L643.0 236.6L644.0 236.6L645.0 236.6L646.0 236.6L647.0 236.6L648.0 236.6L649.0 236.6L650.0 236.6L651.0 236.6L652.0 236.6L653.0 236.6L654.0 236.6L655.0 236.6L656.0 236.6L657.0 236.6L658.0 236.6L659.0 236.6L660.0 236.6L661.0 236.6L662.0 236.6L663.0 236.6L664.0 236.6L665.0 236.6L666.0 236.6L667.0 236.6L668.0 236.6L669.0 236.6L670.0 236.6L671.0 236.6L672.0 236.6L673.0 236.6L674.0 236.6L675.0 236.6L676.0 236.6L677.0 236.6L678.0 236.6L679.0 236.6L680.0 236.6L681.0 236.6L682.0 236.6L683.0 236.6L684.0 236.6L685.0 236.6L686.0 236.6L687.0 236.6L688.0 236.6L689.0 236.6L690.0 236.6L691.0 236.6L692.0 236.6L693.0 236.6L694.0 236.6L695.0 236.6L696.0 236.6" fill="none" stroke="#d8a878" stroke-width="1.8"/>
<path d="M387.0 236.6L388.0 236.6L389.0 236.6L390.0 236.6L391.0 236.6L392.0 236.6L393.0 236.6L394.0 236.6L395.0 236.6L396.0 236.6L397.0 236.6L398.0 236.6L399.0 236.6L400.0 236.6L401.0 236.6L402.0 236.6L403.0 236.6L404.0 236.6L405.0 236.6L406.0 236.6L407.0 236.6L408.0 236.6L409.0 236.6L410.0 236.6L411.0 236.6L412.0 236.6L413.0 236.6L414.0 236.6L415.0 236.6L416.0 236.6L417.0 236.6L418.0 236.6L419.0 236.6L420.0 236.6L421.0 236.6L422.0 236.6L423.0 236.6L424.0 236.6L425.0 236.6L426.0 236.6L427.0 236.6L428.0 236.6L429.0 236.6L430.0 236.6L431.0 236.6L432.0 236.6L433.0 236.6L434.0 236.6L435.0 236.6L436.0 236.6L437.0 236.6L438.0 236.6L439.0 236.6L440.0 236.6L441.0 236.6L442.0 236.6L443.0 236.6L444.0 236.6L445.0 236.6L446.0 236.6L447.0 236.6L448.0 236.6L449.0 236.6L450.0 236.6L451.0 236.6L452.0 236.6L453.0 236.6L454.0 236.6L455.0 236.6L456.0 236.6L457.0 236.6L458.0 236.6L459.0 236.6L460.0 236.6L461.0 236.6L462.0 236.6L463.0 236.6L464.0 236.6L465.0 236.6L466.0 236.6L467.0 236.6L468.0 236.6L469.0 236.6L470.0 236.6L471.0 236.6L472.0 236.6L473.0 236.6L474.0 236.6L475.0 236.6L476.0 236.6L477.0 236.6L478.0 236.6L479.0 236.6L480.0 236.6L481.0 236.6L482.0 236.6L483.0 236.6L484.0 236.6L485.0 236.6L486.0 236.6L487.0 236.6L488.0 236.6L489.0 236.6L490.0 236.6L491.0 236.6L492.0 236.6L493.0 236.6L494.0 236.6L495.0 236.6L496.0 236.6L497.0 236.6L498.0 236.6L499.0 236.6L500.0 236.6L501.0 236.5L502.0 236.5L503.0 236.5L504.0 236.5L505.0 236.4L506.0 236.4L507.0 236.3L508.0 236.2L509.0 236.1L510.0 236.0L511.0 235.8L512.0 235.6L513.0 235.3L514.0 235.0L515.0 234.7L516.0 234.2L517.0 233.7L518.0 233.0L519.0 232.3L520.0 231.4L521.0 230.4L522.0 229.2L523.0 227.9L524.0 226.4L525.0 224.7L526.0 222.8L527.0 220.6L528.0 218.3L529.0 215.7L530.0 212.9L531.0 209.9L532.0 206.7L533.0 203.3L534.0 199.7L535.0 195.9L536.0 192.1L537.0 188.1L538.0 184.2L539.0 180.2L540.0 176.2L541.0 172.4L542.0 168.7L543.0 165.2L544.0 162.0L545.0 159.1L546.0 156.5L547.0 154.3L548.0 152.6L549.0 151.3L550.0 150.5L551.0 150.3L552.0 150.5L553.0 151.2L554.0 152.4L555.0 154.0L556.0 156.1L557.0 158.6L558.0 161.5L559.0 164.6L560.0 168.1L561.0 171.7L562.0 175.5L563.0 179.5L564.0 183.4L565.0 187.4L566.0 191.4L567.0 195.3L568.0 199.0L569.0 202.7L570.0 206.1L571.0 209.4L572.0 212.4L573.0 215.3L574.0 217.9L575.0 220.3L576.0 222.4L577.0 224.4L578.0 226.1L579.0 227.7L580.0 229.0L581.0 230.2L582.0 231.3L583.0 232.1L584.0 232.9L585.0 233.6L586.0 234.1L587.0 234.6L588.0 235.0L589.0 235.3L590.0 235.5L591.0 235.8L592.0 235.9L593.0 236.1L594.0 236.2L595.0 236.3L596.0 236.4L597.0 236.4L598.0 236.5L599.0 236.5L600.0 236.5L601.0 236.5L602.0 236.6L603.0 236.6L604.0 236.6L605.0 236.6L606.0 236.6L607.0 236.6L608.0 236.6L609.0 236.6L610.0 236.6L611.0 236.6L612.0 236.6L613.0 236.6L614.0 236.6L615.0 236.6L616.0 236.6L617.0 236.6L618.0 236.6L619.0 236.6L620.0 236.6L621.0 236.6L622.0 236.6L623.0 236.6L624.0 236.6L625.0 236.6L626.0 236.6L627.0 236.6L628.0 236.6L629.0 236.6L630.0 236.6L631.0 236.6L632.0 236.6L633.0 236.6L634.0 236.6L635.0 236.6L636.0 236.6L637.0 236.6L638.0 236.6L639.0 236.6L640.0 236.6L641.0 236.6L642.0 236.6L643.0 236.6L644.0 236.6L645.0 236.6L646.0 236.6L647.0 236.6L648.0 236.6L649.0 236.6L650.0 236.6L651.0 236.6L652.0 236.6L653.0 236.6L654.0 236.6L655.0 236.6L656.0 236.6L657.0 236.6L658.0 236.6L659.0 236.6L660.0 236.6L661.0 236.6L662.0 236.6L663.0 236.6L664.0 236.6L665.0 236.6L666.0 236.6L667.0 236.6L668.0 236.6L669.0 236.6L670.0 236.6L671.0 236.6L672.0 236.6L673.0 236.6L674.0 236.6L675.0 236.6L676.0 236.6L677.0 236.6L678.0 236.6L679.0 236.6L680.0 236.6L681.0 236.6L682.0 236.6L683.0 236.6L684.0 236.6L685.0 236.6L686.0 236.6L687.0 236.6L688.0 236.6L689.0 236.6L690.0 236.6L691.0 236.6L692.0 236.6L693.0 236.6L694.0 236.6L695.0 236.6L696.0 236.6" fill="none" stroke="#a8a0a0" stroke-width="1.8"/>
<path d="M387.0 236.6L388.0 236.6L389.0 236.6L390.0 236.6L391.0 236.6L392.0 236.6L393.0 236.6L394.0 236.6L395.0 236.6L396.0 236.6L397.0 236.6L398.0 236.6L399.0 236.6L400.0 236.6L401.0 236.6L402.0 236.6L403.0 236.6L404.0 236.6L405.0 236.6L406.0 236.6L407.0 236.6L408.0 236.6L409.0 236.6L410.0 236.6L411.0 236.6L412.0 236.6L413.0 236.6L414.0 236.6L415.0 236.6L416.0 236.6L417.0 236.6L418.0 236.6L419.0 236.6L420.0 236.6L421.0 236.6L422.0 236.6L423.0 236.6L424.0 236.6L425.0 236.6L426.0 236.6L427.0 236.6L428.0 236.6L429.0 236.6L430.0 236.6L431.0 236.6L432.0 236.6L433.0 236.6L434.0 236.6L435.0 236.6L436.0 236.6L437.0 236.6L438.0 236.6L439.0 236.6L440.0 236.6L441.0 236.6L442.0 236.6L443.0 236.6L444.0 236.6L445.0 236.6L446.0 236.6L447.0 236.6L448.0 236.6L449.0 236.6L450.0 236.6L451.0 236.6L452.0 236.6L453.0 236.6L454.0 236.6L455.0 236.6L456.0 236.6L457.0 236.6L458.0 236.6L459.0 236.6L460.0 236.6L461.0 236.6L462.0 236.6L463.0 236.6L464.0 236.6L465.0 236.6L466.0 236.6L467.0 236.6L468.0 236.6L469.0 236.6L470.0 236.6L471.0 236.6L472.0 236.6L473.0 236.6L474.0 236.6L475.0 236.6L476.0 236.6L477.0 236.6L478.0 236.6L479.0 236.6L480.0 236.6L481.0 236.6L482.0 236.6L483.0 236.6L484.0 236.6L485.0 236.6L486.0 236.6L487.0 236.6L488.0 236.6L489.0 236.6L490.0 236.6L491.0 236.6L492.0 236.6L493.0 236.6L494.0 236.6L495.0 236.6L496.0 236.6L497.0 236.6L498.0 236.6L499.0 236.6L500.0 236.6L501.0 236.6L502.0 236.6L503.0 236.6L504.0 236.6L505.0 236.6L506.0 236.6L507.0 236.6L508.0 236.6L509.0 236.6L510.0 236.6L511.0 236.6L512.0 236.6L513.0 236.6L514.0 236.6L515.0 236.6L516.0 236.6L517.0 236.6L518.0 236.6L519.0 236.6L520.0 236.6L521.0 236.5L522.0 236.5L523.0 236.5L524.0 236.4L525.0 236.4L526.0 236.3L527.0 236.3L528.0 236.1L529.0 236.0L530.0 235.9L531.0 235.7L532.0 235.4L533.0 235.1L534.0 234.8L535.0 234.3L536.0 233.8L537.0 233.2L538.0 232.4L539.0 231.5L540.0 230.5L541.0 229.3L542.0 228.0L543.0 226.4L544.0 224.7L545.0 222.7L546.0 220.5L547.0 218.1L548.0 215.4L549.0 212.5L550.0 209.3L551.0 206.0L552.0 202.4L553.0 198.6L554.0 194.7L555.0 190.7L556.0 186.5L557.0 182.4L558.0 178.2L559.0 174.1L560.0 170.1L561.0 166.3L562.0 162.7L563.0 159.4L564.0 156.5L565.0 153.9L566.0 151.8L567.0 150.2L568.0 149.0L569.0 148.4L570.0 148.3L571.0 148.7L572.0 149.7L573.0 151.2L574.0 153.2L575.0 155.6L576.0 158.4L577.0 161.6L578.0 165.1L579.0 168.8L580.0 172.8L581.0 176.8L582.0 181.0L583.0 185.2L584.0 189.3L585.0 193.4L586.0 197.4L587.0 201.2L588.0 204.8L589.0 208.3L590.0 211.5L591.0 214.5L592.0 217.2L593.0 219.7L594.0 222.0L595.0 224.1L596.0 225.9L597.0 227.5L598.0 228.9L599.0 230.2L600.0 231.2L601.0 232.1L602.0 232.9L603.0 233.6L604.0 234.2L605.0 234.6L606.0 235.0L607.0 235.3L608.0 235.6L609.0 235.8L610.0 236.0L611.0 236.1L612.0 236.2L613.0 236.3L614.0 236.4L615.0 236.4L616.0 236.5L617.0 236.5L618.0 236.5L619.0 236.5L620.0 236.6L621.0 236.6L622.0 236.6L623.0 236.6L624.0 236.6L625.0 236.6L626.0 236.6L627.0 236.6L628.0 236.6L629.0 236.6L630.0 236.6L631.0 236.6L632.0 236.6L633.0 236.6L634.0 236.6L635.0 236.6L636.0 236.6L637.0 236.6L638.0 236.6L639.0 236.6L640.0 236.6L641.0 236.6L642.0 236.6L643.0 236.6L644.0 236.6L645.0 236.6L646.0 236.6L647.0 236.6L648.0 236.6L649.0 236.6L650.0 236.6L651.0 236.6L652.0 236.6L653.0 236.6L654.0 236.6L655.0 236.6L656.0 236.6L657.0 236.6L658.0 236.6L659.0 236.6L660.0 236.6L661.0 236.6L662.0 236.6L663.0 236.6L664.0 236.6L665.0 236.6L666.0 236.6L667.0 236.6L668.0 236.6L669.0 236.6L670.0 236.6L671.0 236.6L672.0 236.6L673.0 236.6L674.0 236.6L675.0 236.6L676.0 236.6L677.0 236.6L678.0 236.6L679.0 236.6L680.0 236.6L681.0 236.6L682.0 236.6L683.0 236.6L684.0 236.6L685.0 236.6L686.0 236.6L687.0 236.6L688.0 236.6L689.0 236.6L690.0 236.6L691.0 236.6L692.0 236.6L693.0 236.6L694.0 236.6L695.0 236.6L696.0 236.6" fill="none" stroke="#b050ff" stroke-width="1.8"/>
<path d="M387.0 236.6L388.0 236.6L389.0 236.6L390.0 236.6L391.0 236.6L392.0 236.6L393.0 236.6L394.0 236.6L395.0 236.6L396.0 236.6L397.0 236.6L398.0 236.6L399.0 236.6L400.0 236.6L401.0 236.6L402.0 236.6L403.0 236.6L404.0 236.6L405.0 236.6L406.0 236.6L407.0 236.6L408.0 236.6L409.0 236.6L410.0 236.6L411.0 236.6L412.0 236.6L413.0 236.6L414.0 236.6L415.0 236.6L416.0 236.6L417.0 236.6L418.0 236.6L419.0 236.6L420.0 236.6L421.0 236.6L422.0 236.6L423.0 236.6L424.0 236.6L425.0 236.6L426.0 236.6L427.0 236.6L428.0 236.6L429.0 236.6L430.0 236.6L431.0 236.6L432.0 236.6L433.0 236.6L434.0 236.6L435.0 236.6L436.0 236.6L437.0 236.6L438.0 236.6L439.0 236.6L440.0 236.6L441.0 236.6L442.0 236.6L443.0 236.6L444.0 236.6L445.0 236.6L446.0 236.6L447.0 236.6L448.0 236.6L449.0 236.6L450.0 236.6L451.0 236.6L452.0 236.6L453.0 236.6L454.0 236.6L455.0 236.6L456.0 236.6L457.0 236.6L458.0 236.6L459.0 236.6L460.0 236.6L461.0 236.6L462.0 236.6L463.0 236.6L464.0 236.6L465.0 236.6L466.0 236.6L467.0 236.6L468.0 236.6L469.0 236.6L470.0 236.6L471.0 236.6L472.0 236.6L473.0 236.6L474.0 236.6L475.0 236.6L476.0 236.6L477.0 236.6L478.0 236.6L479.0 236.6L480.0 236.6L481.0 236.6L482.0 236.6L483.0 236.6L484.0 236.6L485.0 236.6L486.0 236.6L487.0 236.6L488.0 236.6L489.0 236.6L490.0 236.6L491.0 236.6L492.0 236.6L493.0 236.6L494.0 236.6L495.0 236.6L496.0 236.6L497.0 236.6L498.0 236.6L499.0 236.6L500.0 236.6L501.0 236.6L502.0 236.6L503.0 236.6L504.0 236.6L505.0 236.6L506.0 236.6L507.0 236.6L508.0 236.6L509.0 236.6L510.0 236.6L511.0 236.6L512.0 236.6L513.0 236.6L514.0 236.6L515.0 236.6L516.0 236.6L517.0 236.6L518.0 236.6L519.0 236.6L520.0 236.6L521.0 236.6L522.0 236.6L523.0 236.6L524.0 236.6L525.0 236.6L526.0 236.6L527.0 236.6L528.0 236.6L529.0 236.6L530.0 236.6L531.0 236.6L532.0 236.6L533.0 236.6L534.0 236.6L535.0 236.6L536.0 236.6L537.0 236.5L538.0 236.5L539.0 236.5L540.0 236.5L541.0 236.4L542.0 236.4L543.0 236.3L544.0 236.2L545.0 236.1L546.0 236.0L547.0 235.9L548.0 235.7L549.0 235.4L550.0 235.1L551.0 234.8L552.0 234.4L553.0 233.9L554.0 233.3L555.0 232.6L556.0 231.8L557.0 230.8L558.0 229.7L559.0 228.4L560.0 227.0L561.0 225.4L562.0 223.5L563.0 221.5L564.0 219.2L565.0 216.7L566.0 214.0L567.0 211.1L568.0 207.9L569.0 204.6L570.0 201.1L571.0 197.4L572.0 193.6L573.0 189.6L574.0 185.7L575.0 181.7L576.0 177.7L577.0 173.8L578.0 170.1L579.0 166.5L580.0 163.2L581.0 160.1L582.0 157.4L583.0 155.1L584.0 153.2L585.0 151.8L586.0 150.8L587.0 150.3L588.0 150.3L589.0 150.8L590.0 151.8L591.0 153.3L592.0 155.3L593.0 157.6L594.0 160.3L595.0 163.4L596.0 166.7L597.0 170.3L598.0 174.1L599.0 178.0L600.0 181.9L601.0 185.9L602.0 189.9L603.0 193.8L604.0 197.6L605.0 201.3L606.0 204.8L607.0 208.2L608.0 211.3L609.0 214.2L610.0 216.9L611.0 219.4L612.0 221.6L613.0 223.7L614.0 225.5L615.0 227.1L616.0 228.5L617.0 229.8L618.0 230.9L619.0 231.8L620.0 232.6L621.0 233.3L622.0 233.9L623.0 234.4L624.0 234.8L625.0 235.2L626.0 235.5L627.0 235.7L628.0 235.9L629.0 236.0L630.0 236.2L631.0 236.3L632.0 236.3L633.0 236.4L634.0 236.4L635.0 236.5L636.0 236.5L637.0 236.5L638.0 236.5L639.0 236.6L640.0 236.6L641.0 236.6L642.0 236.6L643.0 236.6L644.0 236.6L645.0 236.6L646.0 236.6L647.0 236.6L648.0 236.6L649.0 236.6L650.0 236.6L651.0 236.6L652.0 236.6L653.0 236.6L654.0 236.6L655.0 236.6L656.0 236.6L657.0 236.6L658.0 236.6L659.0 236.6L660.0 236.6L661.0 236.6L662.0 236.6L663.0 236.6L664.0 236.6L665.0 236.6L666.0 236.6L667.0 236.6L668.0 236.6L669.0 236.6L670.0 236.6L671.0 236.6L672.0 236.6L673.0 236.6L674.0 236.6L675.0 236.6L676.0 236.6L677.0 236.6L678.0 236.6L679.0 236.6L680.0 236.6L681.0 236.6L682.0 236.6L683.0 236.6L684.0 236.6L685.0 236.6L686.0 236.6L687.0 236.6L688.0 236.6L689.0 236.6L690.0 236.6L691.0 236.6L692.0 236.6L693.0 236.6L694.0 236.6L695.0 236.6L696.0 236.6" fill="none" stroke="#208858" stroke-width="1.8"/>
<path d="M387.0 236.6L388.0 236.6L389.0 236.6L390.0 236.6L391.0 236.6L392.0 236.6L393.0 236.6L394.0 236.6L395.0 236.6L396.0 236.6L397.0 236.6L398.0 236.6L399.0 236.6L400.0 236.6L401.0 236.6L402.0 236.6L403.0 236.6L404.0 236.6L405.0 236.6L406.0 236.6L407.0 236.6L408.0 236.6L409.0 236.6L410.0 236.6L411.0 236.6L412.0 236.6L413.0 236.6L414.0 236.6L415.0 236.6L416.0 236.6L417.0 236.6L418.0 236.6L419.0 236.6L420.0 236.6L421.0 236.6L422.0 236.6L423.0 236.6L424.0 236.6L425.0 236.6L426.0 236.6L427.0 236.6L428.0 236.6L429.0 236.6L430.0 236.6L431.0 236.6L432.0 236.6L433.0 236.6L434.0 236.6L435.0 236.6L436.0 236.6L437.0 236.6L438.0 236.6L439.0 236.6L440.0 236.6L441.0 236.6L442.0 236.6L443.0 236.6L444.0 236.6L445.0 236.6L446.0 236.6L447.0 236.6L448.0 236.6L449.0 236.6L450.0 236.6L451.0 236.6L452.0 236.6L453.0 236.6L454.0 236.6L455.0 236.6L456.0 236.6L457.0 236.6L458.0 236.6L459.0 236.6L460.0 236.6L461.0 236.6L462.0 236.6L463.0 236.6L464.0 236.6L465.0 236.6L466.0 236.6L467.0 236.6L468.0 236.6L469.0 236.6L470.0 236.6L471.0 236.6L472.0 236.6L473.0 236.6L474.0 236.6L475.0 236.6L476.0 236.6L477.0 236.6L478.0 236.6L479.0 236.6L480.0 236.6L481.0 236.6L482.0 236.6L483.0 236.6L484.0 236.6L485.0 236.6L486.0 236.6L487.0 236.6L488.0 236.6L489.0 236.6L490.0 236.6L491.0 236.6L492.0 236.6L493.0 236.6L494.0 236.6L495.0 236.6L496.0 236.6L497.0 236.6L498.0 236.6L499.0 236.6L500.0 236.6L501.0 236.6L502.0 236.6L503.0 236.6L504.0 236.6L505.0 236.6L506.0 236.6L507.0 236.6L508.0 236.6L509.0 236.6L510.0 236.6L511.0 236.6L512.0 236.6L513.0 236.6L514.0 236.6L515.0 236.6L516.0 236.6L517.0 236.6L518.0 236.6L519.0 236.6L520.0 236.6L521.0 236.6L522.0 236.6L523.0 236.6L524.0 236.6L525.0 236.6L526.0 236.6L527.0 236.6L528.0 236.6L529.0 236.6L530.0 236.6L531.0 236.6L532.0 236.6L533.0 236.6L534.0 236.6L535.0 236.6L536.0 236.6L537.0 236.6L538.0 236.6L539.0 236.6L540.0 236.6L541.0 236.6L542.0 236.6L543.0 236.6L544.0 236.6L545.0 236.6L546.0 236.6L547.0 236.6L548.0 236.6L549.0 236.6L550.0 236.6L551.0 236.6L552.0 236.6L553.0 236.6L554.0 236.6L555.0 236.6L556.0 236.5L557.0 236.5L558.0 236.5L559.0 236.4L560.0 236.4L561.0 236.3L562.0 236.3L563.0 236.2L564.0 236.1L565.0 235.9L566.0 235.8L567.0 235.6L568.0 235.3L569.0 235.0L570.0 234.6L571.0 234.2L572.0 233.7L573.0 233.0L574.0 232.3L575.0 231.5L576.0 230.5L577.0 229.4L578.0 228.1L579.0 226.7L580.0 225.1L581.0 223.3L582.0 221.3L583.0 219.1L584.0 216.7L585.0 214.1L586.0 211.2L587.0 208.2L588.0 205.0L589.0 201.6L590.0 198.1L591.0 194.5L592.0 190.8L593.0 187.0L594.0 183.2L595.0 179.4L596.0 175.7L597.0 172.1L598.0 168.7L599.0 165.5L600.0 162.6L601.0 160.0L602.0 157.7L603.0 155.8L604.0 154.3L605.0 153.2L606.0 152.6L607.0 152.5L608.0 152.8L609.0 153.6L610.0 154.8L611.0 156.4L612.0 158.5L613.0 160.9L614.0 163.6L615.0 166.7L616.0 170.0L617.0 173.4L618.0 177.1L619.0 180.8L620.0 184.6L621.0 188.4L622.0 192.1L623.0 195.8L624.0 199.4L625.0 202.9L626.0 206.2L627.0 209.3L628.0 212.3L629.0 215.0L630.0 217.6L631.0 219.9L632.0 222.1L633.0 224.0L634.0 225.7L635.0 227.3L636.0 228.6L637.0 229.8L638.0 230.9L639.0 231.8L640.0 232.6L641.0 233.3L642.0 233.9L643.0 234.4L644.0 234.8L645.0 235.1L646.0 235.4L647.0 235.6L648.0 235.8L649.0 236.0L650.0 236.1L651.0 236.2L652.0 236.3L653.0 236.4L654.0 236.4L655.0 236.5L656.0 236.5L657.0 236.5L658.0 236.5L659.0 236.6L660.0 236.6L661.0 236.6L662.0 236.6L663.0 236.6L664.0 236.6L665.0 236.6L666.0 236.6L667.0 236.6L668.0 236.6L669.0 236.6L670.0 236.6L671.0 236.6L672.0 236.6L673.0 236.6L674.0 236.6L675.0 236.6L676.0 236.6L677.0 236.6L678.0 236.6L679.0 236.6L680.0 236.6L681.0 236.6L682.0 236.6L683.0 236.6L684.0 236.6L685.0 236.6L686.0 236.6L687.0 236.6L688.0 236.6L689.0 236.6L690.0 236.6L691.0 236.6L692.0 236.6L693.0 236.6L694.0 236.6L695.0 236.6L696.0 236.6" fill="none" stroke="#880038" stroke-width="1.8"/>
<path d="M387.0 236.6L388.0 236.6L389.0 236.6L390.0 236.6L391.0 236.6L392.0 236.6L393.0 236.6L394.0 236.6L395.0 236.6L396.0 236.6L397.0 236.6L398.0 236.6L399.0 236.6L400.0 236.6L401.0 236.6L402.0 236.6L403.0 236.6L404.0 236.6L405.0 236.6L406.0 236.6L407.0 236.6L408.0 236.6L409.0 236.6L410.0 236.6L411.0 236.6L412.0 236.6L413.0 236.6L414.0 236.6L415.0 236.6L416.0 236.6L417.0 236.6L418.0 236.6L419.0 236.6L420.0 236.6L421.0 236.6L422.0 236.6L423.0 236.6L424.0 236.6L425.0 236.6L426.0 236.6L427.0 236.6L428.0 236.6L429.0 236.6L430.0 236.6L431.0 236.6L432.0 236.6L433.0 236.6L434.0 236.6L435.0 236.6L436.0 236.6L437.0 236.6L438.0 236.6L439.0 236.6L440.0 236.6L441.0 236.6L442.0 236.6L443.0 236.6L444.0 236.6L445.0 236.6L446.0 236.6L447.0 236.6L448.0 236.6L449.0 236.6L450.0 236.6L451.0 236.6L452.0 236.6L453.0 236.6L454.0 236.6L455.0 236.6L456.0 236.6L457.0 236.6L458.0 236.6L459.0 236.6L460.0 236.6L461.0 236.6L462.0 236.6L463.0 236.6L464.0 236.6L465.0 236.6L466.0 236.6L467.0 236.6L468.0 236.6L469.0 236.6L470.0 236.6L471.0 236.6L472.0 236.6L473.0 236.6L474.0 236.6L475.0 236.6L476.0 236.6L477.0 236.6L478.0 236.6L479.0 236.6L480.0 236.6L481.0 236.6L482.0 236.6L483.0 236.6L484.0 236.6L485.0 236.6L486.0 236.6L487.0 236.6L488.0 236.6L489.0 236.6L490.0 236.6L491.0 236.6L492.0 236.6L493.0 236.6L494.0 236.6L495.0 236.6L496.0 236.6L497.0 236.6L498.0 236.6L499.0 236.6L500.0 236.6L501.0 236.6L502.0 236.6L503.0 236.6L504.0 236.6L505.0 236.6L506.0 236.6L507.0 236.6L508.0 236.6L509.0 236.6L510.0 236.6L511.0 236.6L512.0 236.6L513.0 236.6L514.0 236.6L515.0 236.6L516.0 236.6L517.0 236.6L518.0 236.6L519.0 236.6L520.0 236.6L521.0 236.6L522.0 236.6L523.0 236.6L524.0 236.6L525.0 236.6L526.0 236.6L527.0 236.6L528.0 236.6L529.0 236.6L530.0 236.6L531.0 236.6L532.0 236.6L533.0 236.6L534.0 236.6L535.0 236.6L536.0 236.6L537.0 236.6L538.0 236.6L539.0 236.6L540.0 236.6L541.0 236.6L542.0 236.6L543.0 236.6L544.0 236.6L545.0 236.6L546.0 236.6L547.0 236.6L548.0 236.6L549.0 236.6L550.0 236.6L551.0 236.6L552.0 236.6L553.0 236.6L554.0 236.6L555.0 236.6L556.0 236.6L557.0 236.6L558.0 236.6L559.0 236.6L560.0 236.6L561.0 236.6L562.0 236.6L563.0 236.6L564.0 236.6L565.0 236.6L566.0 236.6L567.0 236.6L568.0 236.6L569.0 236.5L570.0 236.5L571.0 236.5L572.0 236.5L573.0 236.5L574.0 236.4L575.0 236.4L576.0 236.3L577.0 236.3L578.0 236.2L579.0 236.1L580.0 236.0L581.0 235.9L582.0 235.7L583.0 235.5L584.0 235.3L585.0 235.1L586.0 234.8L587.0 234.5L588.0 234.1L589.0 233.7L590.0 233.1L591.0 232.6L592.0 231.9L593.0 231.2L594.0 230.4L595.0 229.5L596.0 228.4L597.0 227.3L598.0 226.1L599.0 224.7L600.0 223.2L601.0 221.6L602.0 219.9L603.0 218.0L604.0 216.0L605.0 213.9L606.0 211.7L607.0 209.4L608.0 206.9L609.0 204.4L610.0 201.8L611.0 199.1L612.0 196.4L613.0 193.7L614.0 190.9L615.0 188.2L616.0 185.6L617.0 182.9L618.0 180.4L619.0 178.0L620.0 175.8L621.0 173.7L622.0 171.8L623.0 170.1L624.0 168.6L625.0 167.3L626.0 166.4L627.0 165.7L628.0 165.2L629.0 165.1L630.0 165.2L631.0 165.7L632.0 166.4L633.0 167.3L634.0 168.6L635.0 170.0L636.0 171.7L637.0 173.7L638.0 175.7L639.0 178.0L640.0 180.4L641.0 182.9L642.0 185.5L643.0 188.2L644.0 190.9L645.0 193.7L646.0 196.4L647.0 199.1L648.0 201.8L649.0 204.4L650.0 206.9L651.0 209.3L652.0 211.7L653.0 213.9L654.0 216.0L655.0 218.0L656.0 219.9L657.0 221.6L658.0 223.2L659.0 224.7L660.0 226.1L661.0 227.3L662.0 228.4L663.0 229.5L664.0 230.4L665.0 231.2L666.0 231.9L667.0 232.6L668.0 233.1L669.0 233.6L670.0 234.1L671.0 234.5L672.0 234.8L673.0 235.1L674.0 235.3L675.0 235.5L676.0 235.7L677.0 235.9L678.0 236.0L679.0 236.1L680.0 236.2L681.0 236.3L682.0 236.3L683.0 236.4L684.0 236.4L685.0 236.5L686.0 236.5L687.0 236.5L688.0 236.5L689.0 236.5L690.0 236.6L691.0 236.6L692.0 236.6L693.0 236.6L694.0 236.6L695.0 236.6L696.0 236.6" fill="none" stroke="#ff60b0" stroke-width="1.8"/>
<path d="M387.0 236.6L388.0 236.6L389.0 236.6L390.0 236.6L391.0 236.6L392.0 236.6L393.0 236.6L394.0 236.6L395.0 236.6L396.0 236.6L397.0 236.6L398.0 236.6L399.0 236.6L400.0 236.6L401.0 236.6L402.0 236.6L403.0 236.6L404.0 236.6L405.0 236.6L406.0 236.6L407.0 236.6L408.0 236.6L409.0 236.6L410.0 236.6L411.0 236.6L412.0 236.6L413.0 236.6L414.0 236.6L415.0 236.6L416.0 236.6L417.0 236.6L418.0 236.6L419.0 236.6L420.0 236.6L421.0 236.6L422.0 236.6L423.0 236.6L424.0 236.6L425.0 236.6L426.0 236.6L427.0 236.6L428.0 236.6L429.0 236.6L430.0 236.6L431.0 236.6L432.0 236.6L433.0 236.6L434.0 236.6L435.0 236.6L436.0 236.6L437.0 236.6L438.0 236.6L439.0 236.6L440.0 236.6L441.0 236.6L442.0 236.6L443.0 236.6L444.0 236.6L445.0 236.6L446.0 236.6L447.0 236.6L448.0 236.6L449.0 236.6L450.0 236.6L451.0 236.6L452.0 236.6L453.0 236.6L454.0 236.6L455.0 236.6L456.0 236.6L457.0 236.6L458.0 236.6L459.0 236.6L460.0 236.6L461.0 236.6L462.0 236.6L463.0 236.6L464.0 236.6L465.0 236.6L466.0 236.6L467.0 236.6L468.0 236.6L469.0 236.6L470.0 236.6L471.0 236.6L472.0 236.6L473.0 236.6L474.0 236.6L475.0 236.6L476.0 236.6L477.0 236.6L478.0 236.6L479.0 236.6L480.0 236.6L481.0 236.6L482.0 236.6L483.0 236.6L484.0 236.6L485.0 236.6L486.0 236.6L487.0 236.6L488.0 236.6L489.0 236.6L490.0 236.6L491.0 236.6L492.0 236.6L493.0 236.6L494.0 236.6L495.0 236.6L496.0 236.6L497.0 236.6L498.0 236.6L499.0 236.6L500.0 236.6L501.0 236.6L502.0 236.6L503.0 236.6L504.0 236.6L505.0 236.6L506.0 236.6L507.0 236.6L508.0 236.6L509.0 236.6L510.0 236.6L511.0 236.6L512.0 236.6L513.0 236.6L514.0 236.6L515.0 236.6L516.0 236.6L517.0 236.6L518.0 236.6L519.0 236.6L520.0 236.6L521.0 236.6L522.0 236.6L523.0 236.6L524.0 236.6L525.0 236.6L526.0 236.6L527.0 236.6L528.0 236.6L529.0 236.6L530.0 236.6L531.0 236.6L532.0 236.6L533.0 236.6L534.0 236.6L535.0 236.6L536.0 236.6L537.0 236.6L538.0 236.6L539.0 236.6L540.0 236.6L541.0 236.6L542.0 236.6L543.0 236.6L544.0 236.6L545.0 236.6L546.0 236.6L547.0 236.6L548.0 236.6L549.0 236.6L550.0 236.6L551.0 236.6L552.0 236.6L553.0 236.6L554.0 236.6L555.0 236.6L556.0 236.6L557.0 236.6L558.0 236.6L559.0 236.6L560.0 236.6L561.0 236.6L562.0 236.6L563.0 236.6L564.0 236.6L565.0 236.6L566.0 236.6L567.0 236.6L568.0 236.6L569.0 236.6L570.0 236.6L571.0 236.6L572.0 236.6L573.0 236.6L574.0 236.6L575.0 236.6L576.0 236.6L577.0 236.6L578.0 236.6L579.0 236.5L580.0 236.5L581.0 236.5L582.0 236.5L583.0 236.5L584.0 236.5L585.0 236.4L586.0 236.4L587.0 236.4L588.0 236.3L589.0 236.3L590.0 236.2L591.0 236.2L592.0 236.1L593.0 236.0L594.0 235.9L595.0 235.8L596.0 235.7L597.0 235.5L598.0 235.3L599.0 235.1L600.0 234.9L601.0 234.7L602.0 234.4L603.0 234.1L604.0 233.8L605.0 233.4L606.0 233.0L607.0 232.6L608.0 232.1L609.0 231.5L610.0 230.9L611.0 230.3L612.0 229.6L613.0 228.8L614.0 228.0L615.0 227.1L616.0 226.1L617.0 225.1L618.0 224.0L619.0 222.9L620.0 221.6L621.0 220.3L622.0 219.0L623.0 217.6L624.0 216.1L625.0 214.6L626.0 213.0L627.0 211.4L628.0 209.7L629.0 208.0L630.0 206.2L631.0 204.5L632.0 202.7L633.0 200.9L634.0 199.1L635.0 197.3L636.0 195.6L637.0 193.9L638.0 192.2L639.0 190.6L640.0 189.0L641.0 187.6L642.0 186.2L643.0 184.9L644.0 183.7L645.0 182.6L646.0 181.7L647.0 180.9L648.0 180.2L649.0 179.6L650.0 179.2L651.0 179.0L652.0 178.9L653.0 178.9L654.0 179.1L655.0 179.4L656.0 179.9L657.0 180.5L658.0 181.3L659.0 182.2L660.0 183.2L661.0 184.4L662.0 185.6L663.0 186.9L664.0 188.4L665.0 189.9L666.0 191.5L667.0 193.1L668.0 194.8L669.0 196.6L670.0 198.3L671.0 200.1L672.0 201.9L673.0 203.7L674.0 205.4L675.0 207.2L676.0 208.9L677.0 210.6L678.0 212.3L679.0 213.9L680.0 215.4L681.0 216.9L682.0 218.4L683.0 219.7L684.0 221.1L685.0 222.3L686.0 223.5L687.0 224.6L688.0 225.7L689.0 226.7L690.0 227.6L691.0 228.4L692.0 229.2L693.0 230.0L694.0 230.6L695.0 231.3L696.0 231.8" fill="none" stroke="#30e030" stroke-width="1.8"/>
</g>
<clipPath id="cC"><rect x="32.0" y="290.6" width="315.3" height="212.4"/></clipPath>
<g clip-path="url(#cC)">
<path d="M32 502.0V420.8H33V426.1H34V422.4H35V427.4H36V423.8H37V420.1H38V426.4H39V432.6H40V425.7H41V429.3H42V427.0H43V433.6H44V431.6H45V438.6H46V436.2H47V439.9H48V456.3H49V454.3H50V454.0H51V454.3H52V458.9H53V462.6H54V464.5H55V471.4H56V466.8H57V475.0H58V476.7H59V477.3H60V484.2H61V484.2H62V485.6H63V489.5H64V486.9H65V492.8H66V494.1H67V497.1H68V493.1H69V497.7H70V497.1H71V498.7H72V497.1H73V500.0H74V499.7H75V499.4H76V500.7H77V500.0H78V501.0H79V501.3H80V501.0H81V502.0M82 502.0V501.7H83V501.7H84V502.0" fill="#5a00b4"/>
<path d="M32 502.0V478.3H33V478.7H34V470.8H35V470.4H36V474.0H37V473.2H38V470.0H39V471.2H40V470.4H41V468.9H42V467.3H43V459.8H44V468.1H45V458.2H46V465.7H47V465.7H48V462.6H49V460.6H50V460.6H51V460.2H52V462.6H53V462.2H54V466.1H55V460.6H56V457.4H57V462.6H58V459.8H59V462.2H60V465.7H61V464.5H62V459.4H63V461.8H64V464.5H65V460.2H66V463.3H67V463.7H68V470.0H69V465.3H70V467.3H71V468.1H72V473.6H73V466.5H74V476.0H75V469.7H76V474.8H77V481.1H78V477.9H79V475.2H80V481.5H81V476.0H82V476.8H83V484.2H84V481.9H85V483.9H86V481.9H87V481.5H88V483.1H89V485.0H90V488.6H91V487.8H92V487.4H93V487.8H94V486.6H95V491.7H96V494.1H97V493.3H98V492.9H99V494.5H100V496.9H101V496.1H102V495.7H103V496.1H104V497.7H105V499.2H106V496.1H107V498.1H108V497.7H109V496.5H110V498.4H111V498.8H112V499.2H113V499.2H114V499.2H115V500.4H116V500.0H117V500.0H118V501.2H119V500.4H120V499.6H121V500.8H122V501.2H123V500.8H124V501.6H125V502.0M126 502.0V501.6H127V501.6H128V502.0" fill="#5aa014"/>
<path d="M32 502.0V499.2H33V498.4H34V500.4H35V498.4H36V496.9H37V496.9H38V497.7H39V494.5H40V494.5H41V495.3H42V493.7H43V495.3H44V494.5H45V495.3H46V493.3H47V491.3H48V489.4H49V492.5H50V490.2H51V491.0H52V486.6H53V490.2H54V488.2H55V481.9H56V483.9H57V483.9H58V482.7H59V484.6H60V483.1H61V481.1H62V474.0H63V477.9H64V474.4H65V472.4H66V469.7H67V473.2H68V468.5H69V467.3H70V472.4H71V466.9H72V471.2H73V469.3H74V466.5H75V467.3H76V461.4H77V469.7H78V462.9H79V467.3H80V466.9H81V465.3H82V461.8H83V466.1H84V474.4H85V462.2H86V468.1H87V469.3H88V474.0H89V468.1H90V471.2H91V468.1H92V476.0H93V474.8H94V473.2H95V474.0H96V477.1H97V478.7H98V481.5H99V479.1H100V480.7H101V479.5H102V487.4H103V482.3H104V485.8H105V486.6H106V487.8H107V487.0H108V489.0H109V489.8H110V488.6H111V491.3H112V489.8H113V489.8H114V491.7H115V491.7H116V491.7H117V496.1H118V496.5H119V499.6H120V496.9H121V498.8H122V497.3H123V499.2H124V499.2H125V499.2H126V499.6H127V498.1H128V499.6H129V500.0H130V499.6H131V499.2H132V500.4H133V499.6H134V500.8H135V500.8H136V501.6H137V500.8H138V501.2H139V501.2H140V501.2H141V502.0M142 502.0V501.2H143V501.6H144V502.0M145 502.0V501.6H146V501.6H147V502.0" fill="#000000"/>
<path d="M34 502.0V501.4H35V502.0M36 502.0V500.8H37V501.4H38V502.0M39 502.0V500.8H40V502.0M41 502.0V500.2H42V501.4H43V501.4H44V501.4H45V500.8H46V500.8H47V501.4H48V502.0M49 502.0V500.2H50V500.8H51V500.8H52V500.2H53V500.8H54V500.2H55V499.6H56V499.0H57V498.4H58V499.6H59V496.1H60V497.3H61V496.7H62V497.3H63V495.5H64V497.9H65V494.9H66V493.1H67V494.3H68V496.1H69V494.9H70V491.9H71V489.0H72V491.9H73V489.6H74V489.6H75V489.0H76V488.4H77V490.2H78V481.3H79V484.2H80V488.4H81V476.0H82V481.3H83V488.4H84V479.5H85V483.7H86V479.5H87V479.5H88V476.0H89V478.9H90V474.8H91V476.0H92V470.0H93V473.0H94V477.7H95V472.4H96V474.8H97V477.7H98V474.2H99V471.8H100V464.1H101V468.3H102V472.4H103V468.9H104V473.0H105V468.9H106V469.5H107V464.1H108V465.9H109V475.4H110V476.6H111V473.6H112V475.4H113V472.4H114V471.2H115V471.2H116V474.2H117V477.7H118V477.7H119V476.6H120V480.1H121V477.7H122V480.1H123V479.5H124V478.9H125V480.7H126V483.1H127V487.2H128V484.2H129V487.8H130V485.4H131V491.3H132V487.2H133V487.8H134V491.3H135V490.2H136V485.4H137V490.2H138V494.9H139V486.6H140V494.9H141V489.0H142V494.9H143V494.3H144V494.9H145V497.3H146V495.5H147V496.7H148V497.3H149V494.9H150V499.6H151V496.7H152V499.0H153V501.4H154V499.0H155V500.2H156V499.6H157V499.6H158V500.8H159V500.8H160V501.4H161V500.8H162V500.8H163V501.4H164V500.2H165V500.2H166V502.0M167 502.0V500.2H168V501.4H169V502.0M170 502.0V500.8H171V502.0M173 502.0V501.4H174V502.0" fill="#5afaaa"/>
<path d="M65 502.0V500.2H66V502.0M67 502.0V501.1H68V501.1H69V501.1H70V500.2H71V501.1H72V501.1H73V501.1H74V498.3H75V499.2H76V501.1H77V499.2H78V501.1H79V500.2H80V498.3H81V498.3H82V497.4H83V497.4H84V499.2H85V494.6H86V497.4H87V494.6H88V497.4H89V496.5H90V496.5H91V495.6H92V495.6H93V493.7H94V491.9H95V493.7H96V492.8H97V491.9H98V492.8H99V491.0H100V491.0H101V485.4H102V491.9H103V481.7H104V488.2H105V483.6H106V479.9H107V478.1H108V479.0H109V484.5H110V475.3H111V477.1H112V476.2H113V477.1H114V470.7H115V477.1H116V475.3H117V469.8H118V478.1H119V475.3H120V464.3H121V466.1H122V470.7H123V469.8H124V470.7H125V473.5H126V468.9H127V468.9H128V473.5H129V473.5H130V470.7H131V465.2H132V467.9H133V477.1H134V469.8H135V475.3H136V469.8H137V466.1H138V468.9H139V467.0H140V477.1H141V477.1H142V479.9H143V469.8H144V479.0H145V479.9H146V480.8H147V474.4H148V481.7H149V478.1H150V475.3H151V477.1H152V484.5H153V482.7H154V484.5H155V490.0H156V488.2H157V488.2H158V488.2H159V491.0H160V488.2H161V493.7H162V489.1H163V493.7H164V491.9H165V494.6H166V492.8H167V492.8H168V498.3H169V495.6H170V496.5H171V498.3H172V496.5H173V497.4H174V499.2H175V496.5H176V499.2H177V500.2H178V498.3H179V497.4H180V501.1H181V498.3H182V498.3H183V500.2H184V499.2H185V501.1H186V501.1H187V500.2H188V501.1H189V502.0M190 502.0V501.1H191V501.1H192V500.2H193V502.0M195 502.0V501.1H196V501.1H197V502.0M198 502.0V501.1H199V502.0" fill="#145ab4"/>
<path d="M82 502.0V500.7H83V502.0M85 502.0V500.7H86V502.0M90 502.0V499.4H91V499.4H92V499.4H93V500.7H94V499.4H95V500.7H96V500.7H97V502.0M98 502.0V500.7H99V498.1H100V499.4H101V495.4H102V496.7H103V498.1H104V498.1H105V498.1H106V498.1H107V498.1H108V495.4H109V496.7H110V498.1H111V496.7H112V496.7H113V495.4H114V492.8H115V494.1H116V490.2H117V490.2H118V490.2H119V492.8H120V486.2H121V487.5H122V479.6H123V490.2H124V486.2H125V487.5H126V481.0H127V481.0H128V486.2H129V487.5H130V484.9H131V479.6H132V481.0H133V466.5H134V474.4H135V473.1H136V474.4H137V475.7H138V478.3H139V470.4H140V477.0H141V474.4H142V474.4H143V466.5H144V470.4H145V466.5H146V465.2H147V471.8H148V475.7H149V470.4H150V462.6H151V462.6H152V469.1H153V469.1H154V459.9H155V462.6H156V467.8H157V454.7H158V467.8H159V462.6H160V465.2H161V474.4H162V470.4H163V471.8H164V475.7H165V471.8H166V475.7H167V478.3H168V475.7H169V469.1H170V475.7H171V479.6H172V479.6H173V484.9H174V477.0H175V479.6H176V483.6H177V484.9H178V481.0H179V490.2H180V482.3H181V487.5H182V481.0H183V486.2H184V488.9H185V482.3H186V490.2H187V490.2H188V496.7H189V495.4H190V492.8H191V498.1H192V495.4H193V499.4H194V494.1H195V496.7H196V496.7H197V498.1H198V496.7H199V496.7H200V495.4H201V499.4H202V495.4H203V496.7H204V498.1H205V499.4H206V500.7H207V500.7H208V498.1H209V500.7H210V499.4H211V499.4H212V499.4H213V500.7H214V502.0M216 502.0V499.4H217V499.4H218V500.7H219V502.0M223 502.0V500.7H224V502.0" fill="#c4f464"/>
<path d="M112 502.0V500.0H113V502.0M114 502.0V500.0H115V500.0H116V498.1H117V498.1H118V500.0H119V500.0H120V500.0H121V500.0H122V498.1H123V496.1H124V496.1H125V498.1H126V498.1H127V490.2H128V494.1H129V498.1H130V494.1H131V496.1H132V492.1H133V496.1H134V486.2H135V496.1H136V496.1H137V490.2H138V488.2H139V488.2H140V492.1H141V486.2H142V482.3H143V490.2H144V492.1H145V490.2H146V482.3H147V484.2H148V488.2H149V482.3H150V476.4H151V486.2H152V478.3H153V484.2H154V474.4H155V476.4H156V466.5H157V480.3H158V458.6H159V470.4H160V458.6H161V474.4H162V472.4H163V474.4H164V480.3H165V458.6H166V470.4H167V470.4H168V468.5H169V454.7H170V454.7H171V474.4H172V472.4H173V466.5H174V470.4H175V470.4H176V466.5H177V468.5H178V472.4H179V458.6H180V468.5H181V476.4H182V462.6H183V470.4H184V460.6H185V476.4H186V460.6H187V470.4H188V468.5H189V472.4H190V468.5H191V472.4H192V476.4H193V470.4H194V476.4H195V482.3H196V480.3H197V486.2H198V484.2H199V482.3H200V480.3H201V486.2H202V480.3H203V484.2H204V486.2H205V486.2H206V492.1H207V484.2H208V492.1H209V494.1H210V494.1H211V498.1H212V496.1H213V496.1H214V496.1H215V492.1H216V498.1H217V496.1H218V496.1H219V498.1H220V498.1H221V496.1H222V496.1H223V496.1H224V498.1H225V492.1H226V500.0H227V500.0H228V500.0H229V500.0H230V498.1H231V500.0H232V500.0H233V500.0H234V502.0M235 502.0V500.0H236V502.0M237 502.0V500.0H238V502.0M239 502.0V498.1H240V500.0H241V502.0M243 502.0V498.1H244V502.0" fill="#62b2f8"/>
<path d="M125 502.0V498.7H126V502.0M127 502.0V498.7H128V502.0M129 502.0V498.7H130V498.7H131V498.7H132V498.7H133V502.0M138 502.0V495.4H139V498.7H140V498.7H141V495.4H142V498.7H143V498.7H144V498.7H145V498.7H146V498.7H147V492.1H148V498.7H149V498.7H150V495.4H151V495.4H152V498.7H153V495.4H154V498.7H155V495.4H156V495.4H157V492.1H158V492.1H159V485.6H160V485.6H161V482.3H162V475.7H163V492.1H164V488.9H165V485.6H166V482.3H167V472.4H168V488.9H169V485.6H170V482.3H171V482.3H172V479.0H173V469.1H174V475.7H175V472.4H176V462.6H177V475.7H178V472.4H179V479.0H180V472.4H181V462.6H182V469.1H183V469.1H184V472.4H185V462.6H186V462.6H187V475.7H188V469.1H189V472.4H190V465.8H191V459.3H192V452.7H193V472.4H194V469.1H195V459.3H196V469.1H197V442.8H198V469.1H199V465.8H200V456.0H201V462.6H202V462.6H203V459.3H204V462.6H205V469.1H206V465.8H207V472.4H208V452.7H209V482.3H210V465.8H211V472.4H212V472.4H213V469.1H214V475.7H215V462.6H216V479.0H217V482.3H218V479.0H219V482.3H220V472.4H221V485.6H222V475.7H223V475.7H224V479.0H225V482.3H226V488.9H227V492.1H228V488.9H229V488.9H230V495.4H231V488.9H232V492.1H233V482.3H234V492.1H235V492.1H236V488.9H237V498.7H238V495.4H239V492.1H240V495.4H241V495.4H242V498.7H243V498.7H244V492.1H245V495.4H246V495.4H247V498.7H248V495.4H249V498.7H250V492.1H251V498.7H252V495.4H253V495.4H254V498.7H255V495.4H256V498.7H257V498.7H258V495.4H259V498.7H260V498.7H261V502.0" fill="#14ff14"/>
<path d="M153 502.0V497.4H154V502.0M155 502.0V497.4H156V497.4H157V502.0M159 502.0V497.4H160V502.0M161 502.0V497.4H162V502.0M164 502.0V488.2H165V497.4H166V492.8H167V497.4H168V492.8H169V497.4H170V492.8H171V497.4H172V492.8H173V488.2H174V488.2H175V492.8H176V488.2H177V492.8H178V483.6H179V479.0H180V488.2H181V488.2H182V488.2H183V483.6H184V488.2H185V483.6H186V488.2H187V483.6H188V488.2H189V483.6H190V469.8H191V474.4H192V474.4H193V469.8H194V474.4H195V469.8H196V479.0H197V460.6H198V474.4H199V460.6H200V465.2H201V465.2H202V460.6H203V474.4H204V474.4H205V451.4H206V465.2H207V469.8H208V451.4H209V456.0H210V465.2H211V446.8H212V460.6H213V446.8H214V465.2H215V456.0H216V465.2H217V465.2H218V460.6H219V446.8H220V469.8H221V469.8H222V460.6H223V460.6H224V460.6H225V460.6H226V460.6H227V465.2H228V479.0H229V474.4H230V465.2H231V474.4H232V460.6H233V479.0H234V479.0H235V488.2H236V469.8H237V460.6H238V474.4H239V479.0H240V483.6H241V488.2H242V483.6H243V479.0H244V483.6H245V483.6H246V483.6H247V488.2H248V483.6H249V488.2H250V492.8H251V488.2H252V492.8H253V492.8H254V483.6H255V488.2H256V488.2H257V492.8H258V497.4H259V497.4H260V488.2H261V492.8H262V497.4H263V502.0M264 502.0V492.8H265V497.4H266V502.0M268 502.0V497.4H269V497.4H270V497.4H271V497.4H272V497.4H273V502.0M276 502.0V497.4H277V497.4H278V502.0M279 502.0V497.4H280V497.4H281V502.0" fill="#ff5ab4"/>
<path d="M165 502.0V493.5H166V502.0M171 502.0V493.5H172V502.0M174 502.0V493.5H175V502.0M176 502.0V493.5H177V502.0M178 502.0V493.5H179V502.0M181 502.0V493.5H182V502.0M183 502.0V493.5H184V493.5H185V493.5H186V502.0M188 502.0V493.5H189V502.0M191 502.0V493.5H192V502.0M193 502.0V476.4H194V493.5H195V484.9H196V484.9H197V476.4H198V493.5H199V484.9H200V476.4H201V484.9H202V484.9H203V467.8H204V467.8H205V476.4H206V484.9H207V484.9H208V484.9H209V476.4H210V467.8H211V467.8H212V476.4H213V476.4H214V450.7H215V476.4H216V467.8H217V459.3H218V467.8H219V467.8H220V467.8H221V476.4H222V450.7H223V459.3H224V476.4H225V476.4H226V459.3H227V459.3H228V450.7H229V450.7H230V450.7H231V450.7H232V442.2H233V442.2H234V476.4H235V459.3H236V442.2H237V459.3H238V450.7H239V459.3H240V459.3H241V442.2H242V476.4H243V450.7H244V459.3H245V476.4H246V467.8H247V467.8H248V459.3H249V459.3H250V467.8H251V467.8H252V450.7H253V450.7H254V459.3H255V467.8H256V459.3H257V493.5H258V476.4H259V476.4H260V484.9H261V484.9H262V484.9H263V493.5H264V484.9H265V476.4H266V484.9H267V476.4H268V476.4H269V493.5H270V467.8H271V502.0M272 502.0V493.5H273V476.4H274V484.9H275V484.9H276V484.9H277V502.0M278 502.0V493.5H279V493.5H280V493.5H281V502.0M282 502.0V493.5H283V502.0M285 502.0V493.5H286V493.5H287V493.5H288V502.0M289 502.0V493.5H290V502.0M292 502.0V493.5H293V502.0M294 502.0V484.9H295V502.0M300 502.0V493.5H301V502.0M305 502.0V493.5H306V502.0" fill="#b00058"/>
<path d="M195 502.0V479.6H196V502.0M206 502.0V479.6H207V502.0M209 502.0V479.6H210V479.6H211V502.0M212 502.0V479.6H213V479.6H214V457.3H215V457.3H216V479.6H217V479.6H218V434.9H219V457.3H220V479.6H221V479.6H222V479.6H223V479.6H224V479.6H225V479.6H226V457.3H227V457.3H228V457.3H229V479.6H230V434.9H231V457.3H232V457.3H233V434.9H234V457.3H235V434.9H236V412.6H237V457.3H238V434.9H239V434.9H240V434.9H241V412.6H242V412.6H243V457.3H244V434.9H245V434.9H246V434.9H247V457.3H248V457.3H249V457.3H250V434.9H251V457.3H252V412.6H253V434.9H254V434.9H255V457.3H256V412.6H257V479.6H258V434.9H259V457.3H260V457.3H261V412.6H262V479.6H263V479.6H264V479.6H265V434.9H266V479.6H267V479.6H268V479.6H269V479.6H270V479.6H271V479.6H272V479.6H273V479.6H274V502.0M275 502.0V479.6H276V502.0M277 502.0V457.3H278V502.0M279 502.0V479.6H280V502.0M282 502.0V479.6H283V479.6H284V502.0M287 502.0V479.6H288V502.0M289 502.0V479.6H290V502.0M291 502.0V479.6H292V502.0M300 502.0V479.6H301V502.0" fill="#14a864"/>
<path d="M209 502.0V433.2H210V502.0M218 502.0V433.2H219V502.0M227 502.0V433.2H228V502.0M229 502.0V433.2H230V433.2H231V433.2H232V433.2H233V433.2H234V502.0M237 502.0V433.2H238V502.0M241 502.0V433.2H242V364.5H243V433.2H244V433.2H245V433.2H246V433.2H247V433.2H248V433.2H249V433.2H250V433.2H251V433.2H252V433.2H253V433.2H254V433.2H255V433.2H256V364.5H257V433.2H258V433.2H259V433.2H260V433.2H261V364.5H262V433.2H263V433.2H264V364.5H265V433.2H266V433.2H267V364.5H268V433.2H269V502.0M270 502.0V364.5H271V364.5H272V433.2H273V433.2H274V295.7H275V433.2H276V433.2H277V364.5H278V433.2H279V433.2H280V433.2H281V364.5H282V433.2H283V433.2H284V433.2H285V433.2H286V364.5H287V433.2H288V433.2H289V364.5H290V433.2H291V502.0M292 502.0V433.2H293V433.2H294V433.2H295V433.2H296V433.2H297V433.2H298V433.2H299V364.5H300V433.2H301V433.2H302V433.2H303V433.2H304V433.2H305V433.2H306V433.2H307V433.2H308V364.5H309V502.0M310 502.0V433.2H311V502.0M312 502.0V433.2H313V433.2H314V433.2H315V433.2H316V502.0M317 502.0V433.2H318V433.2H319V433.2H320V502.0M321 502.0V433.2H322V433.2H323V433.2H324V502.0M332 502.0V433.2H333V502.0" fill="#b464ff"/>
<path d="M32.0 435.6L33.0 435.7L34.0 436.0L35.0 436.4L36.0 437.1L37.0 437.9L38.0 438.9L39.0 440.0L40.0 441.3L41.0 442.7L42.0 444.3L43.0 445.9L44.0 447.7L45.0 449.6L46.0 451.5L47.0 453.5L48.0 455.6L49.0 457.7L50.0 459.8L51.0 461.9L52.0 464.0L53.0 466.2L54.0 468.3L55.0 470.3L56.0 472.3L57.0 474.3L58.0 476.2L59.0 478.0L60.0 479.8L61.0 481.5L62.0 483.1L63.0 484.7L64.0 486.1L65.0 487.5L66.0 488.8L67.0 490.0L68.0 491.2L69.0 492.2L70.0 493.2L71.0 494.1L72.0 494.9L73.0 495.7L74.0 496.4L75.0 497.0L76.0 497.6L77.0 498.1L78.0 498.6L79.0 499.0L80.0 499.4L81.0 499.7L82.0 500.0L83.0 500.3L84.0 500.5L85.0 500.7L86.0 500.9L87.0 501.0L88.0 501.2L89.0 501.3L90.0 501.4L91.0 501.5L92.0 501.6L93.0 501.6L94.0 501.7L95.0 501.7L96.0 501.8L97.0 501.8L98.0 501.8L99.0 501.9L100.0 501.9L101.0 501.9L102.0 501.9L103.0 501.9L104.0 502.0L105.0 502.0L106.0 502.0L107.0 502.0L108.0 502.0L109.0 502.0L110.0 502.0L111.0 502.0L112.0 502.0L113.0 502.0L114.0 502.0L115.0 502.0L116.0 502.0L117.0 502.0L118.0 502.0L119.0 502.0L120.0 502.0L121.0 502.0L122.0 502.0L123.0 502.0L124.0 502.0L125.0 502.0L126.0 502.0L127.0 502.0L128.0 502.0L129.0 502.0L130.0 502.0L131.0 502.0L132.0 502.0L133.0 502.0L134.0 502.0L135.0 502.0L136.0 502.0L137.0 502.0L138.0 502.0L139.0 502.0L140.0 502.0L141.0 502.0L142.0 502.0L143.0 502.0L144.0 502.0L145.0 502.0L146.0 502.0L147.0 502.0L148.0 502.0L149.0 502.0L150.0 502.0L151.0 502.0L152.0 502.0L153.0 502.0L154.0 502.0L155.0 502.0L156.0 502.0L157.0 502.0L158.0 502.0L159.0 502.0L160.0 502.0L161.0 502.0L162.0 502.0L163.0 502.0L164.0 502.0L165.0 502.0L166.0 502.0L167.0 502.0L168.0 502.0L169.0 502.0L170.0 502.0L171.0 502.0L172.0 502.0L173.0 502.0L174.0 502.0L175.0 502.0L176.0 502.0L177.0 502.0L178.0 502.0L179.0 502.0L180.0 502.0L181.0 502.0L182.0 502.0L183.0 502.0L184.0 502.0L185.0 502.0L186.0 502.0L187.0 502.0L188.0 502.0L189.0 502.0L190.0 502.0L191.0 502.0L192.0 502.0L193.0 502.0L194.0 502.0L195.0 502.0L196.0 502.0L197.0 502.0L198.0 502.0L199.0 502.0L200.0 502.0L201.0 502.0L202.0 502.0L203.0 502.0L204.0 502.0L205.0 502.0L206.0 502.0L207.0 502.0L208.0 502.0L209.0 502.0L210.0 502.0L211.0 502.0L212.0 502.0L213.0 502.0L214.0 502.0L215.0 502.0L216.0 502.0L217.0 502.0L218.0 502.0L219.0 502.0L220.0 502.0L221.0 502.0L222.0 502.0L223.0 502.0L224.0 502.0L225.0 502.0L226.0 502.0L227.0 502.0L228.0 502.0L229.0 502.0L230.0 502.0L231.0 502.0L232.0 502.0L233.0 502.0L234.0 502.0L235.0 502.0L236.0 502.0L237.0 502.0L238.0 502.0L239.0 502.0L240.0 502.0L241.0 502.0L242.0 502.0L243.0 502.0L244.0 502.0L245.0 502.0L246.0 502.0L247.0 502.0L248.0 502.0L249.0 502.0L250.0 502.0L251.0 502.0L252.0 502.0L253.0 502.0L254.0 502.0L255.0 502.0L256.0 502.0L257.0 502.0L258.0 502.0L259.0 502.0L260.0 502.0L261.0 502.0L262.0 502.0L263.0 502.0L264.0 502.0L265.0 502.0L266.0 502.0L267.0 502.0L268.0 502.0L269.0 502.0L270.0 502.0L271.0 502.0L272.0 502.0L273.0 502.0L274.0 502.0L275.0 502.0L276.0 502.0L277.0 502.0L278.0 502.0L279.0 502.0L280.0 502.0L281.0 502.0L282.0 502.0L283.0 502.0L284.0 502.0L285.0 502.0L286.0 502.0L287.0 502.0L288.0 502.0L289.0 502.0L290.0 502.0L291.0 502.0L292.0 502.0L293.0 502.0L294.0 502.0L295.0 502.0L296.0 502.0L297.0 502.0L298.0 502.0L299.0 502.0L300.0 502.0L301.0 502.0L302.0 502.0L303.0 502.0L304.0 502.0L305.0 502.0L306.0 502.0L307.0 502.0L308.0 502.0L309.0 502.0L310.0 502.0L311.0 502.0L312.0 502.0L313.0 502.0L314.0 502.0L315.0 502.0L316.0 502.0L317.0 502.0L318.0 502.0L319.0 502.0L320.0 502.0L321.0 502.0L322.0 502.0L323.0 502.0L324.0 502.0L325.0 502.0L326.0 502.0L327.0 502.0L328.0 502.0L329.0 502.0L330.0 502.0L331.0 502.0L332.0 502.0L333.0 502.0L334.0 502.0L335.0 502.0L336.0 502.0L337.0 502.0L338.0 502.0L339.0 502.0L340.0 502.0L341.0 502.0L342.0 502.0L343.0 502.0L344.0 502.0L345.0 502.0L346.0 502.0L347.0 502.0" fill="none" stroke="#ff1010" stroke-width="1.8"/>
<path d="M32.0 492.4L33.0 491.5L34.0 490.4L35.0 489.3L36.0 488.1L37.0 486.9L38.0 485.6L39.0 484.3L40.0 483.0L41.0 481.6L42.0 480.2L43.0 478.8L44.0 477.4L45.0 476.0L46.0 474.7L47.0 473.3L48.0 472.0L49.0 470.8L50.0 469.6L51.0 468.5L52.0 467.5L53.0 466.6L54.0 465.8L55.0 465.1L56.0 464.6L57.0 464.1L58.0 463.9L59.0 463.7L60.0 463.7L61.0 463.8L62.0 464.1L63.0 464.4L64.0 465.0L65.0 465.6L66.0 466.4L67.0 467.3L68.0 468.3L69.0 469.3L70.0 470.5L71.0 471.7L72.0 473.0L73.0 474.3L74.0 475.7L75.0 477.1L76.0 478.5L77.0 479.9L78.0 481.2L79.0 482.6L80.0 484.0L81.0 485.3L82.0 486.6L83.0 487.8L84.0 489.0L85.0 490.1L86.0 491.2L87.0 492.2L88.0 493.1L89.0 494.0L90.0 494.8L91.0 495.6L92.0 496.3L93.0 496.9L94.0 497.5L95.0 498.1L96.0 498.5L97.0 499.0L98.0 499.4L99.0 499.7L100.0 500.0L101.0 500.3L102.0 500.5L103.0 500.7L104.0 500.9L105.0 501.1L106.0 501.2L107.0 501.4L108.0 501.5L109.0 501.5L110.0 501.6L111.0 501.7L112.0 501.7L113.0 501.8L114.0 501.8L115.0 501.9L116.0 501.9L117.0 501.9L118.0 501.9L119.0 501.9L120.0 501.9L121.0 502.0L122.0 502.0L123.0 502.0L124.0 502.0L125.0 502.0L126.0 502.0L127.0 502.0L128.0 502.0L129.0 502.0L130.0 502.0L131.0 502.0L132.0 502.0L133.0 502.0L134.0 502.0L135.0 502.0L136.0 502.0L137.0 502.0L138.0 502.0L139.0 502.0L140.0 502.0L141.0 502.0L142.0 502.0L143.0 502.0L144.0 502.0L145.0 502.0L146.0 502.0L147.0 502.0L148.0 502.0L149.0 502.0L150.0 502.0L151.0 502.0L152.0 502.0L153.0 502.0L154.0 502.0L155.0 502.0L156.0 502.0L157.0 502.0L158.0 502.0L159.0 502.0L160.0 502.0L161.0 502.0L162.0 502.0L163.0 502.0L164.0 502.0L165.0 502.0L166.0 502.0L167.0 502.0L168.0 502.0L169.0 502.0L170.0 502.0L171.0 502.0L172.0 502.0L173.0 502.0L174.0 502.0L175.0 502.0L176.0 502.0L177.0 502.0L178.0 502.0L179.0 502.0L180.0 502.0L181.0 502.0L182.0 502.0L183.0 502.0L184.0 502.0L185.0 502.0L186.0 502.0L187.0 502.0L188.0 502.0L189.0 502.0L190.0 502.0L191.0 502.0L192.0 502.0L193.0 502.0L194.0 502.0L195.0 502.0L196.0 502.0L197.0 502.0L198.0 502.0L199.0 502.0L200.0 502.0L201.0 502.0L202.0 502.0L203.0 502.0L204.0 502.0L205.0 502.0L206.0 502.0L207.0 502.0L208.0 502.0L209.0 502.0L210.0 502.0L211.0 502.0L212.0 502.0L213.0 502.0L214.0 502.0L215.0 502.0L216.0 502.0L217.0 502.0L218.0 502.0L219.0 502.0L220.0 502.0L221.0 502.0L222.0 502.0L223.0 502.0L224.0 502.0L225.0 502.0L226.0 502.0L227.0 502.0L228.0 502.0L229.0 502.0L230.0 502.0L231.0 502.0L232.0 502.0L233.0 502.0L234.0 502.0L235.0 502.0L236.0 502.0L237.0 502.0L238.0 502.0L239.0 502.0L240.0 502.0L241.0 502.0L242.0 502.0L243.0 502.0L244.0 502.0L245.0 502.0L246.0 502.0L247.0 502.0L248.0 502.0L249.0 502.0L250.0 502.0L251.0 502.0L252.0 502.0L253.0 502.0L254.0 502.0L255.0 502.0L256.0 502.0L257.0 502.0L258.0 502.0L259.0 502.0L260.0 502.0L261.0 502.0L262.0 502.0L263.0 502.0L264.0 502.0L265.0 502.0L266.0 502.0L267.0 502.0L268.0 502.0L269.0 502.0L270.0 502.0L271.0 502.0L272.0 502.0L273.0 502.0L274.0 502.0L275.0 502.0L276.0 502.0L277.0 502.0L278.0 502.0L279.0 502.0L280.0 502.0L281.0 502.0L282.0 502.0L283.0 502.0L284.0 502.0L285.0 502.0L286.0 502.0L287.0 502.0L288.0 502.0L289.0 502.0L290.0 502.0L291.0 502.0L292.0 502.0L293.0 502.0L294.0 502.0L295.0 502.0L296.0 502.0L297.0 502.0L298.0 502.0L299.0 502.0L300.0 502.0L301.0 502.0L302.0 502.0L303.0 502.0L304.0 502.0L305.0 502.0L306.0 502.0L307.0 502.0L308.0 502.0L309.0 502.0L310.0 502.0L311.0 502.0L312.0 502.0L313.0 502.0L314.0 502.0L315.0 502.0L316.0 502.0L317.0 502.0L318.0 502.0L319.0 502.0L320.0 502.0L321.0 502.0L322.0 502.0L323.0 502.0L324.0 502.0L325.0 502.0L326.0 502.0L327.0 502.0L328.0 502.0L329.0 502.0L330.0 502.0L331.0 502.0L332.0 502.0L333.0 502.0L334.0 502.0L335.0 502.0L336.0 502.0L337.0 502.0L338.0 502.0L339.0 502.0L340.0 502.0L341.0 502.0L342.0 502.0L343.0 502.0L344.0 502.0L345.0 502.0L346.0 502.0L347.0 502.0" fill="none" stroke="#1010ff" stroke-width="1.8"/>
<path d="M32.0 500.1L33.0 499.8L34.0 499.6L35.0 499.3L36.0 499.0L37.0 498.6L38.0 498.3L39.0 497.9L40.0 497.5L41.0 497.0L42.0 496.5L43.0 496.0L44.0 495.5L45.0 494.9L46.0 494.3L47.0 493.6L48.0 492.9L49.0 492.2L50.0 491.5L51.0 490.7L52.0 489.9L53.0 489.1L54.0 488.2L55.0 487.3L56.0 486.4L57.0 485.5L58.0 484.6L59.0 483.7L60.0 482.8L61.0 481.8L62.0 480.9L63.0 480.0L64.0 479.1L65.0 478.2L66.0 477.4L67.0 476.6L68.0 475.8L69.0 475.1L70.0 474.4L71.0 473.7L72.0 473.1L73.0 472.6L74.0 472.2L75.0 471.8L76.0 471.4L77.0 471.2L78.0 471.0L79.0 470.9L80.0 470.8L81.0 470.9L82.0 471.0L83.0 471.2L84.0 471.4L85.0 471.8L86.0 472.2L87.0 472.6L88.0 473.2L89.0 473.7L90.0 474.4L91.0 475.1L92.0 475.8L93.0 476.6L94.0 477.4L95.0 478.2L96.0 479.1L97.0 480.0L98.0 480.9L99.0 481.8L100.0 482.8L101.0 483.7L102.0 484.6L103.0 485.5L104.0 486.4L105.0 487.3L106.0 488.2L107.0 489.1L108.0 489.9L109.0 490.7L110.0 491.5L111.0 492.2L112.0 492.9L113.0 493.6L114.0 494.3L115.0 494.9L116.0 495.5L117.0 496.0L118.0 496.5L119.0 497.0L120.0 497.5L121.0 497.9L122.0 498.3L123.0 498.7L124.0 499.0L125.0 499.3L126.0 499.6L127.0 499.8L128.0 500.1L129.0 500.3L130.0 500.5L131.0 500.6L132.0 500.8L133.0 500.9L134.0 501.1L135.0 501.2L136.0 501.3L137.0 501.4L138.0 501.5L139.0 501.5L140.0 501.6L141.0 501.6L142.0 501.7L143.0 501.7L144.0 501.8L145.0 501.8L146.0 501.8L147.0 501.9L148.0 501.9L149.0 501.9L150.0 501.9L151.0 501.9L152.0 501.9L153.0 501.9L154.0 502.0L155.0 502.0L156.0 502.0L157.0 502.0L158.0 502.0L159.0 502.0L160.0 502.0L161.0 502.0L162.0 502.0L163.0 502.0L164.0 502.0L165.0 502.0L166.0 502.0L167.0 502.0L168.0 502.0L169.0 502.0L170.0 502.0L171.0 502.0L172.0 502.0L173.0 502.0L174.0 502.0L175.0 502.0L176.0 502.0L177.0 502.0L178.0 502.0L179.0 502.0L180.0 502.0L181.0 502.0L182.0 502.0L183.0 502.0L184.0 502.0L185.0 502.0L186.0 502.0L187.0 502.0L188.0 502.0L189.0 502.0L190.0 502.0L191.0 502.0L192.0 502.0L193.0 502.0L194.0 502.0L195.0 502.0L196.0 502.0L197.0 502.0L198.0 502.0L199.0 502.0L200.0 502.0L201.0 502.0L202.0 502.0L203.0 502.0L204.0 502.0L205.0 502.0L206.0 502.0L207.0 502.0L208.0 502.0L209.0 502.0L210.0 502.0L211.0 502.0L212.0 502.0L213.0 502.0L214.0 502.0L215.0 502.0L216.0 502.0L217.0 502.0L218.0 502.0L219.0 502.0L220.0 502.0L221.0 502.0L222.0 502.0L223.0 502.0L224.0 502.0L225.0 502.0L226.0 502.0L227.0 502.0L228.0 502.0L229.0 502.0L230.0 502.0L231.0 502.0L232.0 502.0L233.0 502.0L234.0 502.0L235.0 502.0L236.0 502.0L237.0 502.0L238.0 502.0L239.0 502.0L240.0 502.0L241.0 502.0L242.0 502.0L243.0 502.0L244.0 502.0L245.0 502.0L246.0 502.0L247.0 502.0L248.0 502.0L249.0 502.0L250.0 502.0L251.0 502.0L252.0 502.0L253.0 502.0L254.0 502.0L255.0 502.0L256.0 502.0L257.0 502.0L258.0 502.0L259.0 502.0L260.0 502.0L261.0 502.0L262.0 502.0L263.0 502.0L264.0 502.0L265.0 502.0L266.0 502.0L267.0 502.0L268.0 502.0L269.0 502.0L270.0 502.0L271.0 502.0L272.0 502.0L273.0 502.0L274.0 502.0L275.0 502.0L276.0 502.0L277.0 502.0L278.0 502.0L279.0 502.0L280.0 502.0L281.0 502.0L282.0 502.0L283.0 502.0L284.0 502.0L285.0 502.0L286.0 502.0L287.0 502.0L288.0 502.0L289.0 502.0L290.0 502.0L291.0 502.0L292.0 502.0L293.0 502.0L294.0 502.0L295.0 502.0L296.0 502.0L297.0 502.0L298.0 502.0L299.0 502.0L300.0 502.0L301.0 502.0L302.0 502.0L303.0 502.0L304.0 502.0L305.0 502.0L306.0 502.0L307.0 502.0L308.0 502.0L309.0 502.0L310.0 502.0L311.0 502.0L312.0 502.0L313.0 502.0L314.0 502.0L315.0 502.0L316.0 502.0L317.0 502.0L318.0 502.0L319.0 502.0L320.0 502.0L321.0 502.0L322.0 502.0L323.0 502.0L324.0 502.0L325.0 502.0L326.0 502.0L327.0 502.0L328.0 502.0L329.0 502.0L330.0 502.0L331.0 502.0L332.0 502.0L333.0 502.0L334.0 502.0L335.0 502.0L336.0 502.0L337.0 502.0L338.0 502.0L339.0 502.0L340.0 502.0L341.0 502.0L342.0 502.0L343.0 502.0L344.0 502.0L345.0 502.0L346.0 502.0L347.0 502.0" fill="none" stroke="#a8601e" stroke-width="1.8"/>
<path d="M32.0 501.9L33.0 501.9L34.0 501.8L35.0 501.8L36.0 501.8L37.0 501.8L38.0 501.7L39.0 501.7L40.0 501.6L41.0 501.6L42.0 501.5L43.0 501.5L44.0 501.4L45.0 501.3L46.0 501.2L47.0 501.1L48.0 501.0L49.0 500.9L50.0 500.7L51.0 500.6L52.0 500.4L53.0 500.2L54.0 500.0L55.0 499.8L56.0 499.6L57.0 499.3L58.0 499.1L59.0 498.8L60.0 498.4L61.0 498.1L62.0 497.7L63.0 497.3L64.0 496.9L65.0 496.4L66.0 496.0L67.0 495.5L68.0 494.9L69.0 494.4L70.0 493.8L71.0 493.2L72.0 492.5L73.0 491.9L74.0 491.2L75.0 490.5L76.0 489.8L77.0 489.0L78.0 488.2L79.0 487.5L80.0 486.7L81.0 485.9L82.0 485.1L83.0 484.3L84.0 483.4L85.0 482.6L86.0 481.8L87.0 481.1L88.0 480.3L89.0 479.5L90.0 478.8L91.0 478.1L92.0 477.4L93.0 476.8L94.0 476.2L95.0 475.6L96.0 475.1L97.0 474.6L98.0 474.2L99.0 473.9L100.0 473.5L101.0 473.3L102.0 473.1L103.0 473.0L104.0 472.9L105.0 472.9L106.0 472.9L107.0 473.0L108.0 473.2L109.0 473.4L110.0 473.7L111.0 474.1L112.0 474.5L113.0 474.9L114.0 475.4L115.0 475.9L116.0 476.5L117.0 477.1L118.0 477.8L119.0 478.5L120.0 479.2L121.0 480.0L122.0 480.7L123.0 481.5L124.0 482.3L125.0 483.1L126.0 483.9L127.0 484.7L128.0 485.5L129.0 486.3L130.0 487.1L131.0 487.9L132.0 488.7L133.0 489.4L134.0 490.2L135.0 490.9L136.0 491.6L137.0 492.3L138.0 492.9L139.0 493.5L140.0 494.1L141.0 494.7L142.0 495.2L143.0 495.8L144.0 496.2L145.0 496.7L146.0 497.1L147.0 497.5L148.0 497.9L149.0 498.3L150.0 498.6L151.0 498.9L152.0 499.2L153.0 499.5L154.0 499.7L155.0 500.0L156.0 500.2L157.0 500.4L158.0 500.5L159.0 500.7L160.0 500.8L161.0 501.0L162.0 501.1L163.0 501.2L164.0 501.3L165.0 501.4L166.0 501.4L167.0 501.5L168.0 501.6L169.0 501.6L170.0 501.7L171.0 501.7L172.0 501.7L173.0 501.8L174.0 501.8L175.0 501.8L176.0 501.9L177.0 501.9L178.0 501.9L179.0 501.9L180.0 501.9L181.0 501.9L182.0 501.9L183.0 502.0L184.0 502.0L185.0 502.0L186.0 502.0L187.0 502.0L188.0 502.0L189.0 502.0L190.0 502.0L191.0 502.0L192.0 502.0L193.0 502.0L194.0 502.0L195.0 502.0L196.0 502.0L197.0 502.0L198.0 502.0L199.0 502.0L200.0 502.0L201.0 502.0L202.0 502.0L203.0 502.0L204.0 502.0L205.0 502.0L206.0 502.0L207.0 502.0L208.0 502.0L209.0 502.0L210.0 502.0L211.0 502.0L212.0 502.0L213.0 502.0L214.0 502.0L215.0 502.0L216.0 502.0L217.0 502.0L218.0 502.0L219.0 502.0L220.0 502.0L221.0 502.0L222.0 502.0L223.0 502.0L224.0 502.0L225.0 502.0L226.0 502.0L227.0 502.0L228.0 502.0L229.0 502.0L230.0 502.0L231.0 502.0L232.0 502.0L233.0 502.0L234.0 502.0L235.0 502.0L236.0 502.0L237.0 502.0L238.0 502.0L239.0 502.0L240.0 502.0L241.0 502.0L242.0 502.0L243.0 502.0L244.0 502.0L245.0 502.0L246.0 502.0L247.0 502.0L248.0 502.0L249.0 502.0L250.0 502.0L251.0 502.0L252.0 502.0L253.0 502.0L254.0 502.0L255.0 502.0L256.0 502.0L257.0 502.0L258.0 502.0L259.0 502.0L260.0 502.0L261.0 502.0L262.0 502.0L263.0 502.0L264.0 502.0L265.0 502.0L266.0 502.0L267.0 502.0L268.0 502.0L269.0 502.0L270.0 502.0L271.0 502.0L272.0 502.0L273.0 502.0L274.0 502.0L275.0 502.0L276.0 502.0L277.0 502.0L278.0 502.0L279.0 502.0L280.0 502.0L281.0 502.0L282.0 502.0L283.0 502.0L284.0 502.0L285.0 502.0L286.0 502.0L287.0 502.0L288.0 502.0L289.0 502.0L290.0 502.0L291.0 502.0L292.0 502.0L293.0 502.0L294.0 502.0L295.0 502.0L296.0 502.0L297.0 502.0L298.0 502.0L299.0 502.0L300.0 502.0L301.0 502.0L302.0 502.0L303.0 502.0L304.0 502.0L305.0 502.0L306.0 502.0L307.0 502.0L308.0 502.0L309.0 502.0L310.0 502.0L311.0 502.0L312.0 502.0L313.0 502.0L314.0 502.0L315.0 502.0L316.0 502.0L317.0 502.0L318.0 502.0L319.0 502.0L320.0 502.0L321.0 502.0L322.0 502.0L323.0 502.0L324.0 502.0L325.0 502.0L326.0 502.0L327.0 502.0L328.0 502.0L329.0 502.0L330.0 502.0L331.0 502.0L332.0 502.0L333.0 502.0L334.0 502.0L335.0 502.0L336.0 502.0L337.0 502.0L338.0 502.0L339.0 502.0L340.0 502.0L341.0 502.0L342.0 502.0L343.0 502.0L344.0 502.0L345.0 502.0L346.0 502.0L347.0 502.0" fill="none" stroke="#4a6040" stroke-width="1.8"/>
<path d="M32.0 502.0L33.0 502.0L34.0 502.0L35.0 502.0L36.0 502.0L37.0 502.0L38.0 502.0L39.0 502.0L40.0 502.0L41.0 502.0L42.0 502.0L43.0 502.0L44.0 502.0L45.0 502.0L46.0 502.0L47.0 502.0L48.0 502.0L49.0 502.0L50.0 502.0L51.0 502.0L52.0 502.0L53.0 501.9L54.0 501.9L55.0 501.9L56.0 501.9L57.0 501.9L58.0 501.9L59.0 501.9L60.0 501.8L61.0 501.8L62.0 501.8L63.0 501.7L64.0 501.7L65.0 501.7L66.0 501.6L67.0 501.5L68.0 501.5L69.0 501.4L70.0 501.3L71.0 501.2L72.0 501.1L73.0 501.0L74.0 500.9L75.0 500.8L76.0 500.6L77.0 500.4L78.0 500.3L79.0 500.1L80.0 499.8L81.0 499.6L82.0 499.3L83.0 499.1L84.0 498.7L85.0 498.4L86.0 498.1L87.0 497.7L88.0 497.3L89.0 496.8L90.0 496.4L91.0 495.9L92.0 495.4L93.0 494.8L94.0 494.2L95.0 493.6L96.0 493.0L97.0 492.4L98.0 491.7L99.0 491.0L100.0 490.2L101.0 489.5L102.0 488.7L103.0 487.9L104.0 487.1L105.0 486.3L106.0 485.5L107.0 484.7L108.0 483.8L109.0 483.0L110.0 482.2L111.0 481.4L112.0 480.5L113.0 479.8L114.0 479.0L115.0 478.3L116.0 477.5L117.0 476.9L118.0 476.2L119.0 475.6L120.0 475.1L121.0 474.5L122.0 474.1L123.0 473.7L124.0 473.3L125.0 473.0L126.0 472.8L127.0 472.6L128.0 472.5L129.0 472.5L130.0 472.5L131.0 472.6L132.0 472.7L133.0 472.9L134.0 473.2L135.0 473.5L136.0 473.9L137.0 474.4L138.0 474.8L139.0 475.4L140.0 476.0L141.0 476.6L142.0 477.3L143.0 478.0L144.0 478.7L145.0 479.4L146.0 480.2L147.0 481.0L148.0 481.8L149.0 482.7L150.0 483.5L151.0 484.3L152.0 485.2L153.0 486.0L154.0 486.8L155.0 487.6L156.0 488.4L157.0 489.2L158.0 489.9L159.0 490.7L160.0 491.4L161.0 492.1L162.0 492.8L163.0 493.4L164.0 494.0L165.0 494.6L166.0 495.2L167.0 495.7L168.0 496.2L169.0 496.7L170.0 497.1L171.0 497.5L172.0 497.9L173.0 498.3L174.0 498.6L175.0 498.9L176.0 499.2L177.0 499.5L178.0 499.7L179.0 500.0L180.0 500.2L181.0 500.4L182.0 500.5L183.0 500.7L184.0 500.8L185.0 501.0L186.0 501.1L187.0 501.2L188.0 501.3L189.0 501.4L190.0 501.5L191.0 501.5L192.0 501.6L193.0 501.6L194.0 501.7L195.0 501.7L196.0 501.8L197.0 501.8L198.0 501.8L199.0 501.8L200.0 501.9L201.0 501.9L202.0 501.9L203.0 501.9L204.0 501.9L205.0 501.9L206.0 501.9L207.0 502.0L208.0 502.0L209.0 502.0L210.0 502.0L211.0 502.0L212.0 502.0L213.0 502.0L214.0 502.0L215.0 502.0L216.0 502.0L217.0 502.0L218.0 502.0L219.0 502.0L220.0 502.0L221.0 502.0L222.0 502.0L223.0 502.0L224.0 502.0L225.0 502.0L226.0 502.0L227.0 502.0L228.0 502.0L229.0 502.0L230.0 502.0L231.0 502.0L232.0 502.0L233.0 502.0L234.0 502.0L235.0 502.0L236.0 502.0L237.0 502.0L238.0 502.0L239.0 502.0L240.0 502.0L241.0 502.0L242.0 502.0L243.0 502.0L244.0 502.0L245.0 502.0L246.0 502.0L247.0 502.0L248.0 502.0L249.0 502.0L250.0 502.0L251.0 502.0L252.0 502.0L253.0 502.0L254.0 502.0L255.0 502.0L256.0 502.0L257.0 502.0L258.0 502.0L259.0 502.0L260.0 502.0L261.0 502.0L262.0 502.0L263.0 502.0L264.0 502.0L265.0 502.0L266.0 502.0L267.0 502.0L268.0 502.0L269.0 502.0L270.0 502.0L271.0 502.0L272.0 502.0L273.0 502.0L274.0 502.0L275.0 502.0L276.0 502.0L277.0 502.0L278.0 502.0L279.0 502.0L280.0 502.0L281.0 502.0L282.0 502.0L283.0 502.0L284.0 502.0L285.0 502.0L286.0 502.0L287.0 502.0L288.0 502.0L289.0 502.0L290.0 502.0L291.0 502.0L292.0 502.0L293.0 502.0L294.0 502.0L295.0 502.0L296.0 502.0L297.0 502.0L298.0 502.0L299.0 502.0L300.0 502.0L301.0 502.0L302.0 502.0L303.0 502.0L304.0 502.0L305.0 502.0L306.0 502.0L307.0 502.0L308.0 502.0L309.0 502.0L310.0 502.0L311.0 502.0L312.0 502.0L313.0 502.0L314.0 502.0L315.0 502.0L316.0 502.0L317.0 502.0L318.0 502.0L319.0 502.0L320.0 502.0L321.0 502.0L322.0 502.0L323.0 502.0L324.0 502.0L325.0 502.0L326.0 502.0L327.0 502.0L328.0 502.0L329.0 502.0L330.0 502.0L331.0 502.0L332.0 502.0L333.0 502.0L334.0 502.0L335.0 502.0L336.0 502.0L337.0 502.0L338.0 502.0L339.0 502.0L340.0 502.0L341.0 502.0L342.0 502.0L343.0 502.0L344.0 502.0L345.0 502.0L346.0 502.0L347.0 502.0" fill="none" stroke="#e020f0" stroke-width="1.8"/>
<path d="M32.0 502.0L33.0 502.0L34.0 502.0L35.0 502.0L36.0 502.0L37.0 502.0L38.0 502.0L39.0 502.0L40.0 502.0L41.0 502.0L42.0 502.0L43.0 502.0L44.0 502.0L45.0 502.0L46.0 502.0L47.0 502.0L48.0 502.0L49.0 502.0L50.0 502.0L51.0 502.0L52.0 502.0L53.0 502.0L54.0 502.0L55.0 502.0L56.0 502.0L57.0 502.0L58.0 502.0L59.0 502.0L60.0 502.0L61.0 502.0L62.0 502.0L63.0 502.0L64.0 502.0L65.0 502.0L66.0 502.0L67.0 502.0L68.0 502.0L69.0 502.0L70.0 502.0L71.0 502.0L72.0 502.0L73.0 502.0L74.0 502.0L75.0 501.9L76.0 501.9L77.0 501.9L78.0 501.9L79.0 501.9L80.0 501.9L81.0 501.9L82.0 501.8L83.0 501.8L84.0 501.8L85.0 501.8L86.0 501.7L87.0 501.7L88.0 501.6L89.0 501.6L90.0 501.5L91.0 501.5L92.0 501.4L93.0 501.3L94.0 501.2L95.0 501.1L96.0 501.0L97.0 500.9L98.0 500.7L99.0 500.6L100.0 500.4L101.0 500.2L102.0 500.0L103.0 499.8L104.0 499.6L105.0 499.3L106.0 499.1L107.0 498.8L108.0 498.4L109.0 498.1L110.0 497.7L111.0 497.3L112.0 496.9L113.0 496.4L114.0 496.0L115.0 495.5L116.0 494.9L117.0 494.4L118.0 493.8L119.0 493.2L120.0 492.5L121.0 491.9L122.0 491.2L123.0 490.5L124.0 489.8L125.0 489.0L126.0 488.2L127.0 487.5L128.0 486.7L129.0 485.9L130.0 485.1L131.0 484.3L132.0 483.4L133.0 482.6L134.0 481.8L135.0 481.1L136.0 480.3L137.0 479.5L138.0 478.8L139.0 478.1L140.0 477.4L141.0 476.8L142.0 476.2L143.0 475.6L144.0 475.1L145.0 474.6L146.0 474.2L147.0 473.9L148.0 473.5L149.0 473.3L150.0 473.1L151.0 473.0L152.0 472.9L153.0 472.9L154.0 472.9L155.0 473.0L156.0 473.2L157.0 473.4L158.0 473.7L159.0 474.1L160.0 474.5L161.0 474.9L162.0 475.4L163.0 475.9L164.0 476.5L165.0 477.1L166.0 477.8L167.0 478.5L168.0 479.2L169.0 480.0L170.0 480.7L171.0 481.5L172.0 482.3L173.0 483.1L174.0 483.9L175.0 484.7L176.0 485.5L177.0 486.3L178.0 487.1L179.0 487.9L180.0 488.7L181.0 489.4L182.0 490.2L183.0 490.9L184.0 491.6L185.0 492.3L186.0 492.9L187.0 493.5L188.0 494.1L189.0 494.7L190.0 495.2L191.0 495.8L192.0 496.2L193.0 496.7L194.0 497.1L195.0 497.5L196.0 497.9L197.0 498.3L198.0 498.6L199.0 498.9L200.0 499.2L201.0 499.5L202.0 499.7L203.0 500.0L204.0 500.2L205.0 500.4L206.0 500.5L207.0 500.7L208.0 500.8L209.0 501.0L210.0 501.1L211.0 501.2L212.0 501.3L213.0 501.4L214.0 501.4L215.0 501.5L216.0 501.6L217.0 501.6L218.0 501.7L219.0 501.7L220.0 501.7L221.0 501.8L222.0 501.8L223.0 501.8L224.0 501.9L225.0 501.9L226.0 501.9L227.0 501.9L228.0 501.9L229.0 501.9L230.0 501.9L231.0 502.0L232.0 502.0L233.0 502.0L234.0 502.0L235.0 502.0L236.0 502.0L237.0 502.0L238.0 502.0L239.0 502.0L240.0 502.0L241.0 502.0L242.0 502.0L243.0 502.0L244.0 502.0L245.0 502.0L246.0 502.0L247.0 502.0L248.0 502.0L249.0 502.0L250.0 502.0L251.0 502.0L252.0 502.0L253.0 502.0L254.0 502.0L255.0 502.0L256.0 502.0L257.0 502.0L258.0 502.0L259.0 502.0L260.0 502.0L261.0 502.0L262.0 502.0L263.0 502.0L264.0 502.0L265.0 502.0L266.0 502.0L267.0 502.0L268.0 502.0L269.0 502.0L270.0 502.0L271.0 502.0L272.0 502.0L273.0 502.0L274.0 502.0L275.0 502.0L276.0 502.0L277.0 502.0L278.0 502.0L279.0 502.0L280.0 502.0L281.0 502.0L282.0 502.0L283.0 502.0L284.0 502.0L285.0 502.0L286.0 502.0L287.0 502.0L288.0 502.0L289.0 502.0L290.0 502.0L291.0 502.0L292.0 502.0L293.0 502.0L294.0 502.0L295.0 502.0L296.0 502.0L297.0 502.0L298.0 502.0L299.0 502.0L300.0 502.0L301.0 502.0L302.0 502.0L303.0 502.0L304.0 502.0L305.0 502.0L306.0 502.0L307.0 502.0L308.0 502.0L309.0 502.0L310.0 502.0L311.0 502.0L312.0 502.0L313.0 502.0L314.0 502.0L315.0 502.0L316.0 502.0L317.0 502.0L318.0 502.0L319.0 502.0L320.0 502.0L321.0 502.0L322.0 502.0L323.0 502.0L324.0 502.0L325.0 502.0L326.0 502.0L327.0 502.0L328.0 502.0L329.0 502.0L330.0 502.0L331.0 502.0L332.0 502.0L333.0 502.0L334.0 502.0L335.0 502.0L336.0 502.0L337.0 502.0L338.0 502.0L339.0 502.0L340.0 502.0L341.0 502.0L342.0 502.0L343.0 502.0L344.0 502.0L345.0 502.0L346.0 502.0L347.0 502.0" fill="none" stroke="#ffff10" stroke-width="1.8"/>
<path d="M32.0 502.0L33.0 502.0L34.0 502.0L35.0 502.0L36.0 502.0L37.0 502.0L38.0 502.0L39.0 502.0L40.0 502.0L41.0 502.0L42.0 502.0L43.0 502.0L44.0 502.0L45.0 502.0L46.0 502.0L47.0 502.0L48.0 502.0L49.0 502.0L50.0 502.0L51.0 502.0L52.0 502.0L53.0 502.0L54.0 502.0L55.0 502.0L56.0 502.0L57.0 502.0L58.0 502.0L59.0 502.0L60.0 502.0L61.0 502.0L62.0 502.0L63.0 502.0L64.0 502.0L65.0 502.0L66.0 502.0L67.0 502.0L68.0 502.0L69.0 502.0L70.0 502.0L71.0 502.0L72.0 502.0L73.0 502.0L74.0 502.0L75.0 502.0L76.0 502.0L77.0 502.0L78.0 502.0L79.0 502.0L80.0 502.0L81.0 502.0L82.0 502.0L83.0 502.0L84.0 502.0L85.0 502.0L86.0 502.0L87.0 502.0L88.0 502.0L89.0 502.0L90.0 502.0L91.0 502.0L92.0 502.0L93.0 502.0L94.0 502.0L95.0 502.0L96.0 502.0L97.0 501.9L98.0 501.9L99.0 501.9L100.0 501.9L101.0 501.9L102.0 501.9L103.0 501.9L104.0 501.8L105.0 501.8L106.0 501.8L107.0 501.8L108.0 501.7L109.0 501.7L110.0 501.6L111.0 501.6L112.0 501.5L113.0 501.5L114.0 501.4L115.0 501.3L116.0 501.2L117.0 501.1L118.0 501.0L119.0 500.9L120.0 500.7L121.0 500.6L122.0 500.4L123.0 500.2L124.0 500.0L125.0 499.8L126.0 499.5L127.0 499.3L128.0 499.0L129.0 498.7L130.0 498.4L131.0 498.0L132.0 497.6L133.0 497.2L134.0 496.8L135.0 496.4L136.0 495.9L137.0 495.4L138.0 494.8L139.0 494.3L140.0 493.7L141.0 493.1L142.0 492.4L143.0 491.8L144.0 491.1L145.0 490.3L146.0 489.6L147.0 488.9L148.0 488.1L149.0 487.3L150.0 486.5L151.0 485.7L152.0 484.9L153.0 484.1L154.0 483.3L155.0 482.5L156.0 481.7L157.0 480.9L158.0 480.1L159.0 479.4L160.0 478.7L161.0 478.0L162.0 477.3L163.0 476.7L164.0 476.1L165.0 475.5L166.0 475.0L167.0 474.6L168.0 474.1L169.0 473.8L170.0 473.5L171.0 473.3L172.0 473.1L173.0 472.9L174.0 472.9L175.0 472.9L176.0 472.9L177.0 473.1L178.0 473.2L179.0 473.5L180.0 473.8L181.0 474.1L182.0 474.5L183.0 475.0L184.0 475.5L185.0 476.0L186.0 476.6L187.0 477.3L188.0 477.9L189.0 478.6L190.0 479.3L191.0 480.1L192.0 480.9L193.0 481.6L194.0 482.4L195.0 483.2L196.0 484.1L197.0 484.9L198.0 485.7L199.0 486.5L200.0 487.3L201.0 488.0L202.0 488.8L203.0 489.6L204.0 490.3L205.0 491.0L206.0 491.7L207.0 492.4L208.0 493.0L209.0 493.6L210.0 494.2L211.0 494.8L212.0 495.3L213.0 495.8L214.0 496.3L215.0 496.8L216.0 497.2L217.0 497.6L218.0 498.0L219.0 498.4L220.0 498.7L221.0 499.0L222.0 499.3L223.0 499.5L224.0 499.8L225.0 500.0L226.0 500.2L227.0 500.4L228.0 500.6L229.0 500.7L230.0 500.9L231.0 501.0L232.0 501.1L233.0 501.2L234.0 501.3L235.0 501.4L236.0 501.4L237.0 501.5L238.0 501.6L239.0 501.6L240.0 501.7L241.0 501.7L242.0 501.8L243.0 501.8L244.0 501.8L245.0 501.8L246.0 501.9L247.0 501.9L248.0 501.9L249.0 501.9L250.0 501.9L251.0 501.9L252.0 501.9L253.0 502.0L254.0 502.0L255.0 502.0L256.0 502.0L257.0 502.0L258.0 502.0L259.0 502.0L260.0 502.0L261.0 502.0L262.0 502.0L263.0 502.0L264.0 502.0L265.0 502.0L266.0 502.0L267.0 502.0L268.0 502.0L269.0 502.0L270.0 502.0L271.0 502.0L272.0 502.0L273.0 502.0L274.0 502.0L275.0 502.0L276.0 502.0L277.0 502.0L278.0 502.0L279.0 502.0L280.0 502.0L281.0 502.0L282.0 502.0L283.0 502.0L284.0 502.0L285.0 502.0L286.0 502.0L287.0 502.0L288.0 502.0L289.0 502.0L290.0 502.0L291.0 502.0L292.0 502.0L293.0 502.0L294.0 502.0L295.0 502.0L296.0 502.0L297.0 502.0L298.0 502.0L299.0 502.0L300.0 502.0L301.0 502.0L302.0 502.0L303.0 502.0L304.0 502.0L305.0 502.0L306.0 502.0L307.0 502.0L308.0 502.0L309.0 502.0L310.0 502.0L311.0 502.0L312.0 502.0L313.0 502.0L314.0 502.0L315.0 502.0L316.0 502.0L317.0 502.0L318.0 502.0L319.0 502.0L320.0 502.0L321.0 502.0L322.0 502.0L323.0 502.0L324.0 502.0L325.0 502.0L326.0 502.0L327.0 502.0L328.0 502.0L329.0 502.0L330.0 502.0L331.0 502.0L332.0 502.0L333.0 502.0L334.0 502.0L335.0 502.0L336.0 502.0L337.0 502.0L338.0 502.0L339.0 502.0L340.0 502.0L341.0 502.0L342.0 502.0L343.0 502.0L344.0 502.0L345.0 502.0L346.0 502.0L347.0 502.0" fill="none" stroke="#d8a878" stroke-width="1.8"/>
<path d="M32.0 502.0L33.0 502.0L34.0 502.0L35.0 502.0L36.0 502.0L37.0 502.0L38.0 502.0L39.0 502.0L40.0 502.0L41.0 502.0L42.0 502.0L43.0 502.0L44.0 502.0L45.0 502.0L46.0 502.0L47.0 502.0L48.0 502.0L49.0 502.0L50.0 502.0L51.0 502.0L52.0 502.0L53.0 502.0L54.0 502.0L55.0 502.0L56.0 502.0L57.0 502.0L58.0 502.0L59.0 502.0L60.0 502.0L61.0 502.0L62.0 502.0L63.0 502.0L64.0 502.0L65.0 502.0L66.0 502.0L67.0 502.0L68.0 502.0L69.0 502.0L70.0 502.0L71.0 502.0L72.0 502.0L73.0 502.0L74.0 502.0L75.0 502.0L76.0 502.0L77.0 502.0L78.0 502.0L79.0 502.0L80.0 502.0L81.0 502.0L82.0 502.0L83.0 502.0L84.0 502.0L85.0 502.0L86.0 502.0L87.0 502.0L88.0 502.0L89.0 502.0L90.0 502.0L91.0 502.0L92.0 502.0L93.0 502.0L94.0 502.0L95.0 502.0L96.0 502.0L97.0 502.0L98.0 502.0L99.0 502.0L100.0 502.0L101.0 502.0L102.0 502.0L103.0 502.0L104.0 502.0L105.0 502.0L106.0 502.0L107.0 502.0L108.0 502.0L109.0 502.0L110.0 502.0L111.0 502.0L112.0 502.0L113.0 502.0L114.0 502.0L115.0 502.0L116.0 502.0L117.0 502.0L118.0 501.9L119.0 501.9L120.0 501.9L121.0 501.9L122.0 501.9L123.0 501.9L124.0 501.9L125.0 501.8L126.0 501.8L127.0 501.8L128.0 501.8L129.0 501.7L130.0 501.7L131.0 501.6L132.0 501.6L133.0 501.5L134.0 501.5L135.0 501.4L136.0 501.3L137.0 501.2L138.0 501.1L139.0 501.0L140.0 500.9L141.0 500.8L142.0 500.6L143.0 500.5L144.0 500.3L145.0 500.1L146.0 499.9L147.0 499.7L148.0 499.4L149.0 499.2L150.0 498.9L151.0 498.6L152.0 498.3L153.0 497.9L154.0 497.5L155.0 497.1L156.0 496.7L157.0 496.3L158.0 495.8L159.0 495.3L160.0 494.8L161.0 494.2L162.0 493.6L163.0 493.0L164.0 492.4L165.0 491.7L166.0 491.1L167.0 490.4L168.0 489.7L169.0 488.9L170.0 488.2L171.0 487.4L172.0 486.7L173.0 485.9L174.0 485.1L175.0 484.3L176.0 483.6L177.0 482.8L178.0 482.0L179.0 481.3L180.0 480.5L181.0 479.8L182.0 479.1L183.0 478.4L184.0 477.8L185.0 477.2L186.0 476.6L187.0 476.1L188.0 475.6L189.0 475.1L190.0 474.7L191.0 474.4L192.0 474.1L193.0 473.8L194.0 473.6L195.0 473.5L196.0 473.4L197.0 473.4L198.0 473.4L199.0 473.5L200.0 473.7L201.0 473.9L202.0 474.2L203.0 474.5L204.0 474.8L205.0 475.3L206.0 475.7L207.0 476.2L208.0 476.8L209.0 477.4L210.0 478.0L211.0 478.7L212.0 479.3L213.0 480.0L214.0 480.8L215.0 481.5L216.0 482.3L217.0 483.0L218.0 483.8L219.0 484.6L220.0 485.4L221.0 486.2L222.0 486.9L223.0 487.7L224.0 488.4L225.0 489.2L226.0 489.9L227.0 490.6L228.0 491.3L229.0 492.0L230.0 492.6L231.0 493.2L232.0 493.8L233.0 494.4L234.0 494.9L235.0 495.5L236.0 495.9L237.0 496.4L238.0 496.9L239.0 497.3L240.0 497.7L241.0 498.0L242.0 498.4L243.0 498.7L244.0 499.0L245.0 499.3L246.0 499.5L247.0 499.8L248.0 500.0L249.0 500.2L250.0 500.4L251.0 500.5L252.0 500.7L253.0 500.8L254.0 501.0L255.0 501.1L256.0 501.2L257.0 501.3L258.0 501.4L259.0 501.4L260.0 501.5L261.0 501.6L262.0 501.6L263.0 501.7L264.0 501.7L265.0 501.7L266.0 501.8L267.0 501.8L268.0 501.8L269.0 501.9L270.0 501.9L271.0 501.9L272.0 501.9L273.0 501.9L274.0 501.9L275.0 501.9L276.0 501.9L277.0 502.0L278.0 502.0L279.0 502.0L280.0 502.0L281.0 502.0L282.0 502.0L283.0 502.0L284.0 502.0L285.0 502.0L286.0 502.0L287.0 502.0L288.0 502.0L289.0 502.0L290.0 502.0L291.0 502.0L292.0 502.0L293.0 502.0L294.0 502.0L295.0 502.0L296.0 502.0L297.0 502.0L298.0 502.0L299.0 502.0L300.0 502.0L301.0 502.0L302.0 502.0L303.0 502.0L304.0 502.0L305.0 502.0L306.0 502.0L307.0 502.0L308.0 502.0L309.0 502.0L310.0 502.0L311.0 502.0L312.0 502.0L313.0 502.0L314.0 502.0L315.0 502.0L316.0 502.0L317.0 502.0L318.0 502.0L319.0 502.0L320.0 502.0L321.0 502.0L322.0 502.0L323.0 502.0L324.0 502.0L325.0 502.0L326.0 502.0L327.0 502.0L328.0 502.0L329.0 502.0L330.0 502.0L331.0 502.0L332.0 502.0L333.0 502.0L334.0 502.0L335.0 502.0L336.0 502.0L337.0 502.0L338.0 502.0L339.0 502.0L340.0 502.0L341.0 502.0L342.0 502.0L343.0 502.0L344.0 502.0L345.0 502.0L346.0 502.0L347.0 502.0" fill="none" stroke="#a8a0a0" stroke-width="1.8"/>
<path d="M32.0 502.0L33.0 502.0L34.0 502.0L35.0 502.0L36.0 502.0L37.0 502.0L38.0 502.0L39.0 502.0L40.0 502.0L41.0 502.0L42.0 502.0L43.0 502.0L44.0 502.0L45.0 502.0L46.0 502.0L47.0 502.0L48.0 502.0L49.0 502.0L50.0 502.0L51.0 502.0L52.0 502.0L53.0 502.0L54.0 502.0L55.0 502.0L56.0 502.0L57.0 502.0L58.0 502.0L59.0 502.0L60.0 502.0L61.0 502.0L62.0 502.0L63.0 502.0L64.0 502.0L65.0 502.0L66.0 502.0L67.0 502.0L68.0 502.0L69.0 502.0L70.0 502.0L71.0 502.0L72.0 502.0L73.0 502.0L74.0 502.0L75.0 502.0L76.0 502.0L77.0 502.0L78.0 502.0L79.0 502.0L80.0 502.0L81.0 502.0L82.0 502.0L83.0 502.0L84.0 502.0L85.0 502.0L86.0 502.0L87.0 502.0L88.0 502.0L89.0 502.0L90.0 502.0L91.0 502.0L92.0 502.0L93.0 502.0L94.0 502.0L95.0 502.0L96.0 502.0L97.0 502.0L98.0 502.0L99.0 502.0L100.0 502.0L101.0 502.0L102.0 502.0L103.0 502.0L104.0 502.0L105.0 502.0L106.0 502.0L107.0 502.0L108.0 502.0L109.0 502.0L110.0 502.0L111.0 502.0L112.0 502.0L113.0 502.0L114.0 502.0L115.0 502.0L116.0 502.0L117.0 502.0L118.0 502.0L119.0 502.0L120.0 502.0L121.0 502.0L122.0 502.0L123.0 502.0L124.0 502.0L125.0 502.0L126.0 502.0L127.0 502.0L128.0 502.0L129.0 502.0L130.0 502.0L131.0 502.0L132.0 502.0L133.0 502.0L134.0 502.0L135.0 502.0L136.0 502.0L137.0 502.0L138.0 501.9L139.0 501.9L140.0 501.9L141.0 501.9L142.0 501.9L143.0 501.9L144.0 501.9L145.0 501.8L146.0 501.8L147.0 501.8L148.0 501.7L149.0 501.7L150.0 501.7L151.0 501.6L152.0 501.6L153.0 501.5L154.0 501.4L155.0 501.4L156.0 501.3L157.0 501.2L158.0 501.1L159.0 501.0L160.0 500.8L161.0 500.7L162.0 500.5L163.0 500.3L164.0 500.2L165.0 499.9L166.0 499.7L167.0 499.5L168.0 499.2L169.0 498.9L170.0 498.6L171.0 498.3L172.0 497.9L173.0 497.5L174.0 497.1L175.0 496.7L176.0 496.2L177.0 495.7L178.0 495.2L179.0 494.7L180.0 494.1L181.0 493.5L182.0 492.9L183.0 492.2L184.0 491.6L185.0 490.9L186.0 490.1L187.0 489.4L188.0 488.7L189.0 487.9L190.0 487.1L191.0 486.3L192.0 485.5L193.0 484.7L194.0 483.9L195.0 483.1L196.0 482.3L197.0 481.5L198.0 480.7L199.0 479.9L200.0 479.2L201.0 478.5L202.0 477.8L203.0 477.1L204.0 476.5L205.0 475.9L206.0 475.4L207.0 474.9L208.0 474.4L209.0 474.0L210.0 473.7L211.0 473.4L212.0 473.2L213.0 473.0L214.0 472.9L215.0 472.9L216.0 472.9L217.0 473.0L218.0 473.1L219.0 473.3L220.0 473.6L221.0 473.9L222.0 474.2L223.0 474.7L224.0 475.1L225.0 475.6L226.0 476.2L227.0 476.8L228.0 477.4L229.0 478.1L230.0 478.8L231.0 479.6L232.0 480.3L233.0 481.1L234.0 481.9L235.0 482.7L236.0 483.5L237.0 484.3L238.0 485.1L239.0 485.9L240.0 486.7L241.0 487.5L242.0 488.3L243.0 489.0L244.0 489.8L245.0 490.5L246.0 491.2L247.0 491.9L248.0 492.6L249.0 493.2L250.0 493.8L251.0 494.4L252.0 494.9L253.0 495.5L254.0 496.0L255.0 496.5L256.0 496.9L257.0 497.3L258.0 497.7L259.0 498.1L260.0 498.4L261.0 498.8L262.0 499.1L263.0 499.3L264.0 499.6L265.0 499.8L266.0 500.1L267.0 500.3L268.0 500.4L269.0 500.6L270.0 500.8L271.0 500.9L272.0 501.0L273.0 501.1L274.0 501.2L275.0 501.3L276.0 501.4L277.0 501.5L278.0 501.5L279.0 501.6L280.0 501.6L281.0 501.7L282.0 501.7L283.0 501.8L284.0 501.8L285.0 501.8L286.0 501.8L287.0 501.9L288.0 501.9L289.0 501.9L290.0 501.9L291.0 501.9L292.0 501.9L293.0 501.9L294.0 502.0L295.0 502.0L296.0 502.0L297.0 502.0L298.0 502.0L299.0 502.0L300.0 502.0L301.0 502.0L302.0 502.0L303.0 502.0L304.0 502.0L305.0 502.0L306.0 502.0L307.0 502.0L308.0 502.0L309.0 502.0L310.0 502.0L311.0 502.0L312.0 502.0L313.0 502.0L314.0 502.0L315.0 502.0L316.0 502.0L317.0 502.0L318.0 502.0L319.0 502.0L320.0 502.0L321.0 502.0L322.0 502.0L323.0 502.0L324.0 502.0L325.0 502.0L326.0 502.0L327.0 502.0L328.0 502.0L329.0 502.0L330.0 502.0L331.0 502.0L332.0 502.0L333.0 502.0L334.0 502.0L335.0 502.0L336.0 502.0L337.0 502.0L338.0 502.0L339.0 502.0L340.0 502.0L341.0 502.0L342.0 502.0L343.0 502.0L344.0 502.0L345.0 502.0L346.0 502.0L347.0 502.0" fill="none" stroke="#b050ff" stroke-width="1.8"/>
<path d="M32.0 502.0L33.0 502.0L34.0 502.0L35.0 502.0L36.0 502.0L37.0 502.0L38.0 502.0L39.0 502.0L40.0 502.0L41.0 502.0L42.0 502.0L43.0 502.0L44.0 502.0L45.0 502.0L46.0 502.0L47.0 502.0L48.0 502.0L49.0 502.0L50.0 502.0L51.0 502.0L52.0 502.0L53.0 502.0L54.0 502.0L55.0 502.0L56.0 502.0L57.0 502.0L58.0 502.0L59.0 502.0L60.0 502.0L61.0 502.0L62.0 502.0L63.0 502.0L64.0 502.0L65.0 502.0L66.0 502.0L67.0 502.0L68.0 502.0L69.0 502.0L70.0 502.0L71.0 502.0L72.0 502.0L73.0 502.0L74.0 502.0L75.0 502.0L76.0 502.0L77.0 502.0L78.0 502.0L79.0 502.0L80.0 502.0L81.0 502.0L82.0 502.0L83.0 502.0L84.0 502.0L85.0 502.0L86.0 502.0L87.0 502.0L88.0 502.0L89.0 502.0L90.0 502.0L91.0 502.0L92.0 502.0L93.0 502.0L94.0 502.0L95.0 502.0L96.0 502.0L97.0 502.0L98.0 502.0L99.0 502.0L100.0 502.0L101.0 502.0L102.0 502.0L103.0 502.0L104.0 502.0L105.0 502.0L106.0 502.0L107.0 502.0L108.0 502.0L109.0 502.0L110.0 502.0L111.0 502.0L112.0 502.0L113.0 502.0L114.0 502.0L115.0 502.0L116.0 502.0L117.0 502.0L118.0 502.0L119.0 502.0L120.0 502.0L121.0 502.0L122.0 502.0L123.0 502.0L124.0 502.0L125.0 502.0L126.0 502.0L127.0 502.0L128.0 502.0L129.0 502.0L130.0 502.0L131.0 502.0L132.0 502.0L133.0 502.0L134.0 502.0L135.0 502.0L136.0 502.0L137.0 502.0L138.0 502.0L139.0 502.0L140.0 502.0L141.0 502.0L142.0 502.0L143.0 502.0L144.0 502.0L145.0 502.0L146.0 502.0L147.0 502.0L148.0 502.0L149.0 502.0L150.0 502.0L151.0 502.0L152.0 502.0L153.0 502.0L154.0 502.0L155.0 502.0L156.0 502.0L157.0 501.9L158.0 501.9L159.0 501.9L160.0 501.9L161.0 501.9L162.0 501.9L163.0 501.9L164.0 501.8L165.0 501.8L166.0 501.8L167.0 501.8L168.0 501.7L169.0 501.7L170.0 501.6L171.0 501.6L172.0 501.5L173.0 501.4L174.0 501.4L175.0 501.3L176.0 501.2L177.0 501.1L178.0 501.0L179.0 500.9L180.0 500.7L181.0 500.6L182.0 500.4L183.0 500.2L184.0 500.0L185.0 499.8L186.0 499.6L187.0 499.3L188.0 499.0L189.0 498.7L190.0 498.4L191.0 498.1L192.0 497.7L193.0 497.3L194.0 496.9L195.0 496.4L196.0 495.9L197.0 495.4L198.0 494.9L199.0 494.4L200.0 493.8L201.0 493.2L202.0 492.6L203.0 491.9L204.0 491.2L205.0 490.5L206.0 489.8L207.0 489.1L208.0 488.3L209.0 487.5L210.0 486.8L211.0 486.0L212.0 485.2L213.0 484.4L214.0 483.6L215.0 482.8L216.0 482.0L217.0 481.2L218.0 480.5L219.0 479.7L220.0 479.0L221.0 478.3L222.0 477.6L223.0 477.0L224.0 476.4L225.0 475.9L226.0 475.3L227.0 474.9L228.0 474.5L229.0 474.1L230.0 473.8L231.0 473.5L232.0 473.3L233.0 473.2L234.0 473.1L235.0 473.1L236.0 473.1L237.0 473.2L238.0 473.4L239.0 473.6L240.0 473.8L241.0 474.2L242.0 474.5L243.0 475.0L244.0 475.5L245.0 476.0L246.0 476.5L247.0 477.1L248.0 477.8L249.0 478.5L250.0 479.2L251.0 479.9L252.0 480.6L253.0 481.4L254.0 482.2L255.0 483.0L256.0 483.8L257.0 484.6L258.0 485.4L259.0 486.1L260.0 486.9L261.0 487.7L262.0 488.5L263.0 489.2L264.0 490.0L265.0 490.7L266.0 491.4L267.0 492.0L268.0 492.7L269.0 493.3L270.0 493.9L271.0 494.5L272.0 495.0L273.0 495.6L274.0 496.1L275.0 496.5L276.0 497.0L277.0 497.4L278.0 497.8L279.0 498.1L280.0 498.5L281.0 498.8L282.0 499.1L283.0 499.4L284.0 499.6L285.0 499.8L286.0 500.1L287.0 500.3L288.0 500.4L289.0 500.6L290.0 500.8L291.0 500.9L292.0 501.0L293.0 501.1L294.0 501.2L295.0 501.3L296.0 501.4L297.0 501.5L298.0 501.5L299.0 501.6L300.0 501.6L301.0 501.7L302.0 501.7L303.0 501.8L304.0 501.8L305.0 501.8L306.0 501.8L307.0 501.9L308.0 501.9L309.0 501.9L310.0 501.9L311.0 501.9L312.0 501.9L313.0 501.9L314.0 502.0L315.0 502.0L316.0 502.0L317.0 502.0L318.0 502.0L319.0 502.0L320.0 502.0L321.0 502.0L322.0 502.0L323.0 502.0L324.0 502.0L325.0 502.0L326.0 502.0L327.0 502.0L328.0 502.0L329.0 502.0L330.0 502.0L331.0 502.0L332.0 502.0L333.0 502.0L334.0 502.0L335.0 502.0L336.0 502.0L337.0 502.0L338.0 502.0L339.0 502.0L340.0 502.0L341.0 502.0L342.0 502.0L343.0 502.0L344.0 502.0L345.0 502.0L346.0 502.0L347.0 502.0" fill="none" stroke="#208858" stroke-width="1.8"/>
<path d="M32.0 502.0L33.0 502.0L34.0 502.0L35.0 502.0L36.0 502.0L37.0 502.0L38.0 502.0L39.0 502.0L40.0 502.0L41.0 502.0L42.0 502.0L43.0 502.0L44.0 502.0L45.0 502.0L46.0 502.0L47.0 502.0L48.0 502.0L49.0 502.0L50.0 502.0L51.0 502.0L52.0 502.0L53.0 502.0L54.0 502.0L55.0 502.0L56.0 502.0L57.0 502.0L58.0 502.0L59.0 502.0L60.0 502.0L61.0 502.0L62.0 502.0L63.0 502.0L64.0 502.0L65.0 502.0L66.0 502.0L67.0 502.0L68.0 502.0L69.0 502.0L70.0 502.0L71.0 502.0L72.0 502.0L73.0 502.0L74.0 502.0L75.0 502.0L76.0 502.0L77.0 502.0L78.0 502.0L79.0 502.0L80.0 502.0L81.0 502.0L82.0 502.0L83.0 502.0L84.0 502.0L85.0 502.0L86.0 502.0L87.0 502.0L88.0 502.0L89.0 502.0L90.0 502.0L91.0 502.0L92.0 502.0L93.0 502.0L94.0 502.0L95.0 502.0L96.0 502.0L97.0 502.0L98.0 502.0L99.0 502.0L100.0 502.0L101.0 502.0L102.0 502.0L103.0 502.0L104.0 502.0L105.0 502.0L106.0 502.0L107.0 502.0L108.0 502.0L109.0 502.0L110.0 502.0L111.0 502.0L112.0 502.0L113.0 502.0L114.0 502.0L115.0 502.0L116.0 502.0L117.0 502.0L118.0 502.0L119.0 502.0L120.0 502.0L121.0 502.0L122.0 502.0L123.0 502.0L124.0 502.0L125.0 502.0L126.0 502.0L127.0 502.0L128.0 502.0L129.0 502.0L130.0 502.0L131.0 502.0L132.0 502.0L133.0 502.0L134.0 502.0L135.0 502.0L136.0 502.0L137.0 502.0L138.0 502.0L139.0 502.0L140.0 502.0L141.0 502.0L142.0 502.0L143.0 502.0L144.0 502.0L145.0 502.0L146.0 502.0L147.0 502.0L148.0 502.0L149.0 502.0L150.0 502.0L151.0 502.0L152.0 502.0L153.0 502.0L154.0 502.0L155.0 502.0L156.0 502.0L157.0 502.0L158.0 502.0L159.0 502.0L160.0 502.0L161.0 502.0L162.0 502.0L163.0 502.0L164.0 502.0L165.0 502.0L166.0 502.0L167.0 502.0L168.0 502.0L169.0 502.0L170.0 502.0L171.0 502.0L172.0 502.0L173.0 502.0L174.0 502.0L175.0 502.0L176.0 501.9L177.0 501.9L178.0 501.9L179.0 501.9L180.0 501.9L181.0 501.9L182.0 501.9L183.0 501.8L184.0 501.8L185.0 501.8L186.0 501.8L187.0 501.7L188.0 501.7L189.0 501.6L190.0 501.6L191.0 501.5L192.0 501.4L193.0 501.4L194.0 501.3L195.0 501.2L196.0 501.1L197.0 501.0L198.0 500.8L199.0 500.7L200.0 500.6L201.0 500.4L202.0 500.2L203.0 500.0L204.0 499.8L205.0 499.5L206.0 499.3L207.0 499.0L208.0 498.7L209.0 498.4L210.0 498.0L211.0 497.6L212.0 497.3L213.0 496.8L214.0 496.4L215.0 495.9L216.0 495.4L217.0 494.9L218.0 494.3L219.0 493.7L220.0 493.1L221.0 492.5L222.0 491.8L223.0 491.2L224.0 490.5L225.0 489.7L226.0 489.0L227.0 488.2L228.0 487.5L229.0 486.7L230.0 485.9L231.0 485.1L232.0 484.3L233.0 483.5L234.0 482.7L235.0 481.9L236.0 481.2L237.0 480.4L238.0 479.7L239.0 478.9L240.0 478.2L241.0 477.6L242.0 476.9L243.0 476.4L244.0 475.8L245.0 475.3L246.0 474.8L247.0 474.4L248.0 474.1L249.0 473.8L250.0 473.5L251.0 473.3L252.0 473.2L253.0 473.1L254.0 473.1L255.0 473.1L256.0 473.2L257.0 473.4L258.0 473.6L259.0 473.9L260.0 474.2L261.0 474.6L262.0 475.0L263.0 475.5L264.0 476.0L265.0 476.6L266.0 477.2L267.0 477.8L268.0 478.5L269.0 479.2L270.0 480.0L271.0 480.7L272.0 481.5L273.0 482.2L274.0 483.0L275.0 483.8L276.0 484.6L277.0 485.4L278.0 486.2L279.0 487.0L280.0 487.8L281.0 488.5L282.0 489.3L283.0 490.0L284.0 490.7L285.0 491.4L286.0 492.1L287.0 492.8L288.0 493.4L289.0 494.0L290.0 494.5L291.0 495.1L292.0 495.6L293.0 496.1L294.0 496.6L295.0 497.0L296.0 497.4L297.0 497.8L298.0 498.2L299.0 498.5L300.0 498.8L301.0 499.1L302.0 499.4L303.0 499.6L304.0 499.9L305.0 500.1L306.0 500.3L307.0 500.5L308.0 500.6L309.0 500.8L310.0 500.9L311.0 501.0L312.0 501.1L313.0 501.2L314.0 501.3L315.0 501.4L316.0 501.5L317.0 501.5L318.0 501.6L319.0 501.6L320.0 501.7L321.0 501.7L322.0 501.8L323.0 501.8L324.0 501.8L325.0 501.8L326.0 501.9L327.0 501.9L328.0 501.9L329.0 501.9L330.0 501.9L331.0 501.9L332.0 501.9L333.0 502.0L334.0 502.0L335.0 502.0L336.0 502.0L337.0 502.0L338.0 502.0L339.0 502.0L340.0 502.0L341.0 502.0L342.0 502.0L343.0 502.0L344.0 502.0L345.0 502.0L346.0 502.0L347.0 502.0" fill="none" stroke="#880038" stroke-width="1.8"/>
<path d="M32.0 502.0L33.0 502.0L34.0 502.0L35.0 502.0L36.0 502.0L37.0 502.0L38.0 502.0L39.0 502.0L40.0 502.0L41.0 502.0L42.0 502.0L43.0 502.0L44.0 502.0L45.0 502.0L46.0 502.0L47.0 502.0L48.0 502.0L49.0 502.0L50.0 502.0L51.0 502.0L52.0 502.0L53.0 502.0L54.0 502.0L55.0 502.0L56.0 502.0L57.0 502.0L58.0 502.0L59.0 502.0L60.0 502.0L61.0 502.0L62.0 502.0L63.0 502.0L64.0 502.0L65.0 502.0L66.0 502.0L67.0 502.0L68.0 502.0L69.0 502.0L70.0 502.0L71.0 502.0L72.0 502.0L73.0 502.0L74.0 502.0L75.0 502.0L76.0 502.0L77.0 502.0L78.0 502.0L79.0 502.0L80.0 502.0L81.0 502.0L82.0 502.0L83.0 502.0L84.0 502.0L85.0 502.0L86.0 502.0L87.0 502.0L88.0 502.0L89.0 502.0L90.0 502.0L91.0 502.0L92.0 502.0L93.0 502.0L94.0 502.0L95.0 502.0L96.0 502.0L97.0 502.0L98.0 502.0L99.0 502.0L100.0 502.0L101.0 502.0L102.0 502.0L103.0 502.0L104.0 502.0L105.0 502.0L106.0 502.0L107.0 502.0L108.0 502.0L109.0 502.0L110.0 502.0L111.0 502.0L112.0 502.0L113.0 502.0L114.0 502.0L115.0 502.0L116.0 502.0L117.0 502.0L118.0 502.0L119.0 502.0L120.0 502.0L121.0 502.0L122.0 502.0L123.0 502.0L124.0 502.0L125.0 502.0L126.0 502.0L127.0 502.0L128.0 502.0L129.0 502.0L130.0 502.0L131.0 502.0L132.0 502.0L133.0 502.0L134.0 502.0L135.0 502.0L136.0 502.0L137.0 502.0L138.0 502.0L139.0 502.0L140.0 502.0L141.0 502.0L142.0 502.0L143.0 502.0L144.0 502.0L145.0 502.0L146.0 502.0L147.0 502.0L148.0 502.0L149.0 502.0L150.0 502.0L151.0 502.0L152.0 502.0L153.0 502.0L154.0 502.0L155.0 502.0L156.0 502.0L157.0 502.0L158.0 502.0L159.0 502.0L160.0 502.0L161.0 502.0L162.0 502.0L163.0 502.0L164.0 502.0L165.0 502.0L166.0 502.0L167.0 502.0L168.0 502.0L169.0 502.0L170.0 502.0L171.0 502.0L172.0 502.0L173.0 502.0L174.0 502.0L175.0 502.0L176.0 502.0L177.0 502.0L178.0 502.0L179.0 502.0L180.0 502.0L181.0 502.0L182.0 502.0L183.0 502.0L184.0 502.0L185.0 502.0L186.0 502.0L187.0 502.0L188.0 502.0L189.0 502.0L190.0 502.0L191.0 502.0L192.0 502.0L193.0 502.0L194.0 502.0L195.0 502.0L196.0 501.9L197.0 501.9L198.0 501.9L199.0 501.9L200.0 501.9L201.0 501.9L202.0 501.9L203.0 501.8L204.0 501.8L205.0 501.8L206.0 501.8L207.0 501.7L208.0 501.7L209.0 501.6L210.0 501.6L211.0 501.5L212.0 501.4L213.0 501.4L214.0 501.3L215.0 501.2L216.0 501.1L217.0 501.0L218.0 500.8L219.0 500.7L220.0 500.5L221.0 500.4L222.0 500.2L223.0 500.0L224.0 499.7L225.0 499.5L226.0 499.2L227.0 499.0L228.0 498.6L229.0 498.3L230.0 497.9L231.0 497.6L232.0 497.2L233.0 496.7L234.0 496.3L235.0 495.8L236.0 495.2L237.0 494.7L238.0 494.1L239.0 493.5L240.0 492.9L241.0 492.2L242.0 491.6L243.0 490.9L244.0 490.1L245.0 489.4L246.0 488.6L247.0 487.9L248.0 487.1L249.0 486.3L250.0 485.5L251.0 484.6L252.0 483.8L253.0 483.0L254.0 482.2L255.0 481.4L256.0 480.6L257.0 479.8L258.0 479.1L259.0 478.4L260.0 477.7L261.0 477.0L262.0 476.4L263.0 475.8L264.0 475.2L265.0 474.7L266.0 474.3L267.0 473.9L268.0 473.6L269.0 473.3L270.0 473.1L271.0 472.9L272.0 472.8L273.0 472.7L274.0 472.8L275.0 472.8L276.0 473.0L277.0 473.2L278.0 473.5L279.0 473.8L280.0 474.1L281.0 474.6L282.0 475.1L283.0 475.6L284.0 476.2L285.0 476.8L286.0 477.4L287.0 478.1L288.0 478.8L289.0 479.6L290.0 480.3L291.0 481.1L292.0 481.9L293.0 482.7L294.0 483.5L295.0 484.3L296.0 485.1L297.0 486.0L298.0 486.8L299.0 487.6L300.0 488.3L301.0 489.1L302.0 489.9L303.0 490.6L304.0 491.3L305.0 492.0L306.0 492.7L307.0 493.3L308.0 493.9L309.0 494.5L310.0 495.0L311.0 495.6L312.0 496.1L313.0 496.5L314.0 497.0L315.0 497.4L316.0 497.8L317.0 498.2L318.0 498.5L319.0 498.8L320.0 499.1L321.0 499.4L322.0 499.7L323.0 499.9L324.0 500.1L325.0 500.3L326.0 500.5L327.0 500.6L328.0 500.8L329.0 500.9L330.0 501.0L331.0 501.2L332.0 501.3L333.0 501.3L334.0 501.4L335.0 501.5L336.0 501.6L337.0 501.6L338.0 501.7L339.0 501.7L340.0 501.7L341.0 501.8L342.0 501.8L343.0 501.8L344.0 501.9L345.0 501.9L346.0 501.9L347.0 501.9" fill="none" stroke="#ff60b0" stroke-width="1.8"/>
</g>
<clipPath id="cD"><rect x="387.5" y="292.4" width="316.1" height="213.0"/></clipPath>
<g clip-path="url(#cD)">
<path d="M390 504.4V487.7H391V492.9H392V491.7H393V495.2H394V494.1H395V495.2H396V491.7H397V494.4H398V496.4H399V493.3H400V492.9H401V493.3H402V497.2H403V494.8H404V496.4H405V497.6H406V496.4H407V500.0H408V496.4H409V494.1H410V496.4H411V496.0H412V498.8H413V496.0H414V496.0H415V496.8H416V496.4H417V497.6H418V499.2H419V497.6H420V496.4H421V497.2H422V500.4H423V499.2H424V496.4H425V498.8H426V497.2H427V498.8H428V500.8H429V499.2H430V498.8H431V501.6H432V500.8H433V502.0H434V502.8H435V500.4H436V502.0H437V503.2H438V503.6H439V502.4H440V502.8H441V503.2H442V503.6H443V504.4" fill="#5a00b4"/>
<path d="M390 504.4V416.0H391V424.8H392V414.5H393V428.0H394V423.6H395V435.9H396V429.6H397V435.5H398V434.4H399V440.7H400V439.1H401V446.7H402V446.7H403V453.1H404V449.5H405V459.8H406V450.7H407V455.8H408V462.2H409V465.4H410V467.0H411V461.0H412V466.6H413V465.0H414V470.2H415V472.6H416V472.6H417V476.5H418V476.1H419V477.3H420V480.5H421V478.1H422V484.5H423V480.9H424V483.7H425V478.9H426V485.3H427V485.7H428V487.3H429V489.7H430V488.9H431V490.9H432V490.9H433V491.7H434V493.7H435V493.3H436V493.7H437V493.7H438V495.2H439V496.0H440V496.8H441V498.4H442V498.0H443V500.0H444V496.4H445V500.0H446V500.4H447V501.2H448V501.6H449V500.8H450V501.2H451V502.0H452V502.0H453V501.2H454V502.4H455V503.2H456V504.0H457V504.4" fill="#5aa014"/>
<path d="M390 504.4V443.9H391V455.8H392V451.1H393V449.9H394V446.3H395V449.1H396V450.3H397V445.5H398V449.1H399V451.1H400V453.5H401V443.5H402V447.1H403V451.1H404V455.4H405V449.5H406V451.1H407V452.3H408V445.9H409V448.7H410V453.9H411V448.3H412V446.3H413V447.9H414V449.1H415V453.9H416V453.1H417V453.5H418V459.4H419V462.2H420V465.0H421V471.8H422V471.4H423V476.5H424V480.1H425V485.3H426V480.9H427V480.5H428V484.9H429V490.1H430V484.5H431V490.1H432V490.9H433V493.7H434V493.7H435V496.0H436V495.2H437V496.4H438V495.2H439V500.0H440V498.8H441V502.4H442V502.8H443V503.6H444V504.4" fill="#000000"/>
<path d="M390 504.4V484.9H391V481.7H392V481.3H393V483.3H394V478.1H395V474.5H396V477.3H397V478.5H398V474.2H399V473.8H400V465.0H401V469.0H402V473.0H403V467.0H404V466.2H405V462.2H406V468.6H407V462.2H408V465.0H409V460.6H410V460.6H411V462.6H412V465.4H413V455.4H414V460.2H415V461.8H416V459.0H417V459.0H418V448.3H419V455.4H420V442.7H421V454.6H422V457.4H423V465.8H424V461.4H425V467.4H426V473.4H427V474.9H428V468.2H429V468.6H430V471.8H431V466.6H432V479.3H433V477.7H434V476.9H435V479.7H436V483.3H437V486.1H438V482.9H439V488.5H440V486.5H441V484.5H442V486.5H443V490.5H444V490.9H445V492.1H446V493.7H447V492.1H448V493.3H449V493.3H450V494.1H451V494.1H452V492.9H453V494.4H454V498.4H455V500.0H456V493.3H457V498.8H458V498.4H459V498.8H460V500.4H461V500.8H462V501.6H463V502.0H464V501.6H465V502.0H466V502.4H467V502.0H468V502.4H469V503.6H470V504.0H471V504.4" fill="#5afaaa"/>
<path d="M417 504.4V490.9H418V490.9H419V490.1H420V484.5H421V489.3H422V486.1H423V481.3H424V479.7H425V477.3H426V477.3H427V472.6H428V471.0H429V477.3H430V474.9H431V477.3H432V465.4H433V469.4H434V464.6H435V463.8H436V463.8H437V453.5H438V454.3H439V455.0H440V455.0H441V463.0H442V458.2H443V455.8H444V465.4H445V457.4H446V447.9H447V452.7H448V451.1H449V451.9H450V448.7H451V446.3H452V447.9H453V460.6H454V459.0H455V457.4H456V455.8H457V459.0H458V456.6H459V459.8H460V460.6H461V454.3H462V456.6H463V451.9H464V457.4H465V467.0H466V471.8H467V468.6H468V469.4H469V479.7H470V479.7H471V484.5H472V478.9H473V484.5H474V481.3H475V478.9H476V479.7H477V486.1H478V485.3H479V492.5H480V490.9H481V491.7H482V490.9H483V491.7H484V491.7H485V491.7H486V493.3H487V498.0H488V494.8H489V498.8H490V498.0H491V497.2H492V498.0H493V502.8H494V502.0H495V502.8H496V502.0H497V502.8H498V503.6H499V504.4" fill="#145ab4"/>
<path d="M417 504.4V498.8H418V499.2H419V496.4H420V495.2H421V495.2H422V496.0H423V495.2H424V492.9H425V493.3H426V493.3H427V491.7H428V486.5H429V484.5H430V490.1H431V481.3H432V484.5H433V489.3H434V484.1H435V482.1H436V478.1H437V484.1H438V479.7H439V480.9H440V478.5H441V474.5H442V472.2H443V471.4H444V474.5H445V475.3H446V470.6H447V471.4H448V465.8H449V465.4H450V465.8H451V468.6H452V457.8H453V464.6H454V467.4H455V460.2H456V461.4H457V459.4H458V457.0H459V457.8H460V465.4H461V464.2H462V457.4H463V463.0H464V463.4H465V460.6H466V460.6H467V463.0H468V463.8H469V465.4H470V459.4H471V467.0H472V468.6H473V464.2H474V463.8H475V465.0H476V469.4H477V474.2H478V473.0H479V476.5H480V474.9H481V478.5H482V483.7H483V482.5H484V480.5H485V482.5H486V485.3H487V485.7H488V487.3H489V484.9H490V490.1H491V489.3H492V490.5H493V492.9H494V492.5H495V493.3H496V494.4H497V496.8H498V494.8H499V498.0H500V494.8H501V497.6H502V497.2H503V497.6H504V499.6H505V499.6H506V502.0H507V500.8H508V501.2H509V502.4H510V502.4H511V503.6H512V502.8H513V504.0H514V504.0H515V504.4" fill="#c4f464"/>
<path d="M390 504.4V478.9H391V486.1H392V482.5H393V483.3H394V478.9H395V475.3H396V482.1H397V477.3H398V477.7H399V475.7H400V474.5H401V471.8H402V478.1H403V470.2H404V472.6H405V473.8H406V469.8H407V470.6H408V473.0H409V471.0H410V470.2H411V466.6H412V469.4H413V463.0H414V468.6H415V460.2H416V468.6H417V465.4H418V467.8H419V458.2H420V469.0H421V466.6H422V465.0H423V470.6H424V466.6H425V461.0H426V469.4H427V470.2H428V468.6H429V471.8H430V469.0H431V467.4H432V473.0H433V468.6H434V467.8H435V472.2H436V465.8H437V471.4H438V472.6H439V470.6H440V477.3H441V467.8H442V475.3H443V475.3H444V476.1H445V470.2H446V472.6H447V474.9H448V475.3H449V473.0H450V473.4H451V481.7H452V473.8H453V478.1H454V480.5H455V476.5H456V481.7H457V479.7H458V473.0H459V477.3H460V472.2H461V478.9H462V479.3H463V478.9H464V477.7H465V475.7H466V478.5H467V478.9H468V478.5H469V480.1H470V476.9H471V479.7H472V480.1H473V477.3H474V477.3H475V482.1H476V480.9H477V480.5H478V483.7H479V480.9H480V482.5H481V476.9H482V482.1H483V484.1H484V484.1H485V480.5H486V480.9H487V481.3H488V481.3H489V487.3H490V486.5H491V483.7H492V481.7H493V485.3H494V488.1H495V490.1H496V488.5H497V488.5H498V490.5H499V492.9H500V488.5H501V492.5H502V488.1H503V490.9H504V491.7H505V495.2H506V492.9H507V497.2H508V496.8H509V491.7H510V497.2H511V497.6H512V496.4H513V498.4H514V500.0H515V499.6H516V502.0H517V502.8H518V503.2H519V504.0H520V504.4" fill="#62b2f8"/>
<path d="M395 504.4V498.8H396V492.5H397V490.5H398V490.5H399V486.1H400V480.1H401V486.9H402V480.1H403V481.3H404V480.1H405V474.9H406V474.9H407V470.6H408V480.9H409V470.2H410V467.8H411V473.4H412V461.4H413V463.0H414V463.8H415V455.0H416V456.6H417V455.4H418V452.3H419V462.2H420V458.2H421V451.9H422V455.8H423V457.0H424V455.4H425V454.3H426V457.0H427V453.9H428V457.0H429V452.3H430V463.0H431V457.0H432V456.2H433V455.0H434V449.5H435V445.1H436V455.8H437V461.4H438V447.1H439V462.6H440V465.8H441V476.5H442V474.5H443V474.2H444V479.3H445V480.9H446V478.9H447V481.3H448V478.1H449V482.5H450V483.3H451V486.5H452V489.3H453V490.1H454V490.5H455V490.1H456V492.5H457V489.3H458V490.1H459V494.4H460V489.7H461V490.9H462V493.7H463V490.1H464V498.0H465V498.0H466V494.1H467V497.2H468V499.2H469V499.6H470V499.6H471V500.0H472V500.4H473V502.4H474V500.4H475V500.4H476V502.4H477V502.0H478V502.4H479V503.2H480V502.0H481V503.6H482V503.2H483V503.6H484V504.0H485V504.4" fill="#14ff14"/>
<path d="M412 504.4V497.6H413V495.2H414V491.3H415V492.1H416V488.1H417V488.5H418V488.5H419V488.9H420V482.9H421V484.9H422V485.3H423V480.5H424V482.5H425V482.1H426V480.1H427V479.3H428V484.5H429V481.3H430V476.9H431V476.5H432V469.8H433V474.5H434V472.6H435V475.3H436V474.9H437V470.6H438V474.5H439V465.8H440V471.8H441V469.4H442V462.2H443V471.0H444V469.8H445V469.4H446V463.4H447V465.8H448V466.6H449V462.6H450V463.8H451V461.0H452V467.0H453V462.6H454V470.6H455V478.5H456V478.1H457V481.7H458V481.7H459V487.3H460V487.3H461V490.1H462V488.5H463V491.3H464V494.4H465V496.8H466V495.6H467V493.3H468V496.0H469V492.9H470V496.4H471V496.0H472V498.4H473V498.4H474V499.6H475V498.4H476V501.6H477V500.0H478V502.0H479V501.6H480V502.0H481V504.0H482V502.4H483V503.6H484V503.6H485V504.4" fill="#ff5ab4"/>
<path d="M390 504.4V483.7H391V483.3H392V483.3H393V483.3H394V484.5H395V489.3H396V494.4H397V496.0H398V496.8H399V496.8H400V493.7H401V495.2H402V498.8H403V494.4H404V499.2H405V495.2H406V497.6H407V499.2H408V497.2H409V498.4H410V494.8H411V498.8H412V498.8H413V499.6H414V495.6H415V497.6H416V498.8H417V499.6H418V500.0H419V497.2H420V496.8H421V496.8H422V496.0H423V494.4H424V494.4H425V492.9H426V493.3H427V490.5H428V489.3H429V492.5H430V490.9H431V491.3H432V487.3H433V489.7H434V486.5H435V487.7H436V486.1H437V488.5H438V483.3H439V486.9H440V479.3H441V482.1H442V482.9H443V477.7H444V476.1H445V482.1H446V479.3H447V479.3H448V481.7H449V481.3H450V479.3H451V474.9H452V477.7H453V479.3H454V480.5H455V477.3H456V480.5H457V482.9H458V478.5H459V477.3H460V482.9H461V479.7H462V480.1H463V478.1H464V481.3H465V482.1H466V479.7H467V478.9H468V481.7H469V481.7H470V480.5H471V482.9H472V482.9H473V481.7H474V482.9H475V486.5H476V492.1H477V491.3H478V492.1H479V492.1H480V497.6H481V492.1H482V494.4H483V493.7H484V494.1H485V490.9H486V496.0H487V497.6H488V492.1H489V496.4H490V497.2H491V494.8H492V499.6H493V498.4H494V499.6H495V501.6H496V499.6H497V501.2H498V500.4H499V502.8H500V502.4H501V503.2H502V503.2H503V504.0H504V504.4" fill="#b00058"/>
<path d="M390 504.4V496.0H391V492.8H392V493.4H393V494.3H394V491.9H395V493.4H396V493.7H397V493.4H398V494.3H399V492.8H400V494.0H401V495.1H402V494.5H403V494.5H404V495.7H405V494.3H406V491.3H407V492.8H408V494.0H409V493.1H410V494.8H411V495.1H412V493.7H413V495.1H414V492.2H415V494.8H416V491.6H417V489.8H418V492.8H419V492.5H420V492.8H421V495.7H422V493.4H423V493.1H424V495.4H425V493.7H426V492.2H427V494.0H428V495.7H429V493.1H430V492.8H431V493.7H432V492.2H433V495.1H434V493.4H435V496.0H436V496.0H437V495.1H438V494.3H439V493.7H440V494.5H441V496.3H442V493.7H443V495.4H444V494.8H445V494.5H446V494.8H447V496.9H448V493.1H449V494.8H450V494.0H451V494.3H452V493.7H453V495.7H454V494.5H455V493.7H456V496.0H457V492.8H458V496.3H459V494.0H460V493.4H461V491.3H462V494.5H463V494.0H464V494.5H465V492.2H466V494.5H467V494.0H468V494.5H469V495.4H470V494.5H471V494.8H472V495.4H473V496.3H474V496.6H475V496.9H476V498.1H477V498.4H478V498.7H479V499.3H480V498.1H481V495.7H482V497.8H483V498.1H484V498.1H485V500.2H486V497.5H487V499.6H488V499.9H489V500.8H490V499.6H491V500.8H492V500.2H493V500.2H494V500.5H495V501.7H496V502.3H497V501.4H498V501.4H499V502.0H500V502.6H501V502.0H502V501.7H503V502.3H504V501.4H505V502.6H506V503.5H507V502.9H508V503.8H509V503.8H510V503.5H511V504.4" fill="#14a864"/>
<path d="M403 504.4V502.8H404V500.4H405V502.8H406V498.8H407V499.6H408V502.0H409V498.8H410V499.6H411V500.4H412V503.6H413V502.0H414V497.2H415V500.4H416V502.0H417V499.6H418V500.4H419V500.4H420V502.8H421V498.8H422V502.0H423V498.0H424V499.6H425V502.8H426V501.2H427V500.4H428V499.6H429V501.2H430V498.8H431V497.2H432V501.2H433V499.6H434V500.4H435V498.0H436V500.4H437V498.0H438V498.8H439V501.2H440V498.0H441V498.8H442V499.6H443V498.8H444V501.2H445V498.8H446V501.2H447V499.6H448V498.8H449V499.6H450V498.0H451V500.4H452V498.0H453V500.4H454V498.0H455V501.2H456V500.4H457V501.2H458V499.6H459V498.8H460V500.4H461V498.0H462V498.0H463V499.6H464V499.6H465V498.0H466V498.8H467V498.0H468V498.0H469V498.8H470V502.0H471V498.0H472V499.6H473V499.6H474V498.0H475V498.8H476V497.2H477V499.6H478V499.6H479V499.6H480V498.8H481V498.0H482V498.0H483V500.4H484V500.4H485V497.2H486V499.6H487V497.2H488V499.6H489V497.2H490V498.8H491V501.2H492V496.4H493V497.2H494V496.4H495V498.8H496V497.2H497V499.6H498V498.8H499V496.4H500V495.6H501V498.8H502V499.6H503V498.8H504V498.8H505V500.4H506V498.0H507V499.6H508V501.2H509V498.8H510V501.2H511V501.2H512V500.4H513V499.6H514V498.8H515V499.6H516V502.8H517V499.6H518V501.2H519V498.8H520V502.8H521V502.0H522V498.8H523V501.2H524V499.6H525V502.8H526V501.2H527V502.0H528V502.0H529V503.6H530V502.0H531V502.8H532V502.0H533V502.8H534V503.6H535V502.8H536V504.4M538 504.4V503.6H539V504.4M648 504.4V502.8H649V503.6H650V503.6H651V503.6H652V502.0H653V502.8H654V502.8H655V503.6H656V501.2H657V501.2H658V501.2H659V502.0H660V502.8H661V501.2H662V500.4H663V499.6H664V500.4H665V502.0H666V499.6H667V500.4H668V499.6H669V501.2H670V499.6H671V498.0H672V500.4H673V501.2H674V500.4H675V499.6H676V501.2H677V502.8H678V500.4H679V500.4H680V499.6H681V499.6H682V496.4H683V501.2H684V501.2H685V501.2H686V499.6H687V498.8H688V503.6H689V501.2H690V500.4H691V503.6H692V503.6H693V504.4" fill="#b464ff"/>
<path d="M471 504.4V502.9H472V499.9H473V499.9H474V501.4H475V499.9H476V501.4H477V501.4H478V499.9H479V496.9H480V496.9H481V499.9H482V496.9H483V499.9H484V488.0H485V501.4H486V498.4H487V499.9H488V494.0H489V491.0H490V488.0H491V498.4H492V494.0H493V495.4H494V495.4H495V499.9H496V488.0H497V496.9H498V494.0H499V498.4H500V498.4H501V499.9H502V494.0H503V496.9H504V488.0H505V489.5H506V488.0H507V485.0H508V491.0H509V491.0H510V492.5H511V486.5H512V489.5H513V496.9H514V492.5H515V494.0H516V495.4H517V492.5H518V491.0H519V482.0H520V486.5H521V492.5H522V498.4H523V492.5H524V488.0H525V489.5H526V501.4H527V494.0H528V498.4H529V494.0H530V494.0H531V495.4H532V492.5H533V492.5H534V495.4H535V496.9H536V496.9H537V498.4H538V498.4H539V501.4H540V496.9H541V499.9H542V499.9H543V496.9H544V501.4H545V499.9H546V496.9H547V501.4H548V504.4M549 504.4V502.9H550V498.4H551V504.4M663 504.4V502.9H664V502.9H665V501.4H666V501.4H667V501.4H668V502.9H669V499.9H670V499.9H671V499.9H672V496.9H673V502.9H674V495.4H675V499.9H676V498.4H677V501.4H678V499.9H679V504.4M680 504.4V501.4H681V501.4H682V502.9H683V501.4H684V502.9H685V502.9H686V504.4" fill="#b4b4b4"/>
<path d="M501 504.4V495.4H502V486.5H503V504.4M504 504.4V486.5H505V495.4H506V495.4H507V504.4M509 504.4V495.4H510V477.5H511V504.4M512 504.4V495.4H513V495.4H514V486.5H515V486.5H516V504.4M517 504.4V486.5H518V495.4H519V486.5H520V477.5H521V477.5H522V477.5H523V486.5H524V477.5H525V495.4H526V495.4H527V468.6H528V486.5H529V495.4H530V504.4M531 504.4V486.5H532V477.5H533V486.5H534V486.5H535V477.5H536V468.6H537V468.6H538V459.6H539V477.5H540V477.5H541V459.6H542V432.8H543V468.6H544V459.6H545V459.6H546V450.7H547V432.8H548V459.6H549V450.7H550V441.7H551V459.6H552V432.8H553V441.7H554V441.7H555V450.7H556V441.7H557V441.7H558V441.7H559V450.7H560V432.8H561V432.8H562V432.8H563V432.8H564V432.8H565V432.8H566V432.8H567V414.8H568V423.8H569V423.8H570V423.8H571V423.8H572V414.8H573V423.8H574V459.6H575V432.8H576V432.8H577V423.8H578V441.7H579V414.8H580V423.8H581V450.7H582V423.8H583V432.8H584V441.7H585V423.8H586V441.7H587V423.8H588V459.6H589V423.8H590V432.8H591V450.7H592V414.8H593V441.7H594V450.7H595V423.8H596V441.7H597V423.8H598V432.8H599V423.8H600V450.7H601V423.8H602V423.8H603V441.7H604V432.8H605V432.8H606V459.6H607V441.7H608V432.8H609V450.7H610V441.7H611V459.6H612V423.8H613V441.7H614V450.7H615V441.7H616V441.7H617V441.7H618V432.8H619V441.7H620V450.7H621V441.7H622V450.7H623V441.7H624V441.7H625V468.6H626V432.8H627V432.8H628V441.7H629V450.7H630V441.7H631V441.7H632V459.6H633V468.6H634V450.7H635V441.7H636V459.6H637V441.7H638V450.7H639V450.7H640V441.7H641V450.7H642V441.7H643V468.6H644V432.8H645V459.6H646V477.5H647V441.7H648V459.6H649V468.6H650V450.7H651V477.5H652V468.6H653V495.4H654V477.5H655V477.5H656V495.4H657V477.5H658V495.4H659V504.4" fill="#f8a850"/>
<path d="M537 504.4V479.5H538V504.4M539 504.4V492.0H540V492.0H541V504.4M542 504.4V492.0H543V492.0H544V492.0H545V479.5H546V467.1H547V454.6H548V467.1H549V492.0H550V504.4M551 504.4V492.0H552V454.6H553V492.0H554V492.0H555V504.4M556 504.4V467.1H557V492.0H558V467.1H559V454.6H560V454.6H561V454.6H562V467.1H563V442.2H564V467.1H565V467.1H566V442.2H567V429.8H568V417.3H569V429.8H570V429.8H571V417.3H572V417.3H573V417.3H574V442.2H575V380.0H576V417.3H577V335.2H578V404.9H579V392.5H580V404.9H581V392.5H582V380.0H583V380.0H584V392.5H585V380.0H586V380.0H587V392.5H588V392.5H589V404.9H590V392.5H591V392.5H592V417.3H593V380.0H594V380.0H595V392.5H596V404.9H597V392.5H598V429.8H599V417.3H600V404.9H601V417.3H602V417.3H603V392.5H604V417.3H605V417.3H606V429.8H607V417.3H608V417.3H609V454.6H610V429.8H611V429.8H612V429.8H613V417.3H614V454.6H615V454.6H616V442.2H617V429.8H618V454.6H619V429.8H620V442.2H621V442.2H622V442.2H623V467.1H624V479.5H625V454.6H626V454.6H627V454.6H628V442.2H629V467.1H630V479.5H631V454.6H632V467.1H633V467.1H634V492.0H635V467.1H636V479.5H637V479.5H638V504.4M639 504.4V479.5H640V454.6H641V467.1H642V492.0H643V467.1H644V492.0H645V492.0H646V504.4M647 504.4V492.0H648V492.0H649V479.5H650V504.4M653 504.4V492.0H654V492.0H655V504.4M656 504.4V479.5H657V479.5H658V492.0H659V492.0H660V504.4M661 504.4V492.0H662V467.1H663V492.0H664V504.4M665 504.4V479.5H666V479.5H667V479.5H668V504.4M671 504.4V479.5H672V467.1H673V479.5H674V492.0H675V492.0H676V492.0H677V492.0H678V492.0H679V479.5H680V467.1H681V492.0H682V504.4M685 504.4V479.5H686V492.0H687V504.4" fill="#ffff00"/>
<path d="M567 504.4V479.4H568V479.4H569V479.4H570V479.4H571V454.5H572V454.5H573V504.4M574 504.4V454.5H575V479.4H576V454.5H577V479.4H578V479.4H579V454.5H580V454.5H581V454.5H582V454.5H583V479.4H584V429.5H585V404.5H586V429.5H587V454.5H588V404.5H589V429.5H590V429.5H591V404.5H592V429.5H593V379.5H594V404.5H595V379.5H596V404.5H597V354.6H598V354.6H599V404.5H600V379.5H601V379.5H602V379.5H603V379.5H604V354.6H605V354.6H606V329.6H607V329.6H608V329.6H609V304.6H610V329.6H611V329.6H612V354.6H613V379.5H614V379.5H615V354.6H616V329.6H617V329.6H618V354.6H619V379.5H620V354.6H621V354.6H622V379.5H623V379.5H624V379.5H625V379.5H626V354.6H627V404.5H628V404.5H629V429.5H630V404.5H631V404.5H632V404.5H633V429.5H634V429.5H635V404.5H636V429.5H637V404.5H638V429.5H639V454.5H640V429.5H641V454.5H642V454.5H643V454.5H644V454.5H645V454.5H646V454.5H647V479.4H648V479.4H649V479.4H650V454.5H651V454.5H652V479.4H653V479.4H654V479.4H655V479.4H656V454.5H657V504.4" fill="#ff00ff"/>
</g>
<rect x="49.6" y="29.7" width="59.1" height="118.7" fill="#fff" stroke="#888888" stroke-width="0.8"/>
<path d="M49.6 46.5H108.7" stroke="#888888" stroke-width="0.8"/>
<text transform="translate(79.15 37.00) scale(1 1.150)" font-size="5.70" text-anchor="middle" font-weight="bold" stroke="#1a1a1a" stroke-width="0.18" fill="#1a1a1a">Spiking LeNet-5</text>
<text transform="translate(79.15 45.20) scale(1 1.150)" font-size="5.70" text-anchor="middle" font-weight="bold" stroke="#1a1a1a" stroke-width="0.18" fill="#1a1a1a">avg 0b analog T=20</text>
<path d="M59.8 51.4H72.7" stroke="#9c66d2" stroke-width="1.2"/>
<text transform="translate(74.20 54.10) scale(1 1.100)" font-size="5.75" stroke="#1a1a1a" stroke-width="0.08" fill="#1a1a1a">count=0</text>
<path d="M59.8 59.1H72.7" stroke="#9cc672" stroke-width="1.2"/>
<text transform="translate(74.20 61.84) scale(1 1.100)" font-size="5.75" stroke="#1a1a1a" stroke-width="0.08" fill="#1a1a1a">count=1</text>
<path d="M59.8 66.9H72.7" stroke="#666666" stroke-width="1.2"/>
<text transform="translate(74.20 69.58) scale(1 1.100)" font-size="5.75" stroke="#1a1a1a" stroke-width="0.08" fill="#1a1a1a">count=2</text>
<path d="M59.8 74.6H72.7" stroke="#9cfccc" stroke-width="1.2"/>
<text transform="translate(74.20 77.32) scale(1 1.100)" font-size="5.75" stroke="#1a1a1a" stroke-width="0.08" fill="#1a1a1a">count=3</text>
<path d="M59.8 82.4H72.7" stroke="#729cd2" stroke-width="1.2"/>
<text transform="translate(74.20 85.06) scale(1 1.100)" font-size="5.75" stroke="#1a1a1a" stroke-width="0.08" fill="#1a1a1a">count=4</text>
<path d="M59.8 90.1H72.7" stroke="#dbf8a2" stroke-width="1.2"/>
<text transform="translate(74.20 92.80) scale(1 1.100)" font-size="5.75" stroke="#1a1a1a" stroke-width="0.08" fill="#1a1a1a">count=5</text>
<path d="M59.8 97.8H72.7" stroke="#a0d0fa" stroke-width="1.2"/>
<text transform="translate(74.20 100.54) scale(1 1.100)" font-size="5.75" stroke="#1a1a1a" stroke-width="0.08" fill="#1a1a1a">count=6</text>
<path d="M59.8 105.6H72.7" stroke="#72ff72" stroke-width="1.2"/>
<text transform="translate(74.20 108.28) scale(1 1.100)" font-size="5.75" stroke="#1a1a1a" stroke-width="0.08" fill="#1a1a1a">count=7</text>
<path d="M59.8 113.3H72.7" stroke="#ff9cd2" stroke-width="1.2"/>
<text transform="translate(74.20 116.02) scale(1 1.100)" font-size="5.75" stroke="#1a1a1a" stroke-width="0.08" fill="#1a1a1a">count=8</text>
<path d="M59.8 121.1H72.7" stroke="#cf669a" stroke-width="1.2"/>
<text transform="translate(74.20 123.76) scale(1 1.100)" font-size="5.75" stroke="#1a1a1a" stroke-width="0.08" fill="#1a1a1a">count=9</text>
<path d="M59.8 128.8H72.7" stroke="#72caa2" stroke-width="1.2"/>
<text transform="translate(74.20 131.50) scale(1 1.100)" font-size="5.75" stroke="#1a1a1a" stroke-width="0.08" fill="#1a1a1a">count=10</text>
<path d="M59.8 136.5H72.7" stroke="#d2a2ff" stroke-width="1.2"/>
<text transform="translate(74.20 139.24) scale(1 1.100)" font-size="5.75" stroke="#1a1a1a" stroke-width="0.08" fill="#1a1a1a">count=11</text>
<path d="M59.8 144.3H72.7" stroke="#d2d2d2" stroke-width="1.2"/>
<text transform="translate(74.20 146.98) scale(1 1.100)" font-size="5.75" stroke="#1a1a1a" stroke-width="0.08" fill="#1a1a1a">count=12</text>
<rect x="412.6" y="21.1" width="59.8" height="118.1" fill="#fff" stroke="#888888" stroke-width="0.8"/>
<path d="M412.6 38.5H472.4" stroke="#888888" stroke-width="0.8"/>
<text transform="translate(442.50 28.50) scale(1 1.150)" font-size="5.70" text-anchor="middle" font-weight="bold" stroke="#1a1a1a" stroke-width="0.18" fill="#1a1a1a">Spiking-LeNet-5</text>
<text transform="translate(442.50 36.60) scale(1 1.150)" font-size="5.70" text-anchor="middle" font-weight="bold" stroke="#1a1a1a" stroke-width="0.18" fill="#1a1a1a">avg 0b Poisson T=20</text>
<path d="M422.9 43.2H436.1" stroke="#833fc6" stroke-width="1.0"/>
<text transform="translate(437.10 45.90) scale(1 1.100)" font-size="5.75" stroke="#1a1a1a" stroke-width="0.08" fill="#1a1a1a">count=0</text>
<path d="M422.9 50.8H436.1" stroke="#83b74e" stroke-width="1.0"/>
<text transform="translate(437.10 53.54) scale(1 1.100)" font-size="5.75" stroke="#1a1a1a" stroke-width="0.08" fill="#1a1a1a">count=1</text>
<path d="M422.9 58.5H436.1" stroke="#3f3f3f" stroke-width="1.0"/>
<text transform="translate(437.10 61.18) scale(1 1.100)" font-size="5.75" stroke="#1a1a1a" stroke-width="0.08" fill="#1a1a1a">count=2</text>
<path d="M422.9 66.1H436.1" stroke="#83fbbf" stroke-width="1.0"/>
<text transform="translate(437.10 68.82) scale(1 1.100)" font-size="5.75" stroke="#1a1a1a" stroke-width="0.08" fill="#1a1a1a">count=3</text>
<path d="M422.9 73.8H436.1" stroke="#4e83c6" stroke-width="1.0"/>
<text transform="translate(437.10 76.46) scale(1 1.100)" font-size="5.75" stroke="#1a1a1a" stroke-width="0.08" fill="#1a1a1a">count=4</text>
<path d="M422.9 81.4H436.1" stroke="#d2f68a" stroke-width="1.0"/>
<text transform="translate(437.10 84.10) scale(1 1.100)" font-size="5.75" stroke="#1a1a1a" stroke-width="0.08" fill="#1a1a1a">count=5</text>
<path d="M422.9 89.0H436.1" stroke="#89c5f9" stroke-width="1.0"/>
<text transform="translate(437.10 91.74) scale(1 1.100)" font-size="5.75" stroke="#1a1a1a" stroke-width="0.08" fill="#1a1a1a">count=6</text>
<path d="M422.9 96.7H436.1" stroke="#4eff4e" stroke-width="1.0"/>
<text transform="translate(437.10 99.38) scale(1 1.100)" font-size="5.75" stroke="#1a1a1a" stroke-width="0.08" fill="#1a1a1a">count=7</text>
<path d="M422.9 104.3H436.1" stroke="#ff83c6" stroke-width="1.0"/>
<text transform="translate(437.10 107.02) scale(1 1.100)" font-size="5.75" stroke="#1a1a1a" stroke-width="0.08" fill="#1a1a1a">count=8</text>
<path d="M422.9 112.0H436.1" stroke="#c33f81" stroke-width="1.0"/>
<text transform="translate(437.10 114.66) scale(1 1.100)" font-size="5.75" stroke="#1a1a1a" stroke-width="0.08" fill="#1a1a1a">count=9</text>
<path d="M422.9 119.6H436.1" stroke="#4ebd8a" stroke-width="1.0"/>
<text transform="translate(437.10 122.30) scale(1 1.100)" font-size="5.75" stroke="#1a1a1a" stroke-width="0.08" fill="#1a1a1a">count=10</text>
<path d="M422.9 127.2H436.1" stroke="#c68aff" stroke-width="1.0"/>
<text transform="translate(437.10 129.94) scale(1 1.100)" font-size="5.75" stroke="#1a1a1a" stroke-width="0.08" fill="#1a1a1a">count=11</text>
<path d="M422.9 134.9H436.1" stroke="#c6c6c6" stroke-width="1.0"/>
<text transform="translate(437.10 137.58) scale(1 1.100)" font-size="5.75" stroke="#1a1a1a" stroke-width="0.08" fill="#1a1a1a">count=12</text>
<rect x="46.0" y="295.6" width="59.6" height="111.9" fill="#fff" stroke="#888888" stroke-width="0.8"/>
<path d="M46.0 313.6H105.6" stroke="#888888" stroke-width="0.8"/>
<text transform="translate(75.80 303.70) scale(1 1.150)" font-size="5.70" text-anchor="middle" font-weight="bold" stroke="#1a1a1a" stroke-width="0.18" fill="#1a1a1a">Spiking-LeNet-5</text>
<text transform="translate(75.80 312.00) scale(1 1.150)" font-size="5.70" text-anchor="middle" font-weight="bold" stroke="#1a1a1a" stroke-width="0.18" fill="#1a1a1a">max 0b analog T=20</text>
<path d="M55.9 318.2H68.9" stroke="#833fc6" stroke-width="1.0"/>
<text transform="translate(70.70 320.90) scale(1 1.100)" font-size="5.75" stroke="#1a1a1a" stroke-width="0.08" fill="#1a1a1a">count=0</text>
<path d="M55.9 325.9H68.9" stroke="#83b74e" stroke-width="1.0"/>
<text transform="translate(70.70 328.64) scale(1 1.100)" font-size="5.75" stroke="#1a1a1a" stroke-width="0.08" fill="#1a1a1a">count=1</text>
<path d="M55.9 333.7H68.9" stroke="#3f3f3f" stroke-width="1.0"/>
<text transform="translate(70.70 336.38) scale(1 1.100)" font-size="5.75" stroke="#1a1a1a" stroke-width="0.08" fill="#1a1a1a">count=2</text>
<path d="M55.9 341.4H68.9" stroke="#83fbbf" stroke-width="1.0"/>
<text transform="translate(70.70 344.12) scale(1 1.100)" font-size="5.75" stroke="#1a1a1a" stroke-width="0.08" fill="#1a1a1a">count=3</text>
<path d="M55.9 349.2H68.9" stroke="#4e83c6" stroke-width="1.0"/>
<text transform="translate(70.70 351.86) scale(1 1.100)" font-size="5.75" stroke="#1a1a1a" stroke-width="0.08" fill="#1a1a1a">count=4</text>
<path d="M55.9 356.9H68.9" stroke="#d2f68a" stroke-width="1.0"/>
<text transform="translate(70.70 359.60) scale(1 1.100)" font-size="5.75" stroke="#1a1a1a" stroke-width="0.08" fill="#1a1a1a">count=5</text>
<path d="M55.9 364.6H68.9" stroke="#89c5f9" stroke-width="1.0"/>
<text transform="translate(70.70 367.34) scale(1 1.100)" font-size="5.75" stroke="#1a1a1a" stroke-width="0.08" fill="#1a1a1a">count=6</text>
<path d="M55.9 372.4H68.9" stroke="#4eff4e" stroke-width="1.0"/>
<text transform="translate(70.70 375.08) scale(1 1.100)" font-size="5.75" stroke="#1a1a1a" stroke-width="0.08" fill="#1a1a1a">count=7</text>
<path d="M55.9 380.1H68.9" stroke="#ff83c6" stroke-width="1.0"/>
<text transform="translate(70.70 382.82) scale(1 1.100)" font-size="5.75" stroke="#1a1a1a" stroke-width="0.08" fill="#1a1a1a">count=8</text>
<path d="M55.9 387.9H68.9" stroke="#c33f81" stroke-width="1.0"/>
<text transform="translate(70.70 390.56) scale(1 1.100)" font-size="5.75" stroke="#1a1a1a" stroke-width="0.08" fill="#1a1a1a">count=9</text>
<path d="M55.9 395.6H68.9" stroke="#4ebd8a" stroke-width="1.0"/>
<text transform="translate(70.70 398.30) scale(1 1.100)" font-size="5.75" stroke="#1a1a1a" stroke-width="0.08" fill="#1a1a1a">count=10</text>
<path d="M55.9 403.3H68.9" stroke="#c68aff" stroke-width="1.0"/>
<text transform="translate(70.70 406.04) scale(1 1.100)" font-size="5.75" stroke="#1a1a1a" stroke-width="0.08" fill="#1a1a1a">count=11</text>
<rect x="416.3" y="298.6" width="59.2" height="142.7" fill="#fff" stroke="#888888" stroke-width="0.8"/>
<path d="M416.3 315.4H475.5" stroke="#888888" stroke-width="0.8"/>
<text transform="translate(445.90 306.00) scale(1 1.150)" font-size="5.70" text-anchor="middle" font-weight="bold" stroke="#1a1a1a" stroke-width="0.18" fill="#1a1a1a">Spiking-LeNet-5</text>
<text transform="translate(445.90 313.90) scale(1 1.150)" font-size="5.70" text-anchor="middle" font-weight="bold" stroke="#1a1a1a" stroke-width="0.18" fill="#1a1a1a">avg BN analog T=20</text>
<path d="M426.2 321.1H439.4" stroke="#833fc6" stroke-width="1.0"/>
<text transform="translate(440.50 323.80) scale(1 1.100)" font-size="5.75" stroke="#1a1a1a" stroke-width="0.08" fill="#1a1a1a">count=0</text>
<path d="M426.2 328.9H439.4" stroke="#83b74e" stroke-width="1.0"/>
<text transform="translate(440.50 331.55) scale(1 1.100)" font-size="5.75" stroke="#1a1a1a" stroke-width="0.08" fill="#1a1a1a">count=1</text>
<path d="M426.2 336.6H439.4" stroke="#3f3f3f" stroke-width="1.0"/>
<text transform="translate(440.50 339.30) scale(1 1.100)" font-size="5.75" stroke="#1a1a1a" stroke-width="0.08" fill="#1a1a1a">count=2</text>
<path d="M426.2 344.4H439.4" stroke="#83fbbf" stroke-width="1.0"/>
<text transform="translate(440.50 347.05) scale(1 1.100)" font-size="5.75" stroke="#1a1a1a" stroke-width="0.08" fill="#1a1a1a">count=3</text>
<path d="M426.2 352.1H439.4" stroke="#4e83c6" stroke-width="1.0"/>
<text transform="translate(440.50 354.80) scale(1 1.100)" font-size="5.75" stroke="#1a1a1a" stroke-width="0.08" fill="#1a1a1a">count=4</text>
<path d="M426.2 359.9H439.4" stroke="#d2f68a" stroke-width="1.0"/>
<text transform="translate(440.50 362.55) scale(1 1.100)" font-size="5.75" stroke="#1a1a1a" stroke-width="0.08" fill="#1a1a1a">count=5</text>
<path d="M426.2 367.6H439.4" stroke="#89c5f9" stroke-width="1.0"/>
<text transform="translate(440.50 370.30) scale(1 1.100)" font-size="5.75" stroke="#1a1a1a" stroke-width="0.08" fill="#1a1a1a">count=6</text>
<path d="M426.2 375.4H439.4" stroke="#4eff4e" stroke-width="1.0"/>
<text transform="translate(440.50 378.05) scale(1 1.100)" font-size="5.75" stroke="#1a1a1a" stroke-width="0.08" fill="#1a1a1a">count=7</text>
<path d="M426.2 383.1H439.4" stroke="#ff83c6" stroke-width="1.0"/>
<text transform="translate(440.50 385.80) scale(1 1.100)" font-size="5.75" stroke="#1a1a1a" stroke-width="0.08" fill="#1a1a1a">count=8</text>
<path d="M426.2 390.9H439.4" stroke="#c33f81" stroke-width="1.0"/>
<text transform="translate(440.50 393.55) scale(1 1.100)" font-size="5.75" stroke="#1a1a1a" stroke-width="0.08" fill="#1a1a1a">count=9</text>
<path d="M426.2 398.6H439.4" stroke="#4ebd8a" stroke-width="1.0"/>
<text transform="translate(440.50 401.30) scale(1 1.100)" font-size="5.75" stroke="#1a1a1a" stroke-width="0.08" fill="#1a1a1a">count=10</text>
<path d="M426.2 406.4H439.4" stroke="#c68aff" stroke-width="1.0"/>
<text transform="translate(440.50 409.05) scale(1 1.100)" font-size="5.75" stroke="#1a1a1a" stroke-width="0.08" fill="#1a1a1a">count=11</text>
<path d="M426.2 414.1H439.4" stroke="#c6c6c6" stroke-width="1.0"/>
<text transform="translate(440.50 416.80) scale(1 1.100)" font-size="5.75" stroke="#1a1a1a" stroke-width="0.08" fill="#1a1a1a">count=12</text>
<path d="M426.2 421.9H439.4" stroke="#f9bd7b" stroke-width="1.0"/>
<text transform="translate(440.50 424.55) scale(1 1.100)" font-size="5.75" stroke="#1a1a1a" stroke-width="0.08" fill="#1a1a1a">count=13</text>
<path d="M426.2 429.6H439.4" stroke="#ffff3f" stroke-width="1.0"/>
<text transform="translate(440.50 432.30) scale(1 1.100)" font-size="5.75" stroke="#1a1a1a" stroke-width="0.08" fill="#1a1a1a">count=14</text>
<path d="M426.2 437.4H439.4" stroke="#ff3fff" stroke-width="1.0"/>
<text transform="translate(440.50 440.05) scale(1 1.100)" font-size="5.75" stroke="#1a1a1a" stroke-width="0.08" fill="#1a1a1a">count=15</text>
</g>
</svg></body></html>
